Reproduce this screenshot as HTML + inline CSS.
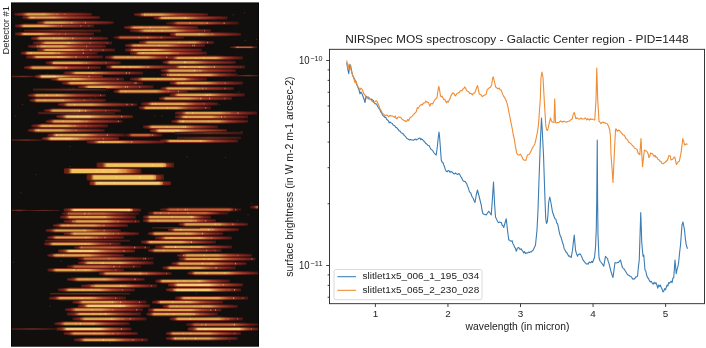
<!DOCTYPE html>
<html><head><meta charset="utf-8"><style>
html,body{margin:0;padding:0;background:#fff;width:706px;height:348px;overflow:hidden}
svg{display:block}
text{font-family:"Liberation Sans", sans-serif;fill:#222}
</style></head><body>
<svg width="706" height="348" viewBox="0 0 706 348">
<rect width="706" height="348" fill="#fff"/>
<defs><linearGradient id="g0" x1="0" x2="1" y1="0" y2="0"><stop offset="0.000" stop-color="#8a2620" stop-opacity="0.5"/><stop offset="0.096" stop-color="#8a2620" stop-opacity="1"/><stop offset="0.174" stop-color="#daa44e" stop-opacity="1"/><stop offset="0.383" stop-color="#daa44e" stop-opacity="1"/><stop offset="0.599" stop-color="#a8402a" stop-opacity="1"/><stop offset="0.900" stop-color="#74201e" stop-opacity="1"/><stop offset="1.000" stop-color="#8a2620" stop-opacity="0.3"/></linearGradient><linearGradient id="h0" x1="0" x2="1" y1="0" y2="0"><stop offset="0.000" stop-color="#521614" stop-opacity="0.6"/><stop offset="0.174" stop-color="#822c1e" stop-opacity="1"/><stop offset="0.383" stop-color="#822c1e" stop-opacity="1"/><stop offset="0.900" stop-color="#521614" stop-opacity="1"/><stop offset="1.000" stop-color="#521614" stop-opacity="0.5"/></linearGradient><linearGradient id="g1" x1="0" x2="1" y1="0" y2="0"><stop offset="0.000" stop-color="#8a2620" stop-opacity="0.5"/><stop offset="0.053" stop-color="#8a2620" stop-opacity="1"/><stop offset="0.097" stop-color="#daa44e" stop-opacity="1"/><stop offset="0.399" stop-color="#daa44e" stop-opacity="1"/><stop offset="0.609" stop-color="#a8402a" stop-opacity="1"/><stop offset="0.900" stop-color="#74201e" stop-opacity="1"/><stop offset="1.000" stop-color="#8a2620" stop-opacity="0.3"/></linearGradient><linearGradient id="h1" x1="0" x2="1" y1="0" y2="0"><stop offset="0.000" stop-color="#521614" stop-opacity="0.6"/><stop offset="0.097" stop-color="#822c1e" stop-opacity="1"/><stop offset="0.399" stop-color="#822c1e" stop-opacity="1"/><stop offset="0.900" stop-color="#521614" stop-opacity="1"/><stop offset="1.000" stop-color="#521614" stop-opacity="0.5"/></linearGradient><linearGradient id="g2" x1="0" x2="1" y1="0" y2="0"><stop offset="0.000" stop-color="#8a2620" stop-opacity="0.5"/><stop offset="0.065" stop-color="#8a2620" stop-opacity="1"/><stop offset="0.117" stop-color="#daa44e" stop-opacity="1"/><stop offset="0.329" stop-color="#daa44e" stop-opacity="1"/><stop offset="0.564" stop-color="#a8402a" stop-opacity="1"/><stop offset="0.900" stop-color="#74201e" stop-opacity="1"/><stop offset="1.000" stop-color="#8a2620" stop-opacity="0.3"/></linearGradient><linearGradient id="h2" x1="0" x2="1" y1="0" y2="0"><stop offset="0.000" stop-color="#521614" stop-opacity="0.6"/><stop offset="0.117" stop-color="#822c1e" stop-opacity="1"/><stop offset="0.329" stop-color="#822c1e" stop-opacity="1"/><stop offset="0.900" stop-color="#521614" stop-opacity="1"/><stop offset="1.000" stop-color="#521614" stop-opacity="0.5"/></linearGradient><linearGradient id="g3" x1="0" x2="1" y1="0" y2="0"><stop offset="0.000" stop-color="#8a2620" stop-opacity="0.5"/><stop offset="0.063" stop-color="#8a2620" stop-opacity="1"/><stop offset="0.114" stop-color="#daa44e" stop-opacity="1"/><stop offset="0.365" stop-color="#daa44e" stop-opacity="1"/><stop offset="0.587" stop-color="#a8402a" stop-opacity="1"/><stop offset="0.900" stop-color="#74201e" stop-opacity="1"/><stop offset="1.000" stop-color="#8a2620" stop-opacity="0.3"/></linearGradient><linearGradient id="h3" x1="0" x2="1" y1="0" y2="0"><stop offset="0.000" stop-color="#521614" stop-opacity="0.6"/><stop offset="0.114" stop-color="#822c1e" stop-opacity="1"/><stop offset="0.365" stop-color="#822c1e" stop-opacity="1"/><stop offset="0.900" stop-color="#521614" stop-opacity="1"/><stop offset="1.000" stop-color="#521614" stop-opacity="0.5"/></linearGradient><linearGradient id="g4" x1="0" x2="1" y1="0" y2="0"><stop offset="0.000" stop-color="#8a2620" stop-opacity="0.5"/><stop offset="0.074" stop-color="#8a2620" stop-opacity="1"/><stop offset="0.135" stop-color="#daa44e" stop-opacity="1"/><stop offset="0.573" stop-color="#daa44e" stop-opacity="1"/><stop offset="0.722" stop-color="#a8402a" stop-opacity="1"/><stop offset="0.900" stop-color="#74201e" stop-opacity="1"/><stop offset="1.000" stop-color="#8a2620" stop-opacity="0.3"/></linearGradient><linearGradient id="h4" x1="0" x2="1" y1="0" y2="0"><stop offset="0.000" stop-color="#521614" stop-opacity="0.6"/><stop offset="0.135" stop-color="#822c1e" stop-opacity="1"/><stop offset="0.573" stop-color="#822c1e" stop-opacity="1"/><stop offset="0.900" stop-color="#521614" stop-opacity="1"/><stop offset="1.000" stop-color="#521614" stop-opacity="0.5"/></linearGradient><linearGradient id="g5" x1="0" x2="1" y1="0" y2="0"><stop offset="0.000" stop-color="#4a2018" stop-opacity="0.9"/><stop offset="0.500" stop-color="#6e3024" stop-opacity="1"/><stop offset="1.000" stop-color="#461c16" stop-opacity="0.8"/></linearGradient><linearGradient id="h5" x1="0" x2="1" y1="0" y2="0"><stop offset="0.000" stop-color="#22100c" stop-opacity="0.8"/><stop offset="0.500" stop-color="#2e140e" stop-opacity="1"/><stop offset="1.000" stop-color="#22100c" stop-opacity="0.8"/></linearGradient><linearGradient id="g6" x1="0" x2="1" y1="0" y2="0"><stop offset="0.000" stop-color="#8a2620" stop-opacity="0.5"/><stop offset="0.063" stop-color="#8a2620" stop-opacity="1"/><stop offset="0.114" stop-color="#daa44e" stop-opacity="1"/><stop offset="0.319" stop-color="#daa44e" stop-opacity="1"/><stop offset="0.557" stop-color="#a8402a" stop-opacity="1"/><stop offset="0.900" stop-color="#74201e" stop-opacity="1"/><stop offset="1.000" stop-color="#8a2620" stop-opacity="0.3"/></linearGradient><linearGradient id="h6" x1="0" x2="1" y1="0" y2="0"><stop offset="0.000" stop-color="#521614" stop-opacity="0.6"/><stop offset="0.114" stop-color="#822c1e" stop-opacity="1"/><stop offset="0.319" stop-color="#822c1e" stop-opacity="1"/><stop offset="0.900" stop-color="#521614" stop-opacity="1"/><stop offset="1.000" stop-color="#521614" stop-opacity="0.5"/></linearGradient><linearGradient id="g7" x1="0" x2="1" y1="0" y2="0"><stop offset="0.000" stop-color="#6a1e14" stop-opacity="0.5"/><stop offset="0.055" stop-color="#6a1e14" stop-opacity="1"/><stop offset="0.099" stop-color="#c06034" stop-opacity="1"/><stop offset="0.475" stop-color="#c06034" stop-opacity="1"/><stop offset="0.659" stop-color="#9a3428" stop-opacity="1"/><stop offset="0.900" stop-color="#601a14" stop-opacity="1"/><stop offset="1.000" stop-color="#6a1e14" stop-opacity="0.3"/></linearGradient><linearGradient id="h7" x1="0" x2="1" y1="0" y2="0"><stop offset="0.000" stop-color="#3e120e" stop-opacity="0.6"/><stop offset="0.099" stop-color="#5a1c14" stop-opacity="1"/><stop offset="0.475" stop-color="#5a1c14" stop-opacity="1"/><stop offset="0.900" stop-color="#3e120e" stop-opacity="1"/><stop offset="1.000" stop-color="#3e120e" stop-opacity="0.5"/></linearGradient><linearGradient id="g8" x1="0" x2="1" y1="0" y2="0"><stop offset="0.000" stop-color="#8a2620" stop-opacity="0.5"/><stop offset="0.064" stop-color="#8a2620" stop-opacity="1"/><stop offset="0.117" stop-color="#daa44e" stop-opacity="1"/><stop offset="0.397" stop-color="#daa44e" stop-opacity="1"/><stop offset="0.608" stop-color="#a8402a" stop-opacity="1"/><stop offset="0.900" stop-color="#74201e" stop-opacity="1"/><stop offset="1.000" stop-color="#8a2620" stop-opacity="0.3"/></linearGradient><linearGradient id="h8" x1="0" x2="1" y1="0" y2="0"><stop offset="0.000" stop-color="#521614" stop-opacity="0.6"/><stop offset="0.117" stop-color="#822c1e" stop-opacity="1"/><stop offset="0.397" stop-color="#822c1e" stop-opacity="1"/><stop offset="0.900" stop-color="#521614" stop-opacity="1"/><stop offset="1.000" stop-color="#521614" stop-opacity="0.5"/></linearGradient><linearGradient id="g9" x1="0" x2="1" y1="0" y2="0"><stop offset="0.000" stop-color="#8a2620" stop-opacity="0.5"/><stop offset="0.091" stop-color="#8a2620" stop-opacity="1"/><stop offset="0.165" stop-color="#daa44e" stop-opacity="1"/><stop offset="0.461" stop-color="#daa44e" stop-opacity="1"/><stop offset="0.649" stop-color="#a8402a" stop-opacity="1"/><stop offset="0.900" stop-color="#74201e" stop-opacity="1"/><stop offset="1.000" stop-color="#8a2620" stop-opacity="0.3"/></linearGradient><linearGradient id="h9" x1="0" x2="1" y1="0" y2="0"><stop offset="0.000" stop-color="#521614" stop-opacity="0.6"/><stop offset="0.165" stop-color="#822c1e" stop-opacity="1"/><stop offset="0.461" stop-color="#822c1e" stop-opacity="1"/><stop offset="0.900" stop-color="#521614" stop-opacity="1"/><stop offset="1.000" stop-color="#521614" stop-opacity="0.5"/></linearGradient><linearGradient id="g10" x1="0" x2="1" y1="0" y2="0"><stop offset="0.000" stop-color="#8a2620" stop-opacity="0.5"/><stop offset="0.099" stop-color="#8a2620" stop-opacity="1"/><stop offset="0.179" stop-color="#daa44e" stop-opacity="1"/><stop offset="0.433" stop-color="#daa44e" stop-opacity="1"/><stop offset="0.632" stop-color="#a8402a" stop-opacity="1"/><stop offset="0.900" stop-color="#74201e" stop-opacity="1"/><stop offset="1.000" stop-color="#8a2620" stop-opacity="0.3"/></linearGradient><linearGradient id="h10" x1="0" x2="1" y1="0" y2="0"><stop offset="0.000" stop-color="#521614" stop-opacity="0.6"/><stop offset="0.179" stop-color="#822c1e" stop-opacity="1"/><stop offset="0.433" stop-color="#822c1e" stop-opacity="1"/><stop offset="0.900" stop-color="#521614" stop-opacity="1"/><stop offset="1.000" stop-color="#521614" stop-opacity="0.5"/></linearGradient><linearGradient id="g11" x1="0" x2="1" y1="0" y2="0"><stop offset="0.000" stop-color="#8a2620" stop-opacity="0.5"/><stop offset="0.063" stop-color="#8a2620" stop-opacity="1"/><stop offset="0.115" stop-color="#daa44e" stop-opacity="1"/><stop offset="0.415" stop-color="#daa44e" stop-opacity="1"/><stop offset="0.620" stop-color="#a8402a" stop-opacity="1"/><stop offset="0.900" stop-color="#74201e" stop-opacity="1"/><stop offset="1.000" stop-color="#8a2620" stop-opacity="0.3"/></linearGradient><linearGradient id="h11" x1="0" x2="1" y1="0" y2="0"><stop offset="0.000" stop-color="#521614" stop-opacity="0.6"/><stop offset="0.115" stop-color="#822c1e" stop-opacity="1"/><stop offset="0.415" stop-color="#822c1e" stop-opacity="1"/><stop offset="0.900" stop-color="#521614" stop-opacity="1"/><stop offset="1.000" stop-color="#521614" stop-opacity="0.5"/></linearGradient><linearGradient id="g12" x1="0" x2="1" y1="0" y2="0"><stop offset="0.000" stop-color="#8a2620" stop-opacity="0.5"/><stop offset="0.052" stop-color="#8a2620" stop-opacity="1"/><stop offset="0.095" stop-color="#daa44e" stop-opacity="1"/><stop offset="0.411" stop-color="#daa44e" stop-opacity="1"/><stop offset="0.617" stop-color="#a8402a" stop-opacity="1"/><stop offset="0.900" stop-color="#74201e" stop-opacity="1"/><stop offset="1.000" stop-color="#8a2620" stop-opacity="0.3"/></linearGradient><linearGradient id="h12" x1="0" x2="1" y1="0" y2="0"><stop offset="0.000" stop-color="#521614" stop-opacity="0.6"/><stop offset="0.095" stop-color="#822c1e" stop-opacity="1"/><stop offset="0.411" stop-color="#822c1e" stop-opacity="1"/><stop offset="0.900" stop-color="#521614" stop-opacity="1"/><stop offset="1.000" stop-color="#521614" stop-opacity="0.5"/></linearGradient><linearGradient id="g13" x1="0" x2="1" y1="0" y2="0"><stop offset="0.000" stop-color="#8a2620" stop-opacity="0.5"/><stop offset="0.079" stop-color="#8a2620" stop-opacity="1"/><stop offset="0.143" stop-color="#daa44e" stop-opacity="1"/><stop offset="0.458" stop-color="#daa44e" stop-opacity="1"/><stop offset="0.648" stop-color="#a8402a" stop-opacity="1"/><stop offset="0.900" stop-color="#74201e" stop-opacity="1"/><stop offset="1.000" stop-color="#8a2620" stop-opacity="0.3"/></linearGradient><linearGradient id="h13" x1="0" x2="1" y1="0" y2="0"><stop offset="0.000" stop-color="#521614" stop-opacity="0.6"/><stop offset="0.143" stop-color="#822c1e" stop-opacity="1"/><stop offset="0.458" stop-color="#822c1e" stop-opacity="1"/><stop offset="0.900" stop-color="#521614" stop-opacity="1"/><stop offset="1.000" stop-color="#521614" stop-opacity="0.5"/></linearGradient><linearGradient id="g14" x1="0" x2="1" y1="0" y2="0"><stop offset="0.000" stop-color="#8a2620" stop-opacity="0.5"/><stop offset="0.082" stop-color="#8a2620" stop-opacity="1"/><stop offset="0.149" stop-color="#daa44e" stop-opacity="1"/><stop offset="0.368" stop-color="#daa44e" stop-opacity="1"/><stop offset="0.589" stop-color="#a8402a" stop-opacity="1"/><stop offset="0.900" stop-color="#74201e" stop-opacity="1"/><stop offset="1.000" stop-color="#8a2620" stop-opacity="0.3"/></linearGradient><linearGradient id="h14" x1="0" x2="1" y1="0" y2="0"><stop offset="0.000" stop-color="#521614" stop-opacity="0.6"/><stop offset="0.149" stop-color="#822c1e" stop-opacity="1"/><stop offset="0.368" stop-color="#822c1e" stop-opacity="1"/><stop offset="0.900" stop-color="#521614" stop-opacity="1"/><stop offset="1.000" stop-color="#521614" stop-opacity="0.5"/></linearGradient><linearGradient id="g15" x1="0" x2="1" y1="0" y2="0"><stop offset="0.000" stop-color="#8a2620" stop-opacity="0.5"/><stop offset="0.062" stop-color="#8a2620" stop-opacity="1"/><stop offset="0.113" stop-color="#daa44e" stop-opacity="1"/><stop offset="0.429" stop-color="#daa44e" stop-opacity="1"/><stop offset="0.629" stop-color="#a8402a" stop-opacity="1"/><stop offset="0.900" stop-color="#74201e" stop-opacity="1"/><stop offset="1.000" stop-color="#8a2620" stop-opacity="0.3"/></linearGradient><linearGradient id="h15" x1="0" x2="1" y1="0" y2="0"><stop offset="0.000" stop-color="#521614" stop-opacity="0.6"/><stop offset="0.113" stop-color="#822c1e" stop-opacity="1"/><stop offset="0.429" stop-color="#822c1e" stop-opacity="1"/><stop offset="0.900" stop-color="#521614" stop-opacity="1"/><stop offset="1.000" stop-color="#521614" stop-opacity="0.5"/></linearGradient><linearGradient id="g16" x1="0" x2="1" y1="0" y2="0"><stop offset="0.000" stop-color="#6a1e14" stop-opacity="0.5"/><stop offset="0.090" stop-color="#6a1e14" stop-opacity="1"/><stop offset="0.164" stop-color="#c06034" stop-opacity="1"/><stop offset="0.497" stop-color="#c06034" stop-opacity="1"/><stop offset="0.673" stop-color="#9a3428" stop-opacity="1"/><stop offset="0.900" stop-color="#601a14" stop-opacity="1"/><stop offset="1.000" stop-color="#6a1e14" stop-opacity="0.3"/></linearGradient><linearGradient id="h16" x1="0" x2="1" y1="0" y2="0"><stop offset="0.000" stop-color="#3e120e" stop-opacity="0.6"/><stop offset="0.164" stop-color="#5a1c14" stop-opacity="1"/><stop offset="0.497" stop-color="#5a1c14" stop-opacity="1"/><stop offset="0.900" stop-color="#3e120e" stop-opacity="1"/><stop offset="1.000" stop-color="#3e120e" stop-opacity="0.5"/></linearGradient><linearGradient id="g17" x1="0" x2="1" y1="0" y2="0"><stop offset="0.000" stop-color="#8a2620" stop-opacity="0.5"/><stop offset="0.102" stop-color="#8a2620" stop-opacity="1"/><stop offset="0.185" stop-color="#daa44e" stop-opacity="1"/><stop offset="0.552" stop-color="#daa44e" stop-opacity="1"/><stop offset="0.709" stop-color="#a8402a" stop-opacity="1"/><stop offset="0.900" stop-color="#74201e" stop-opacity="1"/><stop offset="1.000" stop-color="#8a2620" stop-opacity="0.3"/></linearGradient><linearGradient id="h17" x1="0" x2="1" y1="0" y2="0"><stop offset="0.000" stop-color="#521614" stop-opacity="0.6"/><stop offset="0.185" stop-color="#822c1e" stop-opacity="1"/><stop offset="0.552" stop-color="#822c1e" stop-opacity="1"/><stop offset="0.900" stop-color="#521614" stop-opacity="1"/><stop offset="1.000" stop-color="#521614" stop-opacity="0.5"/></linearGradient><linearGradient id="g18" x1="0" x2="1" y1="0" y2="0"><stop offset="0.000" stop-color="#8a2620" stop-opacity="0.5"/><stop offset="0.054" stop-color="#8a2620" stop-opacity="1"/><stop offset="0.099" stop-color="#daa44e" stop-opacity="1"/><stop offset="0.454" stop-color="#daa44e" stop-opacity="1"/><stop offset="0.645" stop-color="#a8402a" stop-opacity="1"/><stop offset="0.900" stop-color="#74201e" stop-opacity="1"/><stop offset="1.000" stop-color="#8a2620" stop-opacity="0.3"/></linearGradient><linearGradient id="h18" x1="0" x2="1" y1="0" y2="0"><stop offset="0.000" stop-color="#521614" stop-opacity="0.6"/><stop offset="0.099" stop-color="#822c1e" stop-opacity="1"/><stop offset="0.454" stop-color="#822c1e" stop-opacity="1"/><stop offset="0.900" stop-color="#521614" stop-opacity="1"/><stop offset="1.000" stop-color="#521614" stop-opacity="0.5"/></linearGradient><linearGradient id="g19" x1="0" x2="1" y1="0" y2="0"><stop offset="0.000" stop-color="#8a2620" stop-opacity="0.5"/><stop offset="0.066" stop-color="#8a2620" stop-opacity="1"/><stop offset="0.120" stop-color="#daa44e" stop-opacity="1"/><stop offset="0.744" stop-color="#daa44e" stop-opacity="1"/><stop offset="0.834" stop-color="#a8402a" stop-opacity="1"/><stop offset="0.900" stop-color="#74201e" stop-opacity="1"/><stop offset="1.000" stop-color="#8a2620" stop-opacity="0.3"/></linearGradient><linearGradient id="h19" x1="0" x2="1" y1="0" y2="0"><stop offset="0.000" stop-color="#521614" stop-opacity="0.6"/><stop offset="0.120" stop-color="#822c1e" stop-opacity="1"/><stop offset="0.744" stop-color="#822c1e" stop-opacity="1"/><stop offset="0.900" stop-color="#521614" stop-opacity="1"/><stop offset="1.000" stop-color="#521614" stop-opacity="0.5"/></linearGradient><linearGradient id="g20" x1="0" x2="1" y1="0" y2="0"><stop offset="0.000" stop-color="#8a2620" stop-opacity="0.5"/><stop offset="0.062" stop-color="#8a2620" stop-opacity="1"/><stop offset="0.113" stop-color="#daa44e" stop-opacity="1"/><stop offset="0.518" stop-color="#daa44e" stop-opacity="1"/><stop offset="0.686" stop-color="#a8402a" stop-opacity="1"/><stop offset="0.900" stop-color="#74201e" stop-opacity="1"/><stop offset="1.000" stop-color="#8a2620" stop-opacity="0.3"/></linearGradient><linearGradient id="h20" x1="0" x2="1" y1="0" y2="0"><stop offset="0.000" stop-color="#521614" stop-opacity="0.6"/><stop offset="0.113" stop-color="#822c1e" stop-opacity="1"/><stop offset="0.518" stop-color="#822c1e" stop-opacity="1"/><stop offset="0.900" stop-color="#521614" stop-opacity="1"/><stop offset="1.000" stop-color="#521614" stop-opacity="0.5"/></linearGradient><linearGradient id="g21" x1="0" x2="1" y1="0" y2="0"><stop offset="0.000" stop-color="#6a1e14" stop-opacity="0.5"/><stop offset="0.143" stop-color="#6a1e14" stop-opacity="1"/><stop offset="0.259" stop-color="#c06034" stop-opacity="1"/><stop offset="0.759" stop-color="#c06034" stop-opacity="1"/><stop offset="0.844" stop-color="#9a3428" stop-opacity="1"/><stop offset="0.900" stop-color="#601a14" stop-opacity="1"/><stop offset="1.000" stop-color="#6a1e14" stop-opacity="0.3"/></linearGradient><linearGradient id="h21" x1="0" x2="1" y1="0" y2="0"><stop offset="0.000" stop-color="#3e120e" stop-opacity="0.6"/><stop offset="0.259" stop-color="#5a1c14" stop-opacity="1"/><stop offset="0.759" stop-color="#5a1c14" stop-opacity="1"/><stop offset="0.900" stop-color="#3e120e" stop-opacity="1"/><stop offset="1.000" stop-color="#3e120e" stop-opacity="0.5"/></linearGradient><linearGradient id="g22" x1="0" x2="1" y1="0" y2="0"><stop offset="0.000" stop-color="#8a2620" stop-opacity="0.5"/><stop offset="0.064" stop-color="#8a2620" stop-opacity="1"/><stop offset="0.117" stop-color="#daa44e" stop-opacity="1"/><stop offset="0.421" stop-color="#daa44e" stop-opacity="1"/><stop offset="0.624" stop-color="#a8402a" stop-opacity="1"/><stop offset="0.900" stop-color="#74201e" stop-opacity="1"/><stop offset="1.000" stop-color="#8a2620" stop-opacity="0.3"/></linearGradient><linearGradient id="h22" x1="0" x2="1" y1="0" y2="0"><stop offset="0.000" stop-color="#521614" stop-opacity="0.6"/><stop offset="0.117" stop-color="#822c1e" stop-opacity="1"/><stop offset="0.421" stop-color="#822c1e" stop-opacity="1"/><stop offset="0.900" stop-color="#521614" stop-opacity="1"/><stop offset="1.000" stop-color="#521614" stop-opacity="0.5"/></linearGradient><linearGradient id="g23" x1="0" x2="1" y1="0" y2="0"><stop offset="0.000" stop-color="#8a2620" stop-opacity="0.5"/><stop offset="0.071" stop-color="#8a2620" stop-opacity="1"/><stop offset="0.130" stop-color="#daa44e" stop-opacity="1"/><stop offset="0.481" stop-color="#daa44e" stop-opacity="1"/><stop offset="0.662" stop-color="#a8402a" stop-opacity="1"/><stop offset="0.900" stop-color="#74201e" stop-opacity="1"/><stop offset="1.000" stop-color="#8a2620" stop-opacity="0.3"/></linearGradient><linearGradient id="h23" x1="0" x2="1" y1="0" y2="0"><stop offset="0.000" stop-color="#521614" stop-opacity="0.6"/><stop offset="0.130" stop-color="#822c1e" stop-opacity="1"/><stop offset="0.481" stop-color="#822c1e" stop-opacity="1"/><stop offset="0.900" stop-color="#521614" stop-opacity="1"/><stop offset="1.000" stop-color="#521614" stop-opacity="0.5"/></linearGradient><linearGradient id="g24" x1="0" x2="1" y1="0" y2="0"><stop offset="0.000" stop-color="#8a2620" stop-opacity="0.5"/><stop offset="0.073" stop-color="#8a2620" stop-opacity="1"/><stop offset="0.133" stop-color="#daa44e" stop-opacity="1"/><stop offset="0.553" stop-color="#daa44e" stop-opacity="1"/><stop offset="0.710" stop-color="#a8402a" stop-opacity="1"/><stop offset="0.900" stop-color="#74201e" stop-opacity="1"/><stop offset="1.000" stop-color="#8a2620" stop-opacity="0.3"/></linearGradient><linearGradient id="h24" x1="0" x2="1" y1="0" y2="0"><stop offset="0.000" stop-color="#521614" stop-opacity="0.6"/><stop offset="0.133" stop-color="#822c1e" stop-opacity="1"/><stop offset="0.553" stop-color="#822c1e" stop-opacity="1"/><stop offset="0.900" stop-color="#521614" stop-opacity="1"/><stop offset="1.000" stop-color="#521614" stop-opacity="0.5"/></linearGradient><linearGradient id="g25" x1="0" x2="1" y1="0" y2="0"><stop offset="0.000" stop-color="#8a2620" stop-opacity="0.5"/><stop offset="0.086" stop-color="#8a2620" stop-opacity="1"/><stop offset="0.156" stop-color="#daa44e" stop-opacity="1"/><stop offset="0.647" stop-color="#daa44e" stop-opacity="1"/><stop offset="0.770" stop-color="#a8402a" stop-opacity="1"/><stop offset="0.900" stop-color="#74201e" stop-opacity="1"/><stop offset="1.000" stop-color="#8a2620" stop-opacity="0.3"/></linearGradient><linearGradient id="h25" x1="0" x2="1" y1="0" y2="0"><stop offset="0.000" stop-color="#521614" stop-opacity="0.6"/><stop offset="0.156" stop-color="#822c1e" stop-opacity="1"/><stop offset="0.647" stop-color="#822c1e" stop-opacity="1"/><stop offset="0.900" stop-color="#521614" stop-opacity="1"/><stop offset="1.000" stop-color="#521614" stop-opacity="0.5"/></linearGradient><linearGradient id="g26" x1="0" x2="1" y1="0" y2="0"><stop offset="0.000" stop-color="#8a2620" stop-opacity="0.5"/><stop offset="0.065" stop-color="#8a2620" stop-opacity="1"/><stop offset="0.119" stop-color="#daa44e" stop-opacity="1"/><stop offset="0.435" stop-color="#daa44e" stop-opacity="1"/><stop offset="0.633" stop-color="#a8402a" stop-opacity="1"/><stop offset="0.900" stop-color="#74201e" stop-opacity="1"/><stop offset="1.000" stop-color="#8a2620" stop-opacity="0.3"/></linearGradient><linearGradient id="h26" x1="0" x2="1" y1="0" y2="0"><stop offset="0.000" stop-color="#521614" stop-opacity="0.6"/><stop offset="0.119" stop-color="#822c1e" stop-opacity="1"/><stop offset="0.435" stop-color="#822c1e" stop-opacity="1"/><stop offset="0.900" stop-color="#521614" stop-opacity="1"/><stop offset="1.000" stop-color="#521614" stop-opacity="0.5"/></linearGradient><linearGradient id="g27" x1="0" x2="1" y1="0" y2="0"><stop offset="0.000" stop-color="#8a2620" stop-opacity="0.5"/><stop offset="0.064" stop-color="#8a2620" stop-opacity="1"/><stop offset="0.117" stop-color="#daa44e" stop-opacity="1"/><stop offset="0.369" stop-color="#daa44e" stop-opacity="1"/><stop offset="0.590" stop-color="#a8402a" stop-opacity="1"/><stop offset="0.900" stop-color="#74201e" stop-opacity="1"/><stop offset="1.000" stop-color="#8a2620" stop-opacity="0.3"/></linearGradient><linearGradient id="h27" x1="0" x2="1" y1="0" y2="0"><stop offset="0.000" stop-color="#521614" stop-opacity="0.6"/><stop offset="0.117" stop-color="#822c1e" stop-opacity="1"/><stop offset="0.369" stop-color="#822c1e" stop-opacity="1"/><stop offset="0.900" stop-color="#521614" stop-opacity="1"/><stop offset="1.000" stop-color="#521614" stop-opacity="0.5"/></linearGradient><linearGradient id="g28" x1="0" x2="1" y1="0" y2="0"><stop offset="0.000" stop-color="#8a2620" stop-opacity="0.5"/><stop offset="0.050" stop-color="#8a2620" stop-opacity="1"/><stop offset="0.091" stop-color="#daa44e" stop-opacity="1"/><stop offset="0.406" stop-color="#daa44e" stop-opacity="1"/><stop offset="0.614" stop-color="#a8402a" stop-opacity="1"/><stop offset="0.900" stop-color="#74201e" stop-opacity="1"/><stop offset="1.000" stop-color="#8a2620" stop-opacity="0.3"/></linearGradient><linearGradient id="h28" x1="0" x2="1" y1="0" y2="0"><stop offset="0.000" stop-color="#521614" stop-opacity="0.6"/><stop offset="0.091" stop-color="#822c1e" stop-opacity="1"/><stop offset="0.406" stop-color="#822c1e" stop-opacity="1"/><stop offset="0.900" stop-color="#521614" stop-opacity="1"/><stop offset="1.000" stop-color="#521614" stop-opacity="0.5"/></linearGradient><linearGradient id="g29" x1="0" x2="1" y1="0" y2="0"><stop offset="0.000" stop-color="#8a2620" stop-opacity="0.5"/><stop offset="0.086" stop-color="#8a2620" stop-opacity="1"/><stop offset="0.156" stop-color="#daa44e" stop-opacity="1"/><stop offset="0.360" stop-color="#daa44e" stop-opacity="1"/><stop offset="0.584" stop-color="#a8402a" stop-opacity="1"/><stop offset="0.900" stop-color="#74201e" stop-opacity="1"/><stop offset="1.000" stop-color="#8a2620" stop-opacity="0.3"/></linearGradient><linearGradient id="h29" x1="0" x2="1" y1="0" y2="0"><stop offset="0.000" stop-color="#521614" stop-opacity="0.6"/><stop offset="0.156" stop-color="#822c1e" stop-opacity="1"/><stop offset="0.360" stop-color="#822c1e" stop-opacity="1"/><stop offset="0.900" stop-color="#521614" stop-opacity="1"/><stop offset="1.000" stop-color="#521614" stop-opacity="0.5"/></linearGradient><linearGradient id="g30" x1="0" x2="1" y1="0" y2="0"><stop offset="0.000" stop-color="#4a2018" stop-opacity="0.9"/><stop offset="0.500" stop-color="#6e3024" stop-opacity="1"/><stop offset="1.000" stop-color="#461c16" stop-opacity="0.8"/></linearGradient><linearGradient id="h30" x1="0" x2="1" y1="0" y2="0"><stop offset="0.000" stop-color="#22100c" stop-opacity="0.8"/><stop offset="0.500" stop-color="#2e140e" stop-opacity="1"/><stop offset="1.000" stop-color="#22100c" stop-opacity="0.8"/></linearGradient><linearGradient id="g31" x1="0" x2="1" y1="0" y2="0"><stop offset="0.000" stop-color="#9a3020" stop-opacity="0.5"/><stop offset="0.057" stop-color="#9a3020" stop-opacity="1"/><stop offset="0.103" stop-color="#eecb74" stop-opacity="1"/><stop offset="0.275" stop-color="#eecb74" stop-opacity="1"/><stop offset="0.529" stop-color="#c46038" stop-opacity="1"/><stop offset="0.900" stop-color="#8a2a1e" stop-opacity="1"/><stop offset="1.000" stop-color="#9a3020" stop-opacity="0.3"/></linearGradient><linearGradient id="h31" x1="0" x2="1" y1="0" y2="0"><stop offset="0.000" stop-color="#5e1a14" stop-opacity="0.6"/><stop offset="0.103" stop-color="#9a4426" stop-opacity="1"/><stop offset="0.275" stop-color="#9a4426" stop-opacity="1"/><stop offset="0.900" stop-color="#5e1a14" stop-opacity="1"/><stop offset="1.000" stop-color="#5e1a14" stop-opacity="0.5"/></linearGradient><linearGradient id="g32" x1="0" x2="1" y1="0" y2="0"><stop offset="0.000" stop-color="#8a2620" stop-opacity="0.5"/><stop offset="0.068" stop-color="#8a2620" stop-opacity="1"/><stop offset="0.123" stop-color="#daa44e" stop-opacity="1"/><stop offset="0.370" stop-color="#daa44e" stop-opacity="1"/><stop offset="0.590" stop-color="#a8402a" stop-opacity="1"/><stop offset="0.900" stop-color="#74201e" stop-opacity="1"/><stop offset="1.000" stop-color="#8a2620" stop-opacity="0.3"/></linearGradient><linearGradient id="h32" x1="0" x2="1" y1="0" y2="0"><stop offset="0.000" stop-color="#521614" stop-opacity="0.6"/><stop offset="0.123" stop-color="#822c1e" stop-opacity="1"/><stop offset="0.370" stop-color="#822c1e" stop-opacity="1"/><stop offset="0.900" stop-color="#521614" stop-opacity="1"/><stop offset="1.000" stop-color="#521614" stop-opacity="0.5"/></linearGradient><linearGradient id="g33" x1="0" x2="1" y1="0" y2="0"><stop offset="0.000" stop-color="#8a2620" stop-opacity="0.5"/><stop offset="0.060" stop-color="#8a2620" stop-opacity="1"/><stop offset="0.110" stop-color="#daa44e" stop-opacity="1"/><stop offset="0.368" stop-color="#daa44e" stop-opacity="1"/><stop offset="0.589" stop-color="#a8402a" stop-opacity="1"/><stop offset="0.900" stop-color="#74201e" stop-opacity="1"/><stop offset="1.000" stop-color="#8a2620" stop-opacity="0.3"/></linearGradient><linearGradient id="h33" x1="0" x2="1" y1="0" y2="0"><stop offset="0.000" stop-color="#521614" stop-opacity="0.6"/><stop offset="0.110" stop-color="#822c1e" stop-opacity="1"/><stop offset="0.368" stop-color="#822c1e" stop-opacity="1"/><stop offset="0.900" stop-color="#521614" stop-opacity="1"/><stop offset="1.000" stop-color="#521614" stop-opacity="0.5"/></linearGradient><linearGradient id="g34" x1="0" x2="1" y1="0" y2="0"><stop offset="0.000" stop-color="#8a2620" stop-opacity="0.5"/><stop offset="0.078" stop-color="#8a2620" stop-opacity="1"/><stop offset="0.141" stop-color="#daa44e" stop-opacity="1"/><stop offset="0.396" stop-color="#daa44e" stop-opacity="1"/><stop offset="0.607" stop-color="#a8402a" stop-opacity="1"/><stop offset="0.900" stop-color="#74201e" stop-opacity="1"/><stop offset="1.000" stop-color="#8a2620" stop-opacity="0.3"/></linearGradient><linearGradient id="h34" x1="0" x2="1" y1="0" y2="0"><stop offset="0.000" stop-color="#521614" stop-opacity="0.6"/><stop offset="0.141" stop-color="#822c1e" stop-opacity="1"/><stop offset="0.396" stop-color="#822c1e" stop-opacity="1"/><stop offset="0.900" stop-color="#521614" stop-opacity="1"/><stop offset="1.000" stop-color="#521614" stop-opacity="0.5"/></linearGradient><linearGradient id="g35" x1="0" x2="1" y1="0" y2="0"><stop offset="0.000" stop-color="#4a2018" stop-opacity="0.9"/><stop offset="0.500" stop-color="#6e3024" stop-opacity="1"/><stop offset="1.000" stop-color="#461c16" stop-opacity="0.8"/></linearGradient><linearGradient id="h35" x1="0" x2="1" y1="0" y2="0"><stop offset="0.000" stop-color="#22100c" stop-opacity="0.8"/><stop offset="0.500" stop-color="#2e140e" stop-opacity="1"/><stop offset="1.000" stop-color="#22100c" stop-opacity="0.8"/></linearGradient><linearGradient id="g36" x1="0" x2="1" y1="0" y2="0"><stop offset="0.000" stop-color="#8a2620" stop-opacity="0.5"/><stop offset="0.052" stop-color="#8a2620" stop-opacity="1"/><stop offset="0.095" stop-color="#daa44e" stop-opacity="1"/><stop offset="0.574" stop-color="#daa44e" stop-opacity="1"/><stop offset="0.723" stop-color="#a8402a" stop-opacity="1"/><stop offset="0.900" stop-color="#74201e" stop-opacity="1"/><stop offset="1.000" stop-color="#8a2620" stop-opacity="0.3"/></linearGradient><linearGradient id="h36" x1="0" x2="1" y1="0" y2="0"><stop offset="0.000" stop-color="#521614" stop-opacity="0.6"/><stop offset="0.095" stop-color="#822c1e" stop-opacity="1"/><stop offset="0.574" stop-color="#822c1e" stop-opacity="1"/><stop offset="0.900" stop-color="#521614" stop-opacity="1"/><stop offset="1.000" stop-color="#521614" stop-opacity="0.5"/></linearGradient><linearGradient id="g37" x1="0" x2="1" y1="0" y2="0"><stop offset="0.000" stop-color="#8a2620" stop-opacity="0.5"/><stop offset="0.063" stop-color="#8a2620" stop-opacity="1"/><stop offset="0.114" stop-color="#daa44e" stop-opacity="1"/><stop offset="0.423" stop-color="#daa44e" stop-opacity="1"/><stop offset="0.625" stop-color="#a8402a" stop-opacity="1"/><stop offset="0.900" stop-color="#74201e" stop-opacity="1"/><stop offset="1.000" stop-color="#8a2620" stop-opacity="0.3"/></linearGradient><linearGradient id="h37" x1="0" x2="1" y1="0" y2="0"><stop offset="0.000" stop-color="#521614" stop-opacity="0.6"/><stop offset="0.114" stop-color="#822c1e" stop-opacity="1"/><stop offset="0.423" stop-color="#822c1e" stop-opacity="1"/><stop offset="0.900" stop-color="#521614" stop-opacity="1"/><stop offset="1.000" stop-color="#521614" stop-opacity="0.5"/></linearGradient><linearGradient id="g38" x1="0" x2="1" y1="0" y2="0"><stop offset="0.000" stop-color="#8a2620" stop-opacity="0.5"/><stop offset="0.052" stop-color="#8a2620" stop-opacity="1"/><stop offset="0.094" stop-color="#daa44e" stop-opacity="1"/><stop offset="0.410" stop-color="#daa44e" stop-opacity="1"/><stop offset="0.616" stop-color="#a8402a" stop-opacity="1"/><stop offset="0.900" stop-color="#74201e" stop-opacity="1"/><stop offset="1.000" stop-color="#8a2620" stop-opacity="0.3"/></linearGradient><linearGradient id="h38" x1="0" x2="1" y1="0" y2="0"><stop offset="0.000" stop-color="#521614" stop-opacity="0.6"/><stop offset="0.094" stop-color="#822c1e" stop-opacity="1"/><stop offset="0.410" stop-color="#822c1e" stop-opacity="1"/><stop offset="0.900" stop-color="#521614" stop-opacity="1"/><stop offset="1.000" stop-color="#521614" stop-opacity="0.5"/></linearGradient><linearGradient id="g39" x1="0" x2="1" y1="0" y2="0"><stop offset="0.000" stop-color="#8a2620" stop-opacity="0.5"/><stop offset="0.070" stop-color="#8a2620" stop-opacity="1"/><stop offset="0.127" stop-color="#daa44e" stop-opacity="1"/><stop offset="0.423" stop-color="#daa44e" stop-opacity="1"/><stop offset="0.625" stop-color="#a8402a" stop-opacity="1"/><stop offset="0.900" stop-color="#74201e" stop-opacity="1"/><stop offset="1.000" stop-color="#8a2620" stop-opacity="0.3"/></linearGradient><linearGradient id="h39" x1="0" x2="1" y1="0" y2="0"><stop offset="0.000" stop-color="#521614" stop-opacity="0.6"/><stop offset="0.127" stop-color="#822c1e" stop-opacity="1"/><stop offset="0.423" stop-color="#822c1e" stop-opacity="1"/><stop offset="0.900" stop-color="#521614" stop-opacity="1"/><stop offset="1.000" stop-color="#521614" stop-opacity="0.5"/></linearGradient><linearGradient id="g40" x1="0" x2="1" y1="0" y2="0"><stop offset="0.000" stop-color="#8a2620" stop-opacity="0.5"/><stop offset="0.053" stop-color="#8a2620" stop-opacity="1"/><stop offset="0.097" stop-color="#daa44e" stop-opacity="1"/><stop offset="0.522" stop-color="#daa44e" stop-opacity="1"/><stop offset="0.689" stop-color="#a8402a" stop-opacity="1"/><stop offset="0.900" stop-color="#74201e" stop-opacity="1"/><stop offset="1.000" stop-color="#8a2620" stop-opacity="0.3"/></linearGradient><linearGradient id="h40" x1="0" x2="1" y1="0" y2="0"><stop offset="0.000" stop-color="#521614" stop-opacity="0.6"/><stop offset="0.097" stop-color="#822c1e" stop-opacity="1"/><stop offset="0.522" stop-color="#822c1e" stop-opacity="1"/><stop offset="0.900" stop-color="#521614" stop-opacity="1"/><stop offset="1.000" stop-color="#521614" stop-opacity="0.5"/></linearGradient><linearGradient id="g41" x1="0" x2="1" y1="0" y2="0"><stop offset="0.000" stop-color="#8a2620" stop-opacity="0.5"/><stop offset="0.065" stop-color="#8a2620" stop-opacity="1"/><stop offset="0.117" stop-color="#daa44e" stop-opacity="1"/><stop offset="0.446" stop-color="#daa44e" stop-opacity="1"/><stop offset="0.640" stop-color="#a8402a" stop-opacity="1"/><stop offset="0.900" stop-color="#74201e" stop-opacity="1"/><stop offset="1.000" stop-color="#8a2620" stop-opacity="0.3"/></linearGradient><linearGradient id="h41" x1="0" x2="1" y1="0" y2="0"><stop offset="0.000" stop-color="#521614" stop-opacity="0.6"/><stop offset="0.117" stop-color="#822c1e" stop-opacity="1"/><stop offset="0.446" stop-color="#822c1e" stop-opacity="1"/><stop offset="0.900" stop-color="#521614" stop-opacity="1"/><stop offset="1.000" stop-color="#521614" stop-opacity="0.5"/></linearGradient><linearGradient id="g42" x1="0" x2="1" y1="0" y2="0"><stop offset="0.000" stop-color="#4a2018" stop-opacity="0.9"/><stop offset="0.500" stop-color="#6e3024" stop-opacity="1"/><stop offset="1.000" stop-color="#461c16" stop-opacity="0.8"/></linearGradient><linearGradient id="h42" x1="0" x2="1" y1="0" y2="0"><stop offset="0.000" stop-color="#22100c" stop-opacity="0.8"/><stop offset="0.500" stop-color="#2e140e" stop-opacity="1"/><stop offset="1.000" stop-color="#22100c" stop-opacity="0.8"/></linearGradient><linearGradient id="g43" x1="0" x2="1" y1="0" y2="0"><stop offset="0.000" stop-color="#8a2620" stop-opacity="0.5"/><stop offset="0.056" stop-color="#8a2620" stop-opacity="1"/><stop offset="0.101" stop-color="#daa44e" stop-opacity="1"/><stop offset="0.421" stop-color="#daa44e" stop-opacity="1"/><stop offset="0.623" stop-color="#a8402a" stop-opacity="1"/><stop offset="0.900" stop-color="#74201e" stop-opacity="1"/><stop offset="1.000" stop-color="#8a2620" stop-opacity="0.3"/></linearGradient><linearGradient id="h43" x1="0" x2="1" y1="0" y2="0"><stop offset="0.000" stop-color="#521614" stop-opacity="0.6"/><stop offset="0.101" stop-color="#822c1e" stop-opacity="1"/><stop offset="0.421" stop-color="#822c1e" stop-opacity="1"/><stop offset="0.900" stop-color="#521614" stop-opacity="1"/><stop offset="1.000" stop-color="#521614" stop-opacity="0.5"/></linearGradient><linearGradient id="g44" x1="0" x2="1" y1="0" y2="0"><stop offset="0.000" stop-color="#8a2620" stop-opacity="0.5"/><stop offset="0.073" stop-color="#8a2620" stop-opacity="1"/><stop offset="0.133" stop-color="#daa44e" stop-opacity="1"/><stop offset="0.433" stop-color="#daa44e" stop-opacity="1"/><stop offset="0.632" stop-color="#a8402a" stop-opacity="1"/><stop offset="0.900" stop-color="#74201e" stop-opacity="1"/><stop offset="1.000" stop-color="#8a2620" stop-opacity="0.3"/></linearGradient><linearGradient id="h44" x1="0" x2="1" y1="0" y2="0"><stop offset="0.000" stop-color="#521614" stop-opacity="0.6"/><stop offset="0.133" stop-color="#822c1e" stop-opacity="1"/><stop offset="0.433" stop-color="#822c1e" stop-opacity="1"/><stop offset="0.900" stop-color="#521614" stop-opacity="1"/><stop offset="1.000" stop-color="#521614" stop-opacity="0.5"/></linearGradient><linearGradient id="g45" x1="0" x2="1" y1="0" y2="0"><stop offset="0.000" stop-color="#8a2620" stop-opacity="0.5"/><stop offset="0.067" stop-color="#8a2620" stop-opacity="1"/><stop offset="0.123" stop-color="#daa44e" stop-opacity="1"/><stop offset="0.435" stop-color="#daa44e" stop-opacity="1"/><stop offset="0.633" stop-color="#a8402a" stop-opacity="1"/><stop offset="0.900" stop-color="#74201e" stop-opacity="1"/><stop offset="1.000" stop-color="#8a2620" stop-opacity="0.3"/></linearGradient><linearGradient id="h45" x1="0" x2="1" y1="0" y2="0"><stop offset="0.000" stop-color="#521614" stop-opacity="0.6"/><stop offset="0.123" stop-color="#822c1e" stop-opacity="1"/><stop offset="0.435" stop-color="#822c1e" stop-opacity="1"/><stop offset="0.900" stop-color="#521614" stop-opacity="1"/><stop offset="1.000" stop-color="#521614" stop-opacity="0.5"/></linearGradient><linearGradient id="g46" x1="0" x2="1" y1="0" y2="0"><stop offset="0.000" stop-color="#8a2620" stop-opacity="0.5"/><stop offset="0.066" stop-color="#8a2620" stop-opacity="1"/><stop offset="0.120" stop-color="#daa44e" stop-opacity="1"/><stop offset="0.635" stop-color="#daa44e" stop-opacity="1"/><stop offset="0.763" stop-color="#a8402a" stop-opacity="1"/><stop offset="0.900" stop-color="#74201e" stop-opacity="1"/><stop offset="1.000" stop-color="#8a2620" stop-opacity="0.3"/></linearGradient><linearGradient id="h46" x1="0" x2="1" y1="0" y2="0"><stop offset="0.000" stop-color="#521614" stop-opacity="0.6"/><stop offset="0.120" stop-color="#822c1e" stop-opacity="1"/><stop offset="0.635" stop-color="#822c1e" stop-opacity="1"/><stop offset="0.900" stop-color="#521614" stop-opacity="1"/><stop offset="1.000" stop-color="#521614" stop-opacity="0.5"/></linearGradient><linearGradient id="g47" x1="0" x2="1" y1="0" y2="0"><stop offset="0.000" stop-color="#4a2018" stop-opacity="0.9"/><stop offset="0.500" stop-color="#6e3024" stop-opacity="1"/><stop offset="1.000" stop-color="#461c16" stop-opacity="0.8"/></linearGradient><linearGradient id="h47" x1="0" x2="1" y1="0" y2="0"><stop offset="0.000" stop-color="#22100c" stop-opacity="0.8"/><stop offset="0.500" stop-color="#2e140e" stop-opacity="1"/><stop offset="1.000" stop-color="#22100c" stop-opacity="0.8"/></linearGradient><linearGradient id="g48" x1="0" x2="1" y1="0" y2="0"><stop offset="0.000" stop-color="#8a2620" stop-opacity="0.5"/><stop offset="0.093" stop-color="#8a2620" stop-opacity="1"/><stop offset="0.169" stop-color="#daa44e" stop-opacity="1"/><stop offset="0.683" stop-color="#daa44e" stop-opacity="1"/><stop offset="0.794" stop-color="#a8402a" stop-opacity="1"/><stop offset="0.900" stop-color="#74201e" stop-opacity="1"/><stop offset="1.000" stop-color="#8a2620" stop-opacity="0.3"/></linearGradient><linearGradient id="h48" x1="0" x2="1" y1="0" y2="0"><stop offset="0.000" stop-color="#521614" stop-opacity="0.6"/><stop offset="0.169" stop-color="#822c1e" stop-opacity="1"/><stop offset="0.683" stop-color="#822c1e" stop-opacity="1"/><stop offset="0.900" stop-color="#521614" stop-opacity="1"/><stop offset="1.000" stop-color="#521614" stop-opacity="0.5"/></linearGradient><linearGradient id="g49" x1="0" x2="1" y1="0" y2="0"><stop offset="0.000" stop-color="#8a2620" stop-opacity="0.5"/><stop offset="0.062" stop-color="#8a2620" stop-opacity="1"/><stop offset="0.113" stop-color="#daa44e" stop-opacity="1"/><stop offset="0.494" stop-color="#daa44e" stop-opacity="1"/><stop offset="0.671" stop-color="#a8402a" stop-opacity="1"/><stop offset="0.900" stop-color="#74201e" stop-opacity="1"/><stop offset="1.000" stop-color="#8a2620" stop-opacity="0.3"/></linearGradient><linearGradient id="h49" x1="0" x2="1" y1="0" y2="0"><stop offset="0.000" stop-color="#521614" stop-opacity="0.6"/><stop offset="0.113" stop-color="#822c1e" stop-opacity="1"/><stop offset="0.494" stop-color="#822c1e" stop-opacity="1"/><stop offset="0.900" stop-color="#521614" stop-opacity="1"/><stop offset="1.000" stop-color="#521614" stop-opacity="0.5"/></linearGradient><linearGradient id="g50" x1="0" x2="1" y1="0" y2="0"><stop offset="0.000" stop-color="#8a2620" stop-opacity="0.5"/><stop offset="0.054" stop-color="#8a2620" stop-opacity="1"/><stop offset="0.098" stop-color="#daa44e" stop-opacity="1"/><stop offset="0.406" stop-color="#daa44e" stop-opacity="1"/><stop offset="0.614" stop-color="#a8402a" stop-opacity="1"/><stop offset="0.900" stop-color="#74201e" stop-opacity="1"/><stop offset="1.000" stop-color="#8a2620" stop-opacity="0.3"/></linearGradient><linearGradient id="h50" x1="0" x2="1" y1="0" y2="0"><stop offset="0.000" stop-color="#521614" stop-opacity="0.6"/><stop offset="0.098" stop-color="#822c1e" stop-opacity="1"/><stop offset="0.406" stop-color="#822c1e" stop-opacity="1"/><stop offset="0.900" stop-color="#521614" stop-opacity="1"/><stop offset="1.000" stop-color="#521614" stop-opacity="0.5"/></linearGradient><linearGradient id="g51" x1="0" x2="1" y1="0" y2="0"><stop offset="0.000" stop-color="#8a2620" stop-opacity="0.5"/><stop offset="0.061" stop-color="#8a2620" stop-opacity="1"/><stop offset="0.111" stop-color="#daa44e" stop-opacity="1"/><stop offset="0.543" stop-color="#daa44e" stop-opacity="1"/><stop offset="0.703" stop-color="#a8402a" stop-opacity="1"/><stop offset="0.900" stop-color="#74201e" stop-opacity="1"/><stop offset="1.000" stop-color="#8a2620" stop-opacity="0.3"/></linearGradient><linearGradient id="h51" x1="0" x2="1" y1="0" y2="0"><stop offset="0.000" stop-color="#521614" stop-opacity="0.6"/><stop offset="0.111" stop-color="#822c1e" stop-opacity="1"/><stop offset="0.543" stop-color="#822c1e" stop-opacity="1"/><stop offset="0.900" stop-color="#521614" stop-opacity="1"/><stop offset="1.000" stop-color="#521614" stop-opacity="0.5"/></linearGradient><linearGradient id="g52" x1="0" x2="1" y1="0" y2="0"><stop offset="0.000" stop-color="#8a2620" stop-opacity="0.5"/><stop offset="0.053" stop-color="#8a2620" stop-opacity="1"/><stop offset="0.096" stop-color="#daa44e" stop-opacity="1"/><stop offset="0.404" stop-color="#daa44e" stop-opacity="1"/><stop offset="0.613" stop-color="#a8402a" stop-opacity="1"/><stop offset="0.900" stop-color="#74201e" stop-opacity="1"/><stop offset="1.000" stop-color="#8a2620" stop-opacity="0.3"/></linearGradient><linearGradient id="h52" x1="0" x2="1" y1="0" y2="0"><stop offset="0.000" stop-color="#521614" stop-opacity="0.6"/><stop offset="0.096" stop-color="#822c1e" stop-opacity="1"/><stop offset="0.404" stop-color="#822c1e" stop-opacity="1"/><stop offset="0.900" stop-color="#521614" stop-opacity="1"/><stop offset="1.000" stop-color="#521614" stop-opacity="0.5"/></linearGradient><linearGradient id="g53" x1="0" x2="1" y1="0" y2="0"><stop offset="0.000" stop-color="#8a2620" stop-opacity="0.5"/><stop offset="0.079" stop-color="#8a2620" stop-opacity="1"/><stop offset="0.143" stop-color="#daa44e" stop-opacity="1"/><stop offset="0.552" stop-color="#daa44e" stop-opacity="1"/><stop offset="0.709" stop-color="#a8402a" stop-opacity="1"/><stop offset="0.900" stop-color="#74201e" stop-opacity="1"/><stop offset="1.000" stop-color="#8a2620" stop-opacity="0.3"/></linearGradient><linearGradient id="h53" x1="0" x2="1" y1="0" y2="0"><stop offset="0.000" stop-color="#521614" stop-opacity="0.6"/><stop offset="0.143" stop-color="#822c1e" stop-opacity="1"/><stop offset="0.552" stop-color="#822c1e" stop-opacity="1"/><stop offset="0.900" stop-color="#521614" stop-opacity="1"/><stop offset="1.000" stop-color="#521614" stop-opacity="0.5"/></linearGradient><linearGradient id="g54" x1="0" x2="1" y1="0" y2="0"><stop offset="0.000" stop-color="#8a2620" stop-opacity="0.5"/><stop offset="0.080" stop-color="#8a2620" stop-opacity="1"/><stop offset="0.146" stop-color="#daa44e" stop-opacity="1"/><stop offset="0.541" stop-color="#daa44e" stop-opacity="1"/><stop offset="0.702" stop-color="#a8402a" stop-opacity="1"/><stop offset="0.900" stop-color="#74201e" stop-opacity="1"/><stop offset="1.000" stop-color="#8a2620" stop-opacity="0.3"/></linearGradient><linearGradient id="h54" x1="0" x2="1" y1="0" y2="0"><stop offset="0.000" stop-color="#521614" stop-opacity="0.6"/><stop offset="0.146" stop-color="#822c1e" stop-opacity="1"/><stop offset="0.541" stop-color="#822c1e" stop-opacity="1"/><stop offset="0.900" stop-color="#521614" stop-opacity="1"/><stop offset="1.000" stop-color="#521614" stop-opacity="0.5"/></linearGradient><linearGradient id="g55" x1="0" x2="1" y1="0" y2="0"><stop offset="0.000" stop-color="#9a3020" stop-opacity="0.5"/><stop offset="0.076" stop-color="#9a3020" stop-opacity="1"/><stop offset="0.138" stop-color="#eecb74" stop-opacity="1"/><stop offset="0.409" stop-color="#eecb74" stop-opacity="1"/><stop offset="0.616" stop-color="#c46038" stop-opacity="1"/><stop offset="0.900" stop-color="#8a2a1e" stop-opacity="1"/><stop offset="1.000" stop-color="#9a3020" stop-opacity="0.3"/></linearGradient><linearGradient id="h55" x1="0" x2="1" y1="0" y2="0"><stop offset="0.000" stop-color="#5e1a14" stop-opacity="0.6"/><stop offset="0.138" stop-color="#9a4426" stop-opacity="1"/><stop offset="0.409" stop-color="#9a4426" stop-opacity="1"/><stop offset="0.900" stop-color="#5e1a14" stop-opacity="1"/><stop offset="1.000" stop-color="#5e1a14" stop-opacity="0.5"/></linearGradient><linearGradient id="g56" x1="0" x2="1" y1="0" y2="0"><stop offset="0.000" stop-color="#8a2620" stop-opacity="0.5"/><stop offset="0.064" stop-color="#8a2620" stop-opacity="1"/><stop offset="0.116" stop-color="#daa44e" stop-opacity="1"/><stop offset="0.425" stop-color="#daa44e" stop-opacity="1"/><stop offset="0.626" stop-color="#a8402a" stop-opacity="1"/><stop offset="0.900" stop-color="#74201e" stop-opacity="1"/><stop offset="1.000" stop-color="#8a2620" stop-opacity="0.3"/></linearGradient><linearGradient id="h56" x1="0" x2="1" y1="0" y2="0"><stop offset="0.000" stop-color="#521614" stop-opacity="0.6"/><stop offset="0.116" stop-color="#822c1e" stop-opacity="1"/><stop offset="0.425" stop-color="#822c1e" stop-opacity="1"/><stop offset="0.900" stop-color="#521614" stop-opacity="1"/><stop offset="1.000" stop-color="#521614" stop-opacity="0.5"/></linearGradient><linearGradient id="g57" x1="0" x2="1" y1="0" y2="0"><stop offset="0.000" stop-color="#8a2620" stop-opacity="0.5"/><stop offset="0.076" stop-color="#8a2620" stop-opacity="1"/><stop offset="0.138" stop-color="#daa44e" stop-opacity="1"/><stop offset="0.456" stop-color="#daa44e" stop-opacity="1"/><stop offset="0.646" stop-color="#a8402a" stop-opacity="1"/><stop offset="0.900" stop-color="#74201e" stop-opacity="1"/><stop offset="1.000" stop-color="#8a2620" stop-opacity="0.3"/></linearGradient><linearGradient id="h57" x1="0" x2="1" y1="0" y2="0"><stop offset="0.000" stop-color="#521614" stop-opacity="0.6"/><stop offset="0.138" stop-color="#822c1e" stop-opacity="1"/><stop offset="0.456" stop-color="#822c1e" stop-opacity="1"/><stop offset="0.900" stop-color="#521614" stop-opacity="1"/><stop offset="1.000" stop-color="#521614" stop-opacity="0.5"/></linearGradient><linearGradient id="g58" x1="0" x2="1" y1="0" y2="0"><stop offset="0.000" stop-color="#8a2620" stop-opacity="0.5"/><stop offset="0.064" stop-color="#8a2620" stop-opacity="1"/><stop offset="0.116" stop-color="#daa44e" stop-opacity="1"/><stop offset="0.431" stop-color="#daa44e" stop-opacity="1"/><stop offset="0.630" stop-color="#a8402a" stop-opacity="1"/><stop offset="0.900" stop-color="#74201e" stop-opacity="1"/><stop offset="1.000" stop-color="#8a2620" stop-opacity="0.3"/></linearGradient><linearGradient id="h58" x1="0" x2="1" y1="0" y2="0"><stop offset="0.000" stop-color="#521614" stop-opacity="0.6"/><stop offset="0.116" stop-color="#822c1e" stop-opacity="1"/><stop offset="0.431" stop-color="#822c1e" stop-opacity="1"/><stop offset="0.900" stop-color="#521614" stop-opacity="1"/><stop offset="1.000" stop-color="#521614" stop-opacity="0.5"/></linearGradient><linearGradient id="g59" x1="0" x2="1" y1="0" y2="0"><stop offset="0.000" stop-color="#8a2620" stop-opacity="0.5"/><stop offset="0.060" stop-color="#8a2620" stop-opacity="1"/><stop offset="0.110" stop-color="#daa44e" stop-opacity="1"/><stop offset="0.481" stop-color="#daa44e" stop-opacity="1"/><stop offset="0.663" stop-color="#a8402a" stop-opacity="1"/><stop offset="0.900" stop-color="#74201e" stop-opacity="1"/><stop offset="1.000" stop-color="#8a2620" stop-opacity="0.3"/></linearGradient><linearGradient id="h59" x1="0" x2="1" y1="0" y2="0"><stop offset="0.000" stop-color="#521614" stop-opacity="0.6"/><stop offset="0.110" stop-color="#822c1e" stop-opacity="1"/><stop offset="0.481" stop-color="#822c1e" stop-opacity="1"/><stop offset="0.900" stop-color="#521614" stop-opacity="1"/><stop offset="1.000" stop-color="#521614" stop-opacity="0.5"/></linearGradient><linearGradient id="g60" x1="0" x2="1" y1="0" y2="0"><stop offset="0.000" stop-color="#9a3020" stop-opacity="0.5"/><stop offset="0.064" stop-color="#9a3020" stop-opacity="1"/><stop offset="0.117" stop-color="#eecb74" stop-opacity="1"/><stop offset="0.368" stop-color="#eecb74" stop-opacity="1"/><stop offset="0.589" stop-color="#c46038" stop-opacity="1"/><stop offset="0.900" stop-color="#8a2a1e" stop-opacity="1"/><stop offset="1.000" stop-color="#9a3020" stop-opacity="0.3"/></linearGradient><linearGradient id="h60" x1="0" x2="1" y1="0" y2="0"><stop offset="0.000" stop-color="#5e1a14" stop-opacity="0.6"/><stop offset="0.117" stop-color="#9a4426" stop-opacity="1"/><stop offset="0.368" stop-color="#9a4426" stop-opacity="1"/><stop offset="0.900" stop-color="#5e1a14" stop-opacity="1"/><stop offset="1.000" stop-color="#5e1a14" stop-opacity="0.5"/></linearGradient><linearGradient id="g61" x1="0" x2="1" y1="0" y2="0"><stop offset="0.000" stop-color="#4a2018" stop-opacity="0.9"/><stop offset="0.500" stop-color="#6e3024" stop-opacity="1"/><stop offset="1.000" stop-color="#461c16" stop-opacity="0.8"/></linearGradient><linearGradient id="h61" x1="0" x2="1" y1="0" y2="0"><stop offset="0.000" stop-color="#22100c" stop-opacity="0.8"/><stop offset="0.500" stop-color="#2e140e" stop-opacity="1"/><stop offset="1.000" stop-color="#22100c" stop-opacity="0.8"/></linearGradient><linearGradient id="g62" x1="0" x2="1" y1="0" y2="0"><stop offset="0.000" stop-color="#8a2620" stop-opacity="0.5"/><stop offset="0.087" stop-color="#8a2620" stop-opacity="1"/><stop offset="0.158" stop-color="#daa44e" stop-opacity="1"/><stop offset="0.411" stop-color="#daa44e" stop-opacity="1"/><stop offset="0.617" stop-color="#a8402a" stop-opacity="1"/><stop offset="0.900" stop-color="#74201e" stop-opacity="1"/><stop offset="1.000" stop-color="#8a2620" stop-opacity="0.3"/></linearGradient><linearGradient id="h62" x1="0" x2="1" y1="0" y2="0"><stop offset="0.000" stop-color="#521614" stop-opacity="0.6"/><stop offset="0.158" stop-color="#822c1e" stop-opacity="1"/><stop offset="0.411" stop-color="#822c1e" stop-opacity="1"/><stop offset="0.900" stop-color="#521614" stop-opacity="1"/><stop offset="1.000" stop-color="#521614" stop-opacity="0.5"/></linearGradient><linearGradient id="g63" x1="0" x2="1" y1="0" y2="0"><stop offset="0.000" stop-color="#8a2620" stop-opacity="0.5"/><stop offset="0.068" stop-color="#8a2620" stop-opacity="1"/><stop offset="0.123" stop-color="#daa44e" stop-opacity="1"/><stop offset="0.493" stop-color="#daa44e" stop-opacity="1"/><stop offset="0.671" stop-color="#a8402a" stop-opacity="1"/><stop offset="0.900" stop-color="#74201e" stop-opacity="1"/><stop offset="1.000" stop-color="#8a2620" stop-opacity="0.3"/></linearGradient><linearGradient id="h63" x1="0" x2="1" y1="0" y2="0"><stop offset="0.000" stop-color="#521614" stop-opacity="0.6"/><stop offset="0.123" stop-color="#822c1e" stop-opacity="1"/><stop offset="0.493" stop-color="#822c1e" stop-opacity="1"/><stop offset="0.900" stop-color="#521614" stop-opacity="1"/><stop offset="1.000" stop-color="#521614" stop-opacity="0.5"/></linearGradient><linearGradient id="g64" x1="0" x2="1" y1="0" y2="0"><stop offset="0.000" stop-color="#8a2620" stop-opacity="0.5"/><stop offset="0.061" stop-color="#8a2620" stop-opacity="1"/><stop offset="0.111" stop-color="#daa44e" stop-opacity="1"/><stop offset="0.617" stop-color="#daa44e" stop-opacity="1"/><stop offset="0.751" stop-color="#a8402a" stop-opacity="1"/><stop offset="0.900" stop-color="#74201e" stop-opacity="1"/><stop offset="1.000" stop-color="#8a2620" stop-opacity="0.3"/></linearGradient><linearGradient id="h64" x1="0" x2="1" y1="0" y2="0"><stop offset="0.000" stop-color="#521614" stop-opacity="0.6"/><stop offset="0.111" stop-color="#822c1e" stop-opacity="1"/><stop offset="0.617" stop-color="#822c1e" stop-opacity="1"/><stop offset="0.900" stop-color="#521614" stop-opacity="1"/><stop offset="1.000" stop-color="#521614" stop-opacity="0.5"/></linearGradient><linearGradient id="g65" x1="0" x2="1" y1="0" y2="0"><stop offset="0.000" stop-color="#8a2620" stop-opacity="0.5"/><stop offset="0.066" stop-color="#8a2620" stop-opacity="1"/><stop offset="0.120" stop-color="#daa44e" stop-opacity="1"/><stop offset="0.540" stop-color="#daa44e" stop-opacity="1"/><stop offset="0.701" stop-color="#a8402a" stop-opacity="1"/><stop offset="0.900" stop-color="#74201e" stop-opacity="1"/><stop offset="1.000" stop-color="#8a2620" stop-opacity="0.3"/></linearGradient><linearGradient id="h65" x1="0" x2="1" y1="0" y2="0"><stop offset="0.000" stop-color="#521614" stop-opacity="0.6"/><stop offset="0.120" stop-color="#822c1e" stop-opacity="1"/><stop offset="0.540" stop-color="#822c1e" stop-opacity="1"/><stop offset="0.900" stop-color="#521614" stop-opacity="1"/><stop offset="1.000" stop-color="#521614" stop-opacity="0.5"/></linearGradient><linearGradient id="g66" x1="0" x2="1" y1="0" y2="0"><stop offset="0.000" stop-color="#9a3020" stop-opacity="0.5"/><stop offset="0.064" stop-color="#9a3020" stop-opacity="1"/><stop offset="0.117" stop-color="#eecb74" stop-opacity="1"/><stop offset="0.362" stop-color="#eecb74" stop-opacity="1"/><stop offset="0.586" stop-color="#c46038" stop-opacity="1"/><stop offset="0.900" stop-color="#8a2a1e" stop-opacity="1"/><stop offset="1.000" stop-color="#9a3020" stop-opacity="0.3"/></linearGradient><linearGradient id="h66" x1="0" x2="1" y1="0" y2="0"><stop offset="0.000" stop-color="#5e1a14" stop-opacity="0.6"/><stop offset="0.117" stop-color="#9a4426" stop-opacity="1"/><stop offset="0.362" stop-color="#9a4426" stop-opacity="1"/><stop offset="0.900" stop-color="#5e1a14" stop-opacity="1"/><stop offset="1.000" stop-color="#5e1a14" stop-opacity="0.5"/></linearGradient><linearGradient id="g67" x1="0" x2="1" y1="0" y2="0"><stop offset="0.000" stop-color="#4a2018" stop-opacity="0.9"/><stop offset="0.500" stop-color="#6e3024" stop-opacity="1"/><stop offset="1.000" stop-color="#461c16" stop-opacity="0.8"/></linearGradient><linearGradient id="h67" x1="0" x2="1" y1="0" y2="0"><stop offset="0.000" stop-color="#22100c" stop-opacity="0.8"/><stop offset="0.500" stop-color="#2e140e" stop-opacity="1"/><stop offset="1.000" stop-color="#22100c" stop-opacity="0.8"/></linearGradient><linearGradient id="g68" x1="0" x2="1" y1="0" y2="0"><stop offset="0.000" stop-color="#6a1e14" stop-opacity="0.5"/><stop offset="0.102" stop-color="#6a1e14" stop-opacity="1"/><stop offset="0.186" stop-color="#c06034" stop-opacity="1"/><stop offset="0.617" stop-color="#c06034" stop-opacity="1"/><stop offset="0.751" stop-color="#9a3428" stop-opacity="1"/><stop offset="0.900" stop-color="#601a14" stop-opacity="1"/><stop offset="1.000" stop-color="#6a1e14" stop-opacity="0.3"/></linearGradient><linearGradient id="h68" x1="0" x2="1" y1="0" y2="0"><stop offset="0.000" stop-color="#3e120e" stop-opacity="0.6"/><stop offset="0.186" stop-color="#5a1c14" stop-opacity="1"/><stop offset="0.617" stop-color="#5a1c14" stop-opacity="1"/><stop offset="0.900" stop-color="#3e120e" stop-opacity="1"/><stop offset="1.000" stop-color="#3e120e" stop-opacity="0.5"/></linearGradient><linearGradient id="g69" x1="0" x2="1" y1="0" y2="0"><stop offset="0.000" stop-color="#4a2018" stop-opacity="0.9"/><stop offset="0.500" stop-color="#6e3024" stop-opacity="1"/><stop offset="1.000" stop-color="#461c16" stop-opacity="0.8"/></linearGradient><linearGradient id="h69" x1="0" x2="1" y1="0" y2="0"><stop offset="0.000" stop-color="#22100c" stop-opacity="0.8"/><stop offset="0.500" stop-color="#2e140e" stop-opacity="1"/><stop offset="1.000" stop-color="#22100c" stop-opacity="0.8"/></linearGradient><linearGradient id="g70" x1="0" x2="1" y1="0" y2="0"><stop offset="0.000" stop-color="#8a2620" stop-opacity="0.5"/><stop offset="0.071" stop-color="#8a2620" stop-opacity="1"/><stop offset="0.128" stop-color="#daa44e" stop-opacity="1"/><stop offset="0.532" stop-color="#daa44e" stop-opacity="1"/><stop offset="0.696" stop-color="#a8402a" stop-opacity="1"/><stop offset="0.900" stop-color="#74201e" stop-opacity="1"/><stop offset="1.000" stop-color="#8a2620" stop-opacity="0.3"/></linearGradient><linearGradient id="h70" x1="0" x2="1" y1="0" y2="0"><stop offset="0.000" stop-color="#521614" stop-opacity="0.6"/><stop offset="0.128" stop-color="#822c1e" stop-opacity="1"/><stop offset="0.532" stop-color="#822c1e" stop-opacity="1"/><stop offset="0.900" stop-color="#521614" stop-opacity="1"/><stop offset="1.000" stop-color="#521614" stop-opacity="0.5"/></linearGradient><linearGradient id="g71" x1="0" x2="1" y1="0" y2="0"><stop offset="0.000" stop-color="#7a2412" stop-opacity="0.5"/><stop offset="0.074" stop-color="#7a2412" stop-opacity="1"/><stop offset="0.134" stop-color="#f0c45c" stop-opacity="1"/><stop offset="0.850" stop-color="#f0c45c" stop-opacity="1"/><stop offset="0.902" stop-color="#d8843e" stop-opacity="1"/><stop offset="0.900" stop-color="#a03a20" stop-opacity="1"/><stop offset="1.000" stop-color="#7a2412" stop-opacity="0.3"/></linearGradient><linearGradient id="h71" x1="0" x2="1" y1="0" y2="0"><stop offset="0.000" stop-color="#5a180e" stop-opacity="0.6"/><stop offset="0.134" stop-color="#94401e" stop-opacity="1"/><stop offset="0.850" stop-color="#94401e" stop-opacity="1"/><stop offset="0.900" stop-color="#5a180e" stop-opacity="1"/><stop offset="1.000" stop-color="#5a180e" stop-opacity="0.5"/></linearGradient><linearGradient id="g72" x1="0" x2="1" y1="0" y2="0"><stop offset="0.000" stop-color="#7a2412" stop-opacity="0.5"/><stop offset="0.058" stop-color="#7a2412" stop-opacity="1"/><stop offset="0.105" stop-color="#f0c45c" stop-opacity="1"/><stop offset="0.683" stop-color="#f0c45c" stop-opacity="1"/><stop offset="0.794" stop-color="#d8843e" stop-opacity="1"/><stop offset="0.900" stop-color="#a03a20" stop-opacity="1"/><stop offset="1.000" stop-color="#7a2412" stop-opacity="0.3"/></linearGradient><linearGradient id="h72" x1="0" x2="1" y1="0" y2="0"><stop offset="0.000" stop-color="#5a180e" stop-opacity="0.6"/><stop offset="0.105" stop-color="#94401e" stop-opacity="1"/><stop offset="0.683" stop-color="#94401e" stop-opacity="1"/><stop offset="0.900" stop-color="#5a180e" stop-opacity="1"/><stop offset="1.000" stop-color="#5a180e" stop-opacity="0.5"/></linearGradient><linearGradient id="g73" x1="0" x2="1" y1="0" y2="0"><stop offset="0.000" stop-color="#7a2412" stop-opacity="0.5"/><stop offset="0.052" stop-color="#7a2412" stop-opacity="1"/><stop offset="0.094" stop-color="#f0c45c" stop-opacity="1"/><stop offset="0.850" stop-color="#f0c45c" stop-opacity="1"/><stop offset="0.902" stop-color="#d8843e" stop-opacity="1"/><stop offset="0.900" stop-color="#a03a20" stop-opacity="1"/><stop offset="1.000" stop-color="#7a2412" stop-opacity="0.3"/></linearGradient><linearGradient id="h73" x1="0" x2="1" y1="0" y2="0"><stop offset="0.000" stop-color="#5a180e" stop-opacity="0.6"/><stop offset="0.094" stop-color="#94401e" stop-opacity="1"/><stop offset="0.850" stop-color="#94401e" stop-opacity="1"/><stop offset="0.900" stop-color="#5a180e" stop-opacity="1"/><stop offset="1.000" stop-color="#5a180e" stop-opacity="0.5"/></linearGradient><linearGradient id="g74" x1="0" x2="1" y1="0" y2="0"><stop offset="0.000" stop-color="#9a3020" stop-opacity="0.5"/><stop offset="0.047" stop-color="#9a3020" stop-opacity="1"/><stop offset="0.086" stop-color="#eecb74" stop-opacity="1"/><stop offset="0.850" stop-color="#eecb74" stop-opacity="1"/><stop offset="0.902" stop-color="#c46038" stop-opacity="1"/><stop offset="0.900" stop-color="#8a2a1e" stop-opacity="1"/><stop offset="1.000" stop-color="#9a3020" stop-opacity="0.3"/></linearGradient><linearGradient id="h74" x1="0" x2="1" y1="0" y2="0"><stop offset="0.000" stop-color="#5e1a14" stop-opacity="0.6"/><stop offset="0.086" stop-color="#9a4426" stop-opacity="1"/><stop offset="0.850" stop-color="#9a4426" stop-opacity="1"/><stop offset="0.900" stop-color="#5e1a14" stop-opacity="1"/><stop offset="1.000" stop-color="#5e1a14" stop-opacity="0.5"/></linearGradient><linearGradient id="g75" x1="0" x2="1" y1="0" y2="0"><stop offset="0.000" stop-color="#6a1e14" stop-opacity="0.5"/><stop offset="0.428" stop-color="#6a1e14" stop-opacity="1"/><stop offset="0.778" stop-color="#c06034" stop-opacity="1"/><stop offset="0.850" stop-color="#c06034" stop-opacity="1"/><stop offset="0.902" stop-color="#9a3428" stop-opacity="1"/><stop offset="0.900" stop-color="#601a14" stop-opacity="1"/><stop offset="1.000" stop-color="#6a1e14" stop-opacity="0.3"/></linearGradient><linearGradient id="h75" x1="0" x2="1" y1="0" y2="0"><stop offset="0.000" stop-color="#3e120e" stop-opacity="0.6"/><stop offset="0.778" stop-color="#5a1c14" stop-opacity="1"/><stop offset="0.850" stop-color="#5a1c14" stop-opacity="1"/><stop offset="0.900" stop-color="#3e120e" stop-opacity="1"/><stop offset="1.000" stop-color="#3e120e" stop-opacity="0.5"/></linearGradient><linearGradient id="g76" x1="0" x2="1" y1="0" y2="0"><stop offset="0.000" stop-color="#4a2018" stop-opacity="0.9"/><stop offset="0.500" stop-color="#6e3024" stop-opacity="1"/><stop offset="1.000" stop-color="#461c16" stop-opacity="0.8"/></linearGradient><linearGradient id="h76" x1="0" x2="1" y1="0" y2="0"><stop offset="0.000" stop-color="#22100c" stop-opacity="0.8"/><stop offset="0.500" stop-color="#2e140e" stop-opacity="1"/><stop offset="1.000" stop-color="#22100c" stop-opacity="0.8"/></linearGradient><linearGradient id="g77" x1="0" x2="1" y1="0" y2="0"><stop offset="0.000" stop-color="#4a2018" stop-opacity="0.9"/><stop offset="0.500" stop-color="#6e3024" stop-opacity="1"/><stop offset="1.000" stop-color="#461c16" stop-opacity="0.8"/></linearGradient><linearGradient id="h77" x1="0" x2="1" y1="0" y2="0"><stop offset="0.000" stop-color="#22100c" stop-opacity="0.8"/><stop offset="0.500" stop-color="#2e140e" stop-opacity="1"/><stop offset="1.000" stop-color="#22100c" stop-opacity="0.8"/></linearGradient><linearGradient id="g78" x1="0" x2="1" y1="0" y2="0"><stop offset="0.000" stop-color="#9a3020" stop-opacity="0.5"/><stop offset="0.074" stop-color="#9a3020" stop-opacity="1"/><stop offset="0.134" stop-color="#eecb74" stop-opacity="1"/><stop offset="0.850" stop-color="#eecb74" stop-opacity="1"/><stop offset="0.902" stop-color="#c46038" stop-opacity="1"/><stop offset="0.900" stop-color="#8a2a1e" stop-opacity="1"/><stop offset="1.000" stop-color="#9a3020" stop-opacity="0.3"/></linearGradient><linearGradient id="h78" x1="0" x2="1" y1="0" y2="0"><stop offset="0.000" stop-color="#5e1a14" stop-opacity="0.6"/><stop offset="0.134" stop-color="#9a4426" stop-opacity="1"/><stop offset="0.850" stop-color="#9a4426" stop-opacity="1"/><stop offset="0.900" stop-color="#5e1a14" stop-opacity="1"/><stop offset="1.000" stop-color="#5e1a14" stop-opacity="0.5"/></linearGradient><linearGradient id="g79" x1="0" x2="1" y1="0" y2="0"><stop offset="0.000" stop-color="#6a1e14" stop-opacity="0.5"/><stop offset="0.068" stop-color="#6a1e14" stop-opacity="1"/><stop offset="0.123" stop-color="#c06034" stop-opacity="1"/><stop offset="0.850" stop-color="#c06034" stop-opacity="1"/><stop offset="0.902" stop-color="#9a3428" stop-opacity="1"/><stop offset="0.900" stop-color="#601a14" stop-opacity="1"/><stop offset="1.000" stop-color="#6a1e14" stop-opacity="0.3"/></linearGradient><linearGradient id="h79" x1="0" x2="1" y1="0" y2="0"><stop offset="0.000" stop-color="#3e120e" stop-opacity="0.6"/><stop offset="0.123" stop-color="#5a1c14" stop-opacity="1"/><stop offset="0.850" stop-color="#5a1c14" stop-opacity="1"/><stop offset="0.900" stop-color="#3e120e" stop-opacity="1"/><stop offset="1.000" stop-color="#3e120e" stop-opacity="0.5"/></linearGradient><linearGradient id="g80" x1="0" x2="1" y1="0" y2="0"><stop offset="0.000" stop-color="#6a1e14" stop-opacity="0.5"/><stop offset="0.058" stop-color="#6a1e14" stop-opacity="1"/><stop offset="0.106" stop-color="#c06034" stop-opacity="1"/><stop offset="0.541" stop-color="#c06034" stop-opacity="1"/><stop offset="0.702" stop-color="#9a3428" stop-opacity="1"/><stop offset="0.900" stop-color="#601a14" stop-opacity="1"/><stop offset="1.000" stop-color="#6a1e14" stop-opacity="0.3"/></linearGradient><linearGradient id="h80" x1="0" x2="1" y1="0" y2="0"><stop offset="0.000" stop-color="#3e120e" stop-opacity="0.6"/><stop offset="0.106" stop-color="#5a1c14" stop-opacity="1"/><stop offset="0.541" stop-color="#5a1c14" stop-opacity="1"/><stop offset="0.900" stop-color="#3e120e" stop-opacity="1"/><stop offset="1.000" stop-color="#3e120e" stop-opacity="0.5"/></linearGradient><linearGradient id="g81" x1="0" x2="1" y1="0" y2="0"><stop offset="0.000" stop-color="#6a1e14" stop-opacity="0.5"/><stop offset="0.048" stop-color="#6a1e14" stop-opacity="1"/><stop offset="0.087" stop-color="#c06034" stop-opacity="1"/><stop offset="0.712" stop-color="#c06034" stop-opacity="1"/><stop offset="0.813" stop-color="#9a3428" stop-opacity="1"/><stop offset="0.900" stop-color="#601a14" stop-opacity="1"/><stop offset="1.000" stop-color="#6a1e14" stop-opacity="0.3"/></linearGradient><linearGradient id="h81" x1="0" x2="1" y1="0" y2="0"><stop offset="0.000" stop-color="#3e120e" stop-opacity="0.6"/><stop offset="0.087" stop-color="#5a1c14" stop-opacity="1"/><stop offset="0.712" stop-color="#5a1c14" stop-opacity="1"/><stop offset="0.900" stop-color="#3e120e" stop-opacity="1"/><stop offset="1.000" stop-color="#3e120e" stop-opacity="0.5"/></linearGradient><linearGradient id="g82" x1="0" x2="1" y1="0" y2="0"><stop offset="0.000" stop-color="#8a2620" stop-opacity="0.5"/><stop offset="0.072" stop-color="#8a2620" stop-opacity="1"/><stop offset="0.132" stop-color="#daa44e" stop-opacity="1"/><stop offset="0.574" stop-color="#daa44e" stop-opacity="1"/><stop offset="0.723" stop-color="#b44a2c" stop-opacity="1"/><stop offset="0.900" stop-color="#7a2220" stop-opacity="1"/><stop offset="1.000" stop-color="#8a2620" stop-opacity="0.3"/></linearGradient><linearGradient id="h82" x1="0" x2="1" y1="0" y2="0"><stop offset="0.000" stop-color="#521614" stop-opacity="0.6"/><stop offset="0.132" stop-color="#822c1e" stop-opacity="1"/><stop offset="0.574" stop-color="#822c1e" stop-opacity="1"/><stop offset="0.900" stop-color="#521614" stop-opacity="1"/><stop offset="1.000" stop-color="#521614" stop-opacity="0.5"/></linearGradient><linearGradient id="g83" x1="0" x2="1" y1="0" y2="0"><stop offset="0.000" stop-color="#8a2620" stop-opacity="0.5"/><stop offset="0.057" stop-color="#8a2620" stop-opacity="1"/><stop offset="0.103" stop-color="#daa44e" stop-opacity="1"/><stop offset="0.712" stop-color="#daa44e" stop-opacity="1"/><stop offset="0.813" stop-color="#b44a2c" stop-opacity="1"/><stop offset="0.900" stop-color="#7a2220" stop-opacity="1"/><stop offset="1.000" stop-color="#8a2620" stop-opacity="0.3"/></linearGradient><linearGradient id="h83" x1="0" x2="1" y1="0" y2="0"><stop offset="0.000" stop-color="#521614" stop-opacity="0.6"/><stop offset="0.103" stop-color="#822c1e" stop-opacity="1"/><stop offset="0.712" stop-color="#822c1e" stop-opacity="1"/><stop offset="0.900" stop-color="#521614" stop-opacity="1"/><stop offset="1.000" stop-color="#521614" stop-opacity="0.5"/></linearGradient><linearGradient id="g84" x1="0" x2="1" y1="0" y2="0"><stop offset="0.000" stop-color="#8a2620" stop-opacity="0.5"/><stop offset="0.096" stop-color="#8a2620" stop-opacity="1"/><stop offset="0.175" stop-color="#daa44e" stop-opacity="1"/><stop offset="0.557" stop-color="#daa44e" stop-opacity="1"/><stop offset="0.712" stop-color="#b44a2c" stop-opacity="1"/><stop offset="0.900" stop-color="#7a2220" stop-opacity="1"/><stop offset="1.000" stop-color="#8a2620" stop-opacity="0.3"/></linearGradient><linearGradient id="h84" x1="0" x2="1" y1="0" y2="0"><stop offset="0.000" stop-color="#521614" stop-opacity="0.6"/><stop offset="0.175" stop-color="#822c1e" stop-opacity="1"/><stop offset="0.557" stop-color="#822c1e" stop-opacity="1"/><stop offset="0.900" stop-color="#521614" stop-opacity="1"/><stop offset="1.000" stop-color="#521614" stop-opacity="0.5"/></linearGradient><linearGradient id="g85" x1="0" x2="1" y1="0" y2="0"><stop offset="0.000" stop-color="#8a2620" stop-opacity="0.5"/><stop offset="0.053" stop-color="#8a2620" stop-opacity="1"/><stop offset="0.096" stop-color="#daa44e" stop-opacity="1"/><stop offset="0.664" stop-color="#daa44e" stop-opacity="1"/><stop offset="0.781" stop-color="#b44a2c" stop-opacity="1"/><stop offset="0.900" stop-color="#7a2220" stop-opacity="1"/><stop offset="1.000" stop-color="#8a2620" stop-opacity="0.3"/></linearGradient><linearGradient id="h85" x1="0" x2="1" y1="0" y2="0"><stop offset="0.000" stop-color="#521614" stop-opacity="0.6"/><stop offset="0.096" stop-color="#822c1e" stop-opacity="1"/><stop offset="0.664" stop-color="#822c1e" stop-opacity="1"/><stop offset="0.900" stop-color="#521614" stop-opacity="1"/><stop offset="1.000" stop-color="#521614" stop-opacity="0.5"/></linearGradient><linearGradient id="g86" x1="0" x2="1" y1="0" y2="0"><stop offset="0.000" stop-color="#8a2620" stop-opacity="0.5"/><stop offset="0.059" stop-color="#8a2620" stop-opacity="1"/><stop offset="0.107" stop-color="#daa44e" stop-opacity="1"/><stop offset="0.559" stop-color="#daa44e" stop-opacity="1"/><stop offset="0.713" stop-color="#b44a2c" stop-opacity="1"/><stop offset="0.900" stop-color="#7a2220" stop-opacity="1"/><stop offset="1.000" stop-color="#8a2620" stop-opacity="0.3"/></linearGradient><linearGradient id="h86" x1="0" x2="1" y1="0" y2="0"><stop offset="0.000" stop-color="#521614" stop-opacity="0.6"/><stop offset="0.107" stop-color="#822c1e" stop-opacity="1"/><stop offset="0.559" stop-color="#822c1e" stop-opacity="1"/><stop offset="0.900" stop-color="#521614" stop-opacity="1"/><stop offset="1.000" stop-color="#521614" stop-opacity="0.5"/></linearGradient><linearGradient id="g87" x1="0" x2="1" y1="0" y2="0"><stop offset="0.000" stop-color="#8a2620" stop-opacity="0.5"/><stop offset="0.067" stop-color="#8a2620" stop-opacity="1"/><stop offset="0.121" stop-color="#daa44e" stop-opacity="1"/><stop offset="0.539" stop-color="#daa44e" stop-opacity="1"/><stop offset="0.700" stop-color="#b44a2c" stop-opacity="1"/><stop offset="0.900" stop-color="#7a2220" stop-opacity="1"/><stop offset="1.000" stop-color="#8a2620" stop-opacity="0.3"/></linearGradient><linearGradient id="h87" x1="0" x2="1" y1="0" y2="0"><stop offset="0.000" stop-color="#521614" stop-opacity="0.6"/><stop offset="0.121" stop-color="#822c1e" stop-opacity="1"/><stop offset="0.539" stop-color="#822c1e" stop-opacity="1"/><stop offset="0.900" stop-color="#521614" stop-opacity="1"/><stop offset="1.000" stop-color="#521614" stop-opacity="0.5"/></linearGradient><linearGradient id="g88" x1="0" x2="1" y1="0" y2="0"><stop offset="0.000" stop-color="#8a2620" stop-opacity="0.5"/><stop offset="0.054" stop-color="#8a2620" stop-opacity="1"/><stop offset="0.099" stop-color="#daa44e" stop-opacity="1"/><stop offset="0.572" stop-color="#daa44e" stop-opacity="1"/><stop offset="0.722" stop-color="#b44a2c" stop-opacity="1"/><stop offset="0.900" stop-color="#7a2220" stop-opacity="1"/><stop offset="1.000" stop-color="#8a2620" stop-opacity="0.3"/></linearGradient><linearGradient id="h88" x1="0" x2="1" y1="0" y2="0"><stop offset="0.000" stop-color="#521614" stop-opacity="0.6"/><stop offset="0.099" stop-color="#822c1e" stop-opacity="1"/><stop offset="0.572" stop-color="#822c1e" stop-opacity="1"/><stop offset="0.900" stop-color="#521614" stop-opacity="1"/><stop offset="1.000" stop-color="#521614" stop-opacity="0.5"/></linearGradient><linearGradient id="g89" x1="0" x2="1" y1="0" y2="0"><stop offset="0.000" stop-color="#4a2018" stop-opacity="0.9"/><stop offset="0.500" stop-color="#6e3024" stop-opacity="1"/><stop offset="1.000" stop-color="#461c16" stop-opacity="0.8"/></linearGradient><linearGradient id="h89" x1="0" x2="1" y1="0" y2="0"><stop offset="0.000" stop-color="#22100c" stop-opacity="0.8"/><stop offset="0.500" stop-color="#2e140e" stop-opacity="1"/><stop offset="1.000" stop-color="#22100c" stop-opacity="0.8"/></linearGradient><linearGradient id="g90" x1="0" x2="1" y1="0" y2="0"><stop offset="0.000" stop-color="#8a2620" stop-opacity="0.5"/><stop offset="0.076" stop-color="#8a2620" stop-opacity="1"/><stop offset="0.137" stop-color="#daa44e" stop-opacity="1"/><stop offset="0.511" stop-color="#daa44e" stop-opacity="1"/><stop offset="0.682" stop-color="#b44a2c" stop-opacity="1"/><stop offset="0.900" stop-color="#7a2220" stop-opacity="1"/><stop offset="1.000" stop-color="#8a2620" stop-opacity="0.3"/></linearGradient><linearGradient id="h90" x1="0" x2="1" y1="0" y2="0"><stop offset="0.000" stop-color="#521614" stop-opacity="0.6"/><stop offset="0.137" stop-color="#822c1e" stop-opacity="1"/><stop offset="0.511" stop-color="#822c1e" stop-opacity="1"/><stop offset="0.900" stop-color="#521614" stop-opacity="1"/><stop offset="1.000" stop-color="#521614" stop-opacity="0.5"/></linearGradient><linearGradient id="g91" x1="0" x2="1" y1="0" y2="0"><stop offset="0.000" stop-color="#8a2620" stop-opacity="0.5"/><stop offset="0.076" stop-color="#8a2620" stop-opacity="1"/><stop offset="0.138" stop-color="#daa44e" stop-opacity="1"/><stop offset="0.524" stop-color="#daa44e" stop-opacity="1"/><stop offset="0.691" stop-color="#b44a2c" stop-opacity="1"/><stop offset="0.900" stop-color="#7a2220" stop-opacity="1"/><stop offset="1.000" stop-color="#8a2620" stop-opacity="0.3"/></linearGradient><linearGradient id="h91" x1="0" x2="1" y1="0" y2="0"><stop offset="0.000" stop-color="#521614" stop-opacity="0.6"/><stop offset="0.138" stop-color="#822c1e" stop-opacity="1"/><stop offset="0.524" stop-color="#822c1e" stop-opacity="1"/><stop offset="0.900" stop-color="#521614" stop-opacity="1"/><stop offset="1.000" stop-color="#521614" stop-opacity="0.5"/></linearGradient><linearGradient id="g92" x1="0" x2="1" y1="0" y2="0"><stop offset="0.000" stop-color="#8a2620" stop-opacity="0.5"/><stop offset="0.051" stop-color="#8a2620" stop-opacity="1"/><stop offset="0.093" stop-color="#daa44e" stop-opacity="1"/><stop offset="0.571" stop-color="#daa44e" stop-opacity="1"/><stop offset="0.721" stop-color="#b44a2c" stop-opacity="1"/><stop offset="0.900" stop-color="#7a2220" stop-opacity="1"/><stop offset="1.000" stop-color="#8a2620" stop-opacity="0.3"/></linearGradient><linearGradient id="h92" x1="0" x2="1" y1="0" y2="0"><stop offset="0.000" stop-color="#521614" stop-opacity="0.6"/><stop offset="0.093" stop-color="#822c1e" stop-opacity="1"/><stop offset="0.571" stop-color="#822c1e" stop-opacity="1"/><stop offset="0.900" stop-color="#521614" stop-opacity="1"/><stop offset="1.000" stop-color="#521614" stop-opacity="0.5"/></linearGradient><linearGradient id="g93" x1="0" x2="1" y1="0" y2="0"><stop offset="0.000" stop-color="#8a2620" stop-opacity="0.5"/><stop offset="0.061" stop-color="#8a2620" stop-opacity="1"/><stop offset="0.111" stop-color="#daa44e" stop-opacity="1"/><stop offset="0.536" stop-color="#daa44e" stop-opacity="1"/><stop offset="0.698" stop-color="#b44a2c" stop-opacity="1"/><stop offset="0.900" stop-color="#7a2220" stop-opacity="1"/><stop offset="1.000" stop-color="#8a2620" stop-opacity="0.3"/></linearGradient><linearGradient id="h93" x1="0" x2="1" y1="0" y2="0"><stop offset="0.000" stop-color="#521614" stop-opacity="0.6"/><stop offset="0.111" stop-color="#822c1e" stop-opacity="1"/><stop offset="0.536" stop-color="#822c1e" stop-opacity="1"/><stop offset="0.900" stop-color="#521614" stop-opacity="1"/><stop offset="1.000" stop-color="#521614" stop-opacity="0.5"/></linearGradient><linearGradient id="g94" x1="0" x2="1" y1="0" y2="0"><stop offset="0.000" stop-color="#8a2620" stop-opacity="0.5"/><stop offset="0.079" stop-color="#8a2620" stop-opacity="1"/><stop offset="0.143" stop-color="#daa44e" stop-opacity="1"/><stop offset="0.579" stop-color="#daa44e" stop-opacity="1"/><stop offset="0.726" stop-color="#b44a2c" stop-opacity="1"/><stop offset="0.900" stop-color="#7a2220" stop-opacity="1"/><stop offset="1.000" stop-color="#8a2620" stop-opacity="0.3"/></linearGradient><linearGradient id="h94" x1="0" x2="1" y1="0" y2="0"><stop offset="0.000" stop-color="#521614" stop-opacity="0.6"/><stop offset="0.143" stop-color="#822c1e" stop-opacity="1"/><stop offset="0.579" stop-color="#822c1e" stop-opacity="1"/><stop offset="0.900" stop-color="#521614" stop-opacity="1"/><stop offset="1.000" stop-color="#521614" stop-opacity="0.5"/></linearGradient><linearGradient id="g95" x1="0" x2="1" y1="0" y2="0"><stop offset="0.000" stop-color="#4a2018" stop-opacity="0.9"/><stop offset="0.500" stop-color="#6e3024" stop-opacity="1"/><stop offset="1.000" stop-color="#461c16" stop-opacity="0.8"/></linearGradient><linearGradient id="h95" x1="0" x2="1" y1="0" y2="0"><stop offset="0.000" stop-color="#22100c" stop-opacity="0.8"/><stop offset="0.500" stop-color="#2e140e" stop-opacity="1"/><stop offset="1.000" stop-color="#22100c" stop-opacity="0.8"/></linearGradient><linearGradient id="g96" x1="0" x2="1" y1="0" y2="0"><stop offset="0.000" stop-color="#8a2620" stop-opacity="0.5"/><stop offset="0.066" stop-color="#8a2620" stop-opacity="1"/><stop offset="0.120" stop-color="#daa44e" stop-opacity="1"/><stop offset="0.538" stop-color="#daa44e" stop-opacity="1"/><stop offset="0.700" stop-color="#b44a2c" stop-opacity="1"/><stop offset="0.900" stop-color="#7a2220" stop-opacity="1"/><stop offset="1.000" stop-color="#8a2620" stop-opacity="0.3"/></linearGradient><linearGradient id="h96" x1="0" x2="1" y1="0" y2="0"><stop offset="0.000" stop-color="#521614" stop-opacity="0.6"/><stop offset="0.120" stop-color="#822c1e" stop-opacity="1"/><stop offset="0.538" stop-color="#822c1e" stop-opacity="1"/><stop offset="0.900" stop-color="#521614" stop-opacity="1"/><stop offset="1.000" stop-color="#521614" stop-opacity="0.5"/></linearGradient><linearGradient id="g97" x1="0" x2="1" y1="0" y2="0"><stop offset="0.000" stop-color="#8a2620" stop-opacity="0.5"/><stop offset="0.065" stop-color="#8a2620" stop-opacity="1"/><stop offset="0.117" stop-color="#daa44e" stop-opacity="1"/><stop offset="0.585" stop-color="#daa44e" stop-opacity="1"/><stop offset="0.730" stop-color="#b44a2c" stop-opacity="1"/><stop offset="0.900" stop-color="#7a2220" stop-opacity="1"/><stop offset="1.000" stop-color="#8a2620" stop-opacity="0.3"/></linearGradient><linearGradient id="h97" x1="0" x2="1" y1="0" y2="0"><stop offset="0.000" stop-color="#521614" stop-opacity="0.6"/><stop offset="0.117" stop-color="#822c1e" stop-opacity="1"/><stop offset="0.585" stop-color="#822c1e" stop-opacity="1"/><stop offset="0.900" stop-color="#521614" stop-opacity="1"/><stop offset="1.000" stop-color="#521614" stop-opacity="0.5"/></linearGradient><linearGradient id="g98" x1="0" x2="1" y1="0" y2="0"><stop offset="0.000" stop-color="#6a1e14" stop-opacity="0.5"/><stop offset="0.051" stop-color="#6a1e14" stop-opacity="1"/><stop offset="0.092" stop-color="#c06034" stop-opacity="1"/><stop offset="0.519" stop-color="#c06034" stop-opacity="1"/><stop offset="0.688" stop-color="#9a3428" stop-opacity="1"/><stop offset="0.900" stop-color="#601a14" stop-opacity="1"/><stop offset="1.000" stop-color="#6a1e14" stop-opacity="0.3"/></linearGradient><linearGradient id="h98" x1="0" x2="1" y1="0" y2="0"><stop offset="0.000" stop-color="#3e120e" stop-opacity="0.6"/><stop offset="0.092" stop-color="#5a1c14" stop-opacity="1"/><stop offset="0.519" stop-color="#5a1c14" stop-opacity="1"/><stop offset="0.900" stop-color="#3e120e" stop-opacity="1"/><stop offset="1.000" stop-color="#3e120e" stop-opacity="0.5"/></linearGradient><linearGradient id="g99" x1="0" x2="1" y1="0" y2="0"><stop offset="0.000" stop-color="#8a2620" stop-opacity="0.5"/><stop offset="0.079" stop-color="#8a2620" stop-opacity="1"/><stop offset="0.143" stop-color="#daa44e" stop-opacity="1"/><stop offset="0.579" stop-color="#daa44e" stop-opacity="1"/><stop offset="0.726" stop-color="#b44a2c" stop-opacity="1"/><stop offset="0.900" stop-color="#7a2220" stop-opacity="1"/><stop offset="1.000" stop-color="#8a2620" stop-opacity="0.3"/></linearGradient><linearGradient id="h99" x1="0" x2="1" y1="0" y2="0"><stop offset="0.000" stop-color="#521614" stop-opacity="0.6"/><stop offset="0.143" stop-color="#822c1e" stop-opacity="1"/><stop offset="0.579" stop-color="#822c1e" stop-opacity="1"/><stop offset="0.900" stop-color="#521614" stop-opacity="1"/><stop offset="1.000" stop-color="#521614" stop-opacity="0.5"/></linearGradient><linearGradient id="g100" x1="0" x2="1" y1="0" y2="0"><stop offset="0.000" stop-color="#8a2620" stop-opacity="0.5"/><stop offset="0.052" stop-color="#8a2620" stop-opacity="1"/><stop offset="0.095" stop-color="#daa44e" stop-opacity="1"/><stop offset="0.446" stop-color="#daa44e" stop-opacity="1"/><stop offset="0.640" stop-color="#b44a2c" stop-opacity="1"/><stop offset="0.900" stop-color="#7a2220" stop-opacity="1"/><stop offset="1.000" stop-color="#8a2620" stop-opacity="0.3"/></linearGradient><linearGradient id="h100" x1="0" x2="1" y1="0" y2="0"><stop offset="0.000" stop-color="#521614" stop-opacity="0.6"/><stop offset="0.095" stop-color="#822c1e" stop-opacity="1"/><stop offset="0.446" stop-color="#822c1e" stop-opacity="1"/><stop offset="0.900" stop-color="#521614" stop-opacity="1"/><stop offset="1.000" stop-color="#521614" stop-opacity="0.5"/></linearGradient><linearGradient id="g101" x1="0" x2="1" y1="0" y2="0"><stop offset="0.000" stop-color="#9a3020" stop-opacity="0.5"/><stop offset="0.079" stop-color="#9a3020" stop-opacity="1"/><stop offset="0.143" stop-color="#eecb74" stop-opacity="1"/><stop offset="0.448" stop-color="#eecb74" stop-opacity="1"/><stop offset="0.641" stop-color="#c46038" stop-opacity="1"/><stop offset="0.900" stop-color="#8a2a1e" stop-opacity="1"/><stop offset="1.000" stop-color="#9a3020" stop-opacity="0.3"/></linearGradient><linearGradient id="h101" x1="0" x2="1" y1="0" y2="0"><stop offset="0.000" stop-color="#5e1a14" stop-opacity="0.6"/><stop offset="0.143" stop-color="#9a4426" stop-opacity="1"/><stop offset="0.448" stop-color="#9a4426" stop-opacity="1"/><stop offset="0.900" stop-color="#5e1a14" stop-opacity="1"/><stop offset="1.000" stop-color="#5e1a14" stop-opacity="0.5"/></linearGradient><linearGradient id="g102" x1="0" x2="1" y1="0" y2="0"><stop offset="0.000" stop-color="#8a2620" stop-opacity="0.5"/><stop offset="0.061" stop-color="#8a2620" stop-opacity="1"/><stop offset="0.111" stop-color="#daa44e" stop-opacity="1"/><stop offset="0.536" stop-color="#daa44e" stop-opacity="1"/><stop offset="0.698" stop-color="#b44a2c" stop-opacity="1"/><stop offset="0.900" stop-color="#7a2220" stop-opacity="1"/><stop offset="1.000" stop-color="#8a2620" stop-opacity="0.3"/></linearGradient><linearGradient id="h102" x1="0" x2="1" y1="0" y2="0"><stop offset="0.000" stop-color="#521614" stop-opacity="0.6"/><stop offset="0.111" stop-color="#822c1e" stop-opacity="1"/><stop offset="0.536" stop-color="#822c1e" stop-opacity="1"/><stop offset="0.900" stop-color="#521614" stop-opacity="1"/><stop offset="1.000" stop-color="#521614" stop-opacity="0.5"/></linearGradient><linearGradient id="g103" x1="0" x2="1" y1="0" y2="0"><stop offset="0.000" stop-color="#8a2620" stop-opacity="0.5"/><stop offset="0.073" stop-color="#8a2620" stop-opacity="1"/><stop offset="0.133" stop-color="#daa44e" stop-opacity="1"/><stop offset="0.537" stop-color="#daa44e" stop-opacity="1"/><stop offset="0.699" stop-color="#b44a2c" stop-opacity="1"/><stop offset="0.900" stop-color="#7a2220" stop-opacity="1"/><stop offset="1.000" stop-color="#8a2620" stop-opacity="0.3"/></linearGradient><linearGradient id="h103" x1="0" x2="1" y1="0" y2="0"><stop offset="0.000" stop-color="#521614" stop-opacity="0.6"/><stop offset="0.133" stop-color="#822c1e" stop-opacity="1"/><stop offset="0.537" stop-color="#822c1e" stop-opacity="1"/><stop offset="0.900" stop-color="#521614" stop-opacity="1"/><stop offset="1.000" stop-color="#521614" stop-opacity="0.5"/></linearGradient><linearGradient id="g104" x1="0" x2="1" y1="0" y2="0"><stop offset="0.000" stop-color="#6a1e14" stop-opacity="0.5"/><stop offset="0.051" stop-color="#6a1e14" stop-opacity="1"/><stop offset="0.093" stop-color="#c06034" stop-opacity="1"/><stop offset="0.463" stop-color="#c06034" stop-opacity="1"/><stop offset="0.651" stop-color="#9a3428" stop-opacity="1"/><stop offset="0.900" stop-color="#601a14" stop-opacity="1"/><stop offset="1.000" stop-color="#6a1e14" stop-opacity="0.3"/></linearGradient><linearGradient id="h104" x1="0" x2="1" y1="0" y2="0"><stop offset="0.000" stop-color="#3e120e" stop-opacity="0.6"/><stop offset="0.093" stop-color="#5a1c14" stop-opacity="1"/><stop offset="0.463" stop-color="#5a1c14" stop-opacity="1"/><stop offset="0.900" stop-color="#3e120e" stop-opacity="1"/><stop offset="1.000" stop-color="#3e120e" stop-opacity="0.5"/></linearGradient><linearGradient id="g105" x1="0" x2="1" y1="0" y2="0"><stop offset="0.000" stop-color="#8a2620" stop-opacity="0.5"/><stop offset="0.060" stop-color="#8a2620" stop-opacity="1"/><stop offset="0.109" stop-color="#daa44e" stop-opacity="1"/><stop offset="0.503" stop-color="#daa44e" stop-opacity="1"/><stop offset="0.677" stop-color="#b44a2c" stop-opacity="1"/><stop offset="0.900" stop-color="#7a2220" stop-opacity="1"/><stop offset="1.000" stop-color="#8a2620" stop-opacity="0.3"/></linearGradient><linearGradient id="h105" x1="0" x2="1" y1="0" y2="0"><stop offset="0.000" stop-color="#521614" stop-opacity="0.6"/><stop offset="0.109" stop-color="#822c1e" stop-opacity="1"/><stop offset="0.503" stop-color="#822c1e" stop-opacity="1"/><stop offset="0.900" stop-color="#521614" stop-opacity="1"/><stop offset="1.000" stop-color="#521614" stop-opacity="0.5"/></linearGradient><linearGradient id="g106" x1="0" x2="1" y1="0" y2="0"><stop offset="0.000" stop-color="#8a2620" stop-opacity="0.5"/><stop offset="0.073" stop-color="#8a2620" stop-opacity="1"/><stop offset="0.132" stop-color="#daa44e" stop-opacity="1"/><stop offset="0.562" stop-color="#daa44e" stop-opacity="1"/><stop offset="0.715" stop-color="#b44a2c" stop-opacity="1"/><stop offset="0.900" stop-color="#7a2220" stop-opacity="1"/><stop offset="1.000" stop-color="#8a2620" stop-opacity="0.3"/></linearGradient><linearGradient id="h106" x1="0" x2="1" y1="0" y2="0"><stop offset="0.000" stop-color="#521614" stop-opacity="0.6"/><stop offset="0.132" stop-color="#822c1e" stop-opacity="1"/><stop offset="0.562" stop-color="#822c1e" stop-opacity="1"/><stop offset="0.900" stop-color="#521614" stop-opacity="1"/><stop offset="1.000" stop-color="#521614" stop-opacity="0.5"/></linearGradient><linearGradient id="g107" x1="0" x2="1" y1="0" y2="0"><stop offset="0.000" stop-color="#8a2620" stop-opacity="0.5"/><stop offset="0.062" stop-color="#8a2620" stop-opacity="1"/><stop offset="0.113" stop-color="#daa44e" stop-opacity="1"/><stop offset="0.546" stop-color="#daa44e" stop-opacity="1"/><stop offset="0.705" stop-color="#b44a2c" stop-opacity="1"/><stop offset="0.900" stop-color="#7a2220" stop-opacity="1"/><stop offset="1.000" stop-color="#8a2620" stop-opacity="0.3"/></linearGradient><linearGradient id="h107" x1="0" x2="1" y1="0" y2="0"><stop offset="0.000" stop-color="#521614" stop-opacity="0.6"/><stop offset="0.113" stop-color="#822c1e" stop-opacity="1"/><stop offset="0.546" stop-color="#822c1e" stop-opacity="1"/><stop offset="0.900" stop-color="#521614" stop-opacity="1"/><stop offset="1.000" stop-color="#521614" stop-opacity="0.5"/></linearGradient><linearGradient id="g108" x1="0" x2="1" y1="0" y2="0"><stop offset="0.000" stop-color="#6a1e14" stop-opacity="0.5"/><stop offset="0.059" stop-color="#6a1e14" stop-opacity="1"/><stop offset="0.108" stop-color="#c06034" stop-opacity="1"/><stop offset="0.486" stop-color="#c06034" stop-opacity="1"/><stop offset="0.666" stop-color="#9a3428" stop-opacity="1"/><stop offset="0.900" stop-color="#601a14" stop-opacity="1"/><stop offset="1.000" stop-color="#6a1e14" stop-opacity="0.3"/></linearGradient><linearGradient id="h108" x1="0" x2="1" y1="0" y2="0"><stop offset="0.000" stop-color="#3e120e" stop-opacity="0.6"/><stop offset="0.108" stop-color="#5a1c14" stop-opacity="1"/><stop offset="0.486" stop-color="#5a1c14" stop-opacity="1"/><stop offset="0.900" stop-color="#3e120e" stop-opacity="1"/><stop offset="1.000" stop-color="#3e120e" stop-opacity="0.5"/></linearGradient><linearGradient id="g109" x1="0" x2="1" y1="0" y2="0"><stop offset="0.000" stop-color="#8a2620" stop-opacity="0.5"/><stop offset="0.056" stop-color="#8a2620" stop-opacity="1"/><stop offset="0.101" stop-color="#daa44e" stop-opacity="1"/><stop offset="0.499" stop-color="#daa44e" stop-opacity="1"/><stop offset="0.674" stop-color="#b44a2c" stop-opacity="1"/><stop offset="0.900" stop-color="#7a2220" stop-opacity="1"/><stop offset="1.000" stop-color="#8a2620" stop-opacity="0.3"/></linearGradient><linearGradient id="h109" x1="0" x2="1" y1="0" y2="0"><stop offset="0.000" stop-color="#521614" stop-opacity="0.6"/><stop offset="0.101" stop-color="#822c1e" stop-opacity="1"/><stop offset="0.499" stop-color="#822c1e" stop-opacity="1"/><stop offset="0.900" stop-color="#521614" stop-opacity="1"/><stop offset="1.000" stop-color="#521614" stop-opacity="0.5"/></linearGradient><linearGradient id="g110" x1="0" x2="1" y1="0" y2="0"><stop offset="0.000" stop-color="#8a2620" stop-opacity="0.5"/><stop offset="0.061" stop-color="#8a2620" stop-opacity="1"/><stop offset="0.111" stop-color="#daa44e" stop-opacity="1"/><stop offset="0.536" stop-color="#daa44e" stop-opacity="1"/><stop offset="0.698" stop-color="#b44a2c" stop-opacity="1"/><stop offset="0.900" stop-color="#7a2220" stop-opacity="1"/><stop offset="1.000" stop-color="#8a2620" stop-opacity="0.3"/></linearGradient><linearGradient id="h110" x1="0" x2="1" y1="0" y2="0"><stop offset="0.000" stop-color="#521614" stop-opacity="0.6"/><stop offset="0.111" stop-color="#822c1e" stop-opacity="1"/><stop offset="0.536" stop-color="#822c1e" stop-opacity="1"/><stop offset="0.900" stop-color="#521614" stop-opacity="1"/><stop offset="1.000" stop-color="#521614" stop-opacity="0.5"/></linearGradient><linearGradient id="g111" x1="0" x2="1" y1="0" y2="0"><stop offset="0.000" stop-color="#8a2620" stop-opacity="0.5"/><stop offset="0.053" stop-color="#8a2620" stop-opacity="1"/><stop offset="0.097" stop-color="#daa44e" stop-opacity="1"/><stop offset="0.560" stop-color="#daa44e" stop-opacity="1"/><stop offset="0.714" stop-color="#b44a2c" stop-opacity="1"/><stop offset="0.900" stop-color="#7a2220" stop-opacity="1"/><stop offset="1.000" stop-color="#8a2620" stop-opacity="0.3"/></linearGradient><linearGradient id="h111" x1="0" x2="1" y1="0" y2="0"><stop offset="0.000" stop-color="#521614" stop-opacity="0.6"/><stop offset="0.097" stop-color="#822c1e" stop-opacity="1"/><stop offset="0.560" stop-color="#822c1e" stop-opacity="1"/><stop offset="0.900" stop-color="#521614" stop-opacity="1"/><stop offset="1.000" stop-color="#521614" stop-opacity="0.5"/></linearGradient><linearGradient id="g112" x1="0" x2="1" y1="0" y2="0"><stop offset="0.000" stop-color="#8a2620" stop-opacity="0.5"/><stop offset="0.057" stop-color="#8a2620" stop-opacity="1"/><stop offset="0.104" stop-color="#daa44e" stop-opacity="1"/><stop offset="0.543" stop-color="#daa44e" stop-opacity="1"/><stop offset="0.703" stop-color="#b44a2c" stop-opacity="1"/><stop offset="0.900" stop-color="#7a2220" stop-opacity="1"/><stop offset="1.000" stop-color="#8a2620" stop-opacity="0.3"/></linearGradient><linearGradient id="h112" x1="0" x2="1" y1="0" y2="0"><stop offset="0.000" stop-color="#521614" stop-opacity="0.6"/><stop offset="0.104" stop-color="#822c1e" stop-opacity="1"/><stop offset="0.543" stop-color="#822c1e" stop-opacity="1"/><stop offset="0.900" stop-color="#521614" stop-opacity="1"/><stop offset="1.000" stop-color="#521614" stop-opacity="0.5"/></linearGradient><linearGradient id="g113" x1="0" x2="1" y1="0" y2="0"><stop offset="0.000" stop-color="#8a2620" stop-opacity="0.5"/><stop offset="0.078" stop-color="#8a2620" stop-opacity="1"/><stop offset="0.142" stop-color="#daa44e" stop-opacity="1"/><stop offset="0.502" stop-color="#daa44e" stop-opacity="1"/><stop offset="0.676" stop-color="#b44a2c" stop-opacity="1"/><stop offset="0.900" stop-color="#7a2220" stop-opacity="1"/><stop offset="1.000" stop-color="#8a2620" stop-opacity="0.3"/></linearGradient><linearGradient id="h113" x1="0" x2="1" y1="0" y2="0"><stop offset="0.000" stop-color="#521614" stop-opacity="0.6"/><stop offset="0.142" stop-color="#822c1e" stop-opacity="1"/><stop offset="0.502" stop-color="#822c1e" stop-opacity="1"/><stop offset="0.900" stop-color="#521614" stop-opacity="1"/><stop offset="1.000" stop-color="#521614" stop-opacity="0.5"/></linearGradient><linearGradient id="g114" x1="0" x2="1" y1="0" y2="0"><stop offset="0.000" stop-color="#8a2620" stop-opacity="0.5"/><stop offset="0.052" stop-color="#8a2620" stop-opacity="1"/><stop offset="0.094" stop-color="#daa44e" stop-opacity="1"/><stop offset="0.598" stop-color="#daa44e" stop-opacity="1"/><stop offset="0.739" stop-color="#b44a2c" stop-opacity="1"/><stop offset="0.900" stop-color="#7a2220" stop-opacity="1"/><stop offset="1.000" stop-color="#8a2620" stop-opacity="0.3"/></linearGradient><linearGradient id="h114" x1="0" x2="1" y1="0" y2="0"><stop offset="0.000" stop-color="#521614" stop-opacity="0.6"/><stop offset="0.094" stop-color="#822c1e" stop-opacity="1"/><stop offset="0.598" stop-color="#822c1e" stop-opacity="1"/><stop offset="0.900" stop-color="#521614" stop-opacity="1"/><stop offset="1.000" stop-color="#521614" stop-opacity="0.5"/></linearGradient><linearGradient id="g115" x1="0" x2="1" y1="0" y2="0"><stop offset="0.000" stop-color="#9a3020" stop-opacity="0.5"/><stop offset="0.073" stop-color="#9a3020" stop-opacity="1"/><stop offset="0.133" stop-color="#eecb74" stop-opacity="1"/><stop offset="0.537" stop-color="#eecb74" stop-opacity="1"/><stop offset="0.699" stop-color="#c46038" stop-opacity="1"/><stop offset="0.900" stop-color="#8a2a1e" stop-opacity="1"/><stop offset="1.000" stop-color="#9a3020" stop-opacity="0.3"/></linearGradient><linearGradient id="h115" x1="0" x2="1" y1="0" y2="0"><stop offset="0.000" stop-color="#5e1a14" stop-opacity="0.6"/><stop offset="0.133" stop-color="#9a4426" stop-opacity="1"/><stop offset="0.537" stop-color="#9a4426" stop-opacity="1"/><stop offset="0.900" stop-color="#5e1a14" stop-opacity="1"/><stop offset="1.000" stop-color="#5e1a14" stop-opacity="0.5"/></linearGradient><linearGradient id="g116" x1="0" x2="1" y1="0" y2="0"><stop offset="0.000" stop-color="#8a2620" stop-opacity="0.5"/><stop offset="0.109" stop-color="#8a2620" stop-opacity="1"/><stop offset="0.197" stop-color="#daa44e" stop-opacity="1"/><stop offset="0.566" stop-color="#daa44e" stop-opacity="1"/><stop offset="0.718" stop-color="#b44a2c" stop-opacity="1"/><stop offset="0.900" stop-color="#7a2220" stop-opacity="1"/><stop offset="1.000" stop-color="#8a2620" stop-opacity="0.3"/></linearGradient><linearGradient id="h116" x1="0" x2="1" y1="0" y2="0"><stop offset="0.000" stop-color="#521614" stop-opacity="0.6"/><stop offset="0.197" stop-color="#822c1e" stop-opacity="1"/><stop offset="0.566" stop-color="#822c1e" stop-opacity="1"/><stop offset="0.900" stop-color="#521614" stop-opacity="1"/><stop offset="1.000" stop-color="#521614" stop-opacity="0.5"/></linearGradient><linearGradient id="g117" x1="0" x2="1" y1="0" y2="0"><stop offset="0.000" stop-color="#8a2620" stop-opacity="0.5"/><stop offset="0.079" stop-color="#8a2620" stop-opacity="1"/><stop offset="0.143" stop-color="#daa44e" stop-opacity="1"/><stop offset="0.536" stop-color="#daa44e" stop-opacity="1"/><stop offset="0.698" stop-color="#b44a2c" stop-opacity="1"/><stop offset="0.900" stop-color="#7a2220" stop-opacity="1"/><stop offset="1.000" stop-color="#8a2620" stop-opacity="0.3"/></linearGradient><linearGradient id="h117" x1="0" x2="1" y1="0" y2="0"><stop offset="0.000" stop-color="#521614" stop-opacity="0.6"/><stop offset="0.143" stop-color="#822c1e" stop-opacity="1"/><stop offset="0.536" stop-color="#822c1e" stop-opacity="1"/><stop offset="0.900" stop-color="#521614" stop-opacity="1"/><stop offset="1.000" stop-color="#521614" stop-opacity="0.5"/></linearGradient><linearGradient id="g118" x1="0" x2="1" y1="0" y2="0"><stop offset="0.000" stop-color="#9a3020" stop-opacity="0.5"/><stop offset="0.081" stop-color="#9a3020" stop-opacity="1"/><stop offset="0.147" stop-color="#eecb74" stop-opacity="1"/><stop offset="0.565" stop-color="#eecb74" stop-opacity="1"/><stop offset="0.717" stop-color="#c46038" stop-opacity="1"/><stop offset="0.900" stop-color="#8a2a1e" stop-opacity="1"/><stop offset="1.000" stop-color="#9a3020" stop-opacity="0.3"/></linearGradient><linearGradient id="h118" x1="0" x2="1" y1="0" y2="0"><stop offset="0.000" stop-color="#5e1a14" stop-opacity="0.6"/><stop offset="0.147" stop-color="#9a4426" stop-opacity="1"/><stop offset="0.565" stop-color="#9a4426" stop-opacity="1"/><stop offset="0.900" stop-color="#5e1a14" stop-opacity="1"/><stop offset="1.000" stop-color="#5e1a14" stop-opacity="0.5"/></linearGradient><linearGradient id="g119" x1="0" x2="1" y1="0" y2="0"><stop offset="0.000" stop-color="#4a2018" stop-opacity="0.9"/><stop offset="0.500" stop-color="#6e3024" stop-opacity="1"/><stop offset="1.000" stop-color="#461c16" stop-opacity="0.8"/></linearGradient><linearGradient id="h119" x1="0" x2="1" y1="0" y2="0"><stop offset="0.000" stop-color="#22100c" stop-opacity="0.8"/><stop offset="0.500" stop-color="#2e140e" stop-opacity="1"/><stop offset="1.000" stop-color="#22100c" stop-opacity="0.8"/></linearGradient><linearGradient id="g120" x1="0" x2="1" y1="0" y2="0"><stop offset="0.000" stop-color="#8a2620" stop-opacity="0.5"/><stop offset="0.079" stop-color="#8a2620" stop-opacity="1"/><stop offset="0.143" stop-color="#daa44e" stop-opacity="1"/><stop offset="0.536" stop-color="#daa44e" stop-opacity="1"/><stop offset="0.698" stop-color="#b44a2c" stop-opacity="1"/><stop offset="0.900" stop-color="#7a2220" stop-opacity="1"/><stop offset="1.000" stop-color="#8a2620" stop-opacity="0.3"/></linearGradient><linearGradient id="h120" x1="0" x2="1" y1="0" y2="0"><stop offset="0.000" stop-color="#521614" stop-opacity="0.6"/><stop offset="0.143" stop-color="#822c1e" stop-opacity="1"/><stop offset="0.536" stop-color="#822c1e" stop-opacity="1"/><stop offset="0.900" stop-color="#521614" stop-opacity="1"/><stop offset="1.000" stop-color="#521614" stop-opacity="0.5"/></linearGradient><linearGradient id="g121" x1="0" x2="1" y1="0" y2="0"><stop offset="0.000" stop-color="#8a2620" stop-opacity="0.5"/><stop offset="0.068" stop-color="#8a2620" stop-opacity="1"/><stop offset="0.123" stop-color="#daa44e" stop-opacity="1"/><stop offset="0.584" stop-color="#daa44e" stop-opacity="1"/><stop offset="0.729" stop-color="#b44a2c" stop-opacity="1"/><stop offset="0.900" stop-color="#7a2220" stop-opacity="1"/><stop offset="1.000" stop-color="#8a2620" stop-opacity="0.3"/></linearGradient><linearGradient id="h121" x1="0" x2="1" y1="0" y2="0"><stop offset="0.000" stop-color="#521614" stop-opacity="0.6"/><stop offset="0.123" stop-color="#822c1e" stop-opacity="1"/><stop offset="0.584" stop-color="#822c1e" stop-opacity="1"/><stop offset="0.900" stop-color="#521614" stop-opacity="1"/><stop offset="1.000" stop-color="#521614" stop-opacity="0.5"/></linearGradient><linearGradient id="g122" x1="0" x2="1" y1="0" y2="0"><stop offset="0.000" stop-color="#8a2620" stop-opacity="0.5"/><stop offset="0.078" stop-color="#8a2620" stop-opacity="1"/><stop offset="0.142" stop-color="#daa44e" stop-opacity="1"/><stop offset="0.520" stop-color="#daa44e" stop-opacity="1"/><stop offset="0.688" stop-color="#b44a2c" stop-opacity="1"/><stop offset="0.900" stop-color="#7a2220" stop-opacity="1"/><stop offset="1.000" stop-color="#8a2620" stop-opacity="0.3"/></linearGradient><linearGradient id="h122" x1="0" x2="1" y1="0" y2="0"><stop offset="0.000" stop-color="#521614" stop-opacity="0.6"/><stop offset="0.142" stop-color="#822c1e" stop-opacity="1"/><stop offset="0.520" stop-color="#822c1e" stop-opacity="1"/><stop offset="0.900" stop-color="#521614" stop-opacity="1"/><stop offset="1.000" stop-color="#521614" stop-opacity="0.5"/></linearGradient><linearGradient id="g123" x1="0" x2="1" y1="0" y2="0"><stop offset="0.000" stop-color="#8a2620" stop-opacity="0.5"/><stop offset="0.070" stop-color="#8a2620" stop-opacity="1"/><stop offset="0.127" stop-color="#daa44e" stop-opacity="1"/><stop offset="0.537" stop-color="#daa44e" stop-opacity="1"/><stop offset="0.699" stop-color="#b44a2c" stop-opacity="1"/><stop offset="0.900" stop-color="#7a2220" stop-opacity="1"/><stop offset="1.000" stop-color="#8a2620" stop-opacity="0.3"/></linearGradient><linearGradient id="h123" x1="0" x2="1" y1="0" y2="0"><stop offset="0.000" stop-color="#521614" stop-opacity="0.6"/><stop offset="0.127" stop-color="#822c1e" stop-opacity="1"/><stop offset="0.537" stop-color="#822c1e" stop-opacity="1"/><stop offset="0.900" stop-color="#521614" stop-opacity="1"/><stop offset="1.000" stop-color="#521614" stop-opacity="0.5"/></linearGradient><linearGradient id="g124" x1="0" x2="1" y1="0" y2="0"><stop offset="0.000" stop-color="#9a3020" stop-opacity="0.5"/><stop offset="0.076" stop-color="#9a3020" stop-opacity="1"/><stop offset="0.139" stop-color="#eecb74" stop-opacity="1"/><stop offset="0.590" stop-color="#eecb74" stop-opacity="1"/><stop offset="0.734" stop-color="#c46038" stop-opacity="1"/><stop offset="0.900" stop-color="#8a2a1e" stop-opacity="1"/><stop offset="1.000" stop-color="#9a3020" stop-opacity="0.3"/></linearGradient><linearGradient id="h124" x1="0" x2="1" y1="0" y2="0"><stop offset="0.000" stop-color="#5e1a14" stop-opacity="0.6"/><stop offset="0.139" stop-color="#9a4426" stop-opacity="1"/><stop offset="0.590" stop-color="#9a4426" stop-opacity="1"/><stop offset="0.900" stop-color="#5e1a14" stop-opacity="1"/><stop offset="1.000" stop-color="#5e1a14" stop-opacity="0.5"/></linearGradient><linearGradient id="g125" x1="0" x2="1" y1="0" y2="0"><stop offset="0.000" stop-color="#8a2620" stop-opacity="0.5"/><stop offset="0.054" stop-color="#8a2620" stop-opacity="1"/><stop offset="0.099" stop-color="#daa44e" stop-opacity="1"/><stop offset="0.621" stop-color="#daa44e" stop-opacity="1"/><stop offset="0.754" stop-color="#b44a2c" stop-opacity="1"/><stop offset="0.900" stop-color="#7a2220" stop-opacity="1"/><stop offset="1.000" stop-color="#8a2620" stop-opacity="0.3"/></linearGradient><linearGradient id="h125" x1="0" x2="1" y1="0" y2="0"><stop offset="0.000" stop-color="#521614" stop-opacity="0.6"/><stop offset="0.099" stop-color="#822c1e" stop-opacity="1"/><stop offset="0.621" stop-color="#822c1e" stop-opacity="1"/><stop offset="0.900" stop-color="#521614" stop-opacity="1"/><stop offset="1.000" stop-color="#521614" stop-opacity="0.5"/></linearGradient><linearGradient id="g126" x1="0" x2="1" y1="0" y2="0"><stop offset="0.000" stop-color="#8a2620" stop-opacity="0.5"/><stop offset="0.078" stop-color="#8a2620" stop-opacity="1"/><stop offset="0.141" stop-color="#daa44e" stop-opacity="1"/><stop offset="0.471" stop-color="#daa44e" stop-opacity="1"/><stop offset="0.656" stop-color="#b44a2c" stop-opacity="1"/><stop offset="0.900" stop-color="#7a2220" stop-opacity="1"/><stop offset="1.000" stop-color="#8a2620" stop-opacity="0.3"/></linearGradient><linearGradient id="h126" x1="0" x2="1" y1="0" y2="0"><stop offset="0.000" stop-color="#521614" stop-opacity="0.6"/><stop offset="0.141" stop-color="#822c1e" stop-opacity="1"/><stop offset="0.471" stop-color="#822c1e" stop-opacity="1"/><stop offset="0.900" stop-color="#521614" stop-opacity="1"/><stop offset="1.000" stop-color="#521614" stop-opacity="0.5"/></linearGradient><linearGradient id="g127" x1="0" x2="1" y1="0" y2="0"><stop offset="0.000" stop-color="#8a2620" stop-opacity="0.5"/><stop offset="0.052" stop-color="#8a2620" stop-opacity="1"/><stop offset="0.095" stop-color="#daa44e" stop-opacity="1"/><stop offset="0.583" stop-color="#daa44e" stop-opacity="1"/><stop offset="0.729" stop-color="#b44a2c" stop-opacity="1"/><stop offset="0.900" stop-color="#7a2220" stop-opacity="1"/><stop offset="1.000" stop-color="#8a2620" stop-opacity="0.3"/></linearGradient><linearGradient id="h127" x1="0" x2="1" y1="0" y2="0"><stop offset="0.000" stop-color="#521614" stop-opacity="0.6"/><stop offset="0.095" stop-color="#822c1e" stop-opacity="1"/><stop offset="0.583" stop-color="#822c1e" stop-opacity="1"/><stop offset="0.900" stop-color="#521614" stop-opacity="1"/><stop offset="1.000" stop-color="#521614" stop-opacity="0.5"/></linearGradient><linearGradient id="g128" x1="0" x2="1" y1="0" y2="0"><stop offset="0.000" stop-color="#8a2620" stop-opacity="0.5"/><stop offset="0.097" stop-color="#8a2620" stop-opacity="1"/><stop offset="0.176" stop-color="#daa44e" stop-opacity="1"/><stop offset="0.524" stop-color="#daa44e" stop-opacity="1"/><stop offset="0.690" stop-color="#b44a2c" stop-opacity="1"/><stop offset="0.900" stop-color="#7a2220" stop-opacity="1"/><stop offset="1.000" stop-color="#8a2620" stop-opacity="0.3"/></linearGradient><linearGradient id="h128" x1="0" x2="1" y1="0" y2="0"><stop offset="0.000" stop-color="#521614" stop-opacity="0.6"/><stop offset="0.176" stop-color="#822c1e" stop-opacity="1"/><stop offset="0.524" stop-color="#822c1e" stop-opacity="1"/><stop offset="0.900" stop-color="#521614" stop-opacity="1"/><stop offset="1.000" stop-color="#521614" stop-opacity="0.5"/></linearGradient><linearGradient id="g129" x1="0" x2="1" y1="0" y2="0"><stop offset="0.000" stop-color="#8a2620" stop-opacity="0.5"/><stop offset="0.058" stop-color="#8a2620" stop-opacity="1"/><stop offset="0.105" stop-color="#daa44e" stop-opacity="1"/><stop offset="0.622" stop-color="#daa44e" stop-opacity="1"/><stop offset="0.754" stop-color="#b44a2c" stop-opacity="1"/><stop offset="0.900" stop-color="#7a2220" stop-opacity="1"/><stop offset="1.000" stop-color="#8a2620" stop-opacity="0.3"/></linearGradient><linearGradient id="h129" x1="0" x2="1" y1="0" y2="0"><stop offset="0.000" stop-color="#521614" stop-opacity="0.6"/><stop offset="0.105" stop-color="#822c1e" stop-opacity="1"/><stop offset="0.622" stop-color="#822c1e" stop-opacity="1"/><stop offset="0.900" stop-color="#521614" stop-opacity="1"/><stop offset="1.000" stop-color="#521614" stop-opacity="0.5"/></linearGradient><linearGradient id="g130" x1="0" x2="1" y1="0" y2="0"><stop offset="0.000" stop-color="#8a2620" stop-opacity="0.5"/><stop offset="0.093" stop-color="#8a2620" stop-opacity="1"/><stop offset="0.169" stop-color="#daa44e" stop-opacity="1"/><stop offset="0.547" stop-color="#daa44e" stop-opacity="1"/><stop offset="0.706" stop-color="#b44a2c" stop-opacity="1"/><stop offset="0.900" stop-color="#7a2220" stop-opacity="1"/><stop offset="1.000" stop-color="#8a2620" stop-opacity="0.3"/></linearGradient><linearGradient id="h130" x1="0" x2="1" y1="0" y2="0"><stop offset="0.000" stop-color="#521614" stop-opacity="0.6"/><stop offset="0.169" stop-color="#822c1e" stop-opacity="1"/><stop offset="0.547" stop-color="#822c1e" stop-opacity="1"/><stop offset="0.900" stop-color="#521614" stop-opacity="1"/><stop offset="1.000" stop-color="#521614" stop-opacity="0.5"/></linearGradient><linearGradient id="g131" x1="0" x2="1" y1="0" y2="0"><stop offset="0.000" stop-color="#8a2620" stop-opacity="0.5"/><stop offset="0.062" stop-color="#8a2620" stop-opacity="1"/><stop offset="0.113" stop-color="#daa44e" stop-opacity="1"/><stop offset="0.663" stop-color="#daa44e" stop-opacity="1"/><stop offset="0.781" stop-color="#b44a2c" stop-opacity="1"/><stop offset="0.900" stop-color="#7a2220" stop-opacity="1"/><stop offset="1.000" stop-color="#8a2620" stop-opacity="0.3"/></linearGradient><linearGradient id="h131" x1="0" x2="1" y1="0" y2="0"><stop offset="0.000" stop-color="#521614" stop-opacity="0.6"/><stop offset="0.113" stop-color="#822c1e" stop-opacity="1"/><stop offset="0.663" stop-color="#822c1e" stop-opacity="1"/><stop offset="0.900" stop-color="#521614" stop-opacity="1"/><stop offset="1.000" stop-color="#521614" stop-opacity="0.5"/></linearGradient><linearGradient id="g132" x1="0" x2="1" y1="0" y2="0"><stop offset="0.000" stop-color="#8a2620" stop-opacity="0.5"/><stop offset="0.076" stop-color="#8a2620" stop-opacity="1"/><stop offset="0.139" stop-color="#daa44e" stop-opacity="1"/><stop offset="0.512" stop-color="#daa44e" stop-opacity="1"/><stop offset="0.683" stop-color="#b44a2c" stop-opacity="1"/><stop offset="0.900" stop-color="#7a2220" stop-opacity="1"/><stop offset="1.000" stop-color="#8a2620" stop-opacity="0.3"/></linearGradient><linearGradient id="h132" x1="0" x2="1" y1="0" y2="0"><stop offset="0.000" stop-color="#521614" stop-opacity="0.6"/><stop offset="0.139" stop-color="#822c1e" stop-opacity="1"/><stop offset="0.512" stop-color="#822c1e" stop-opacity="1"/><stop offset="0.900" stop-color="#521614" stop-opacity="1"/><stop offset="1.000" stop-color="#521614" stop-opacity="0.5"/></linearGradient><linearGradient id="g133" x1="0" x2="1" y1="0" y2="0"><stop offset="0.000" stop-color="#6a1e14" stop-opacity="0.5"/><stop offset="0.069" stop-color="#6a1e14" stop-opacity="1"/><stop offset="0.126" stop-color="#c06034" stop-opacity="1"/><stop offset="0.661" stop-color="#c06034" stop-opacity="1"/><stop offset="0.780" stop-color="#9a3428" stop-opacity="1"/><stop offset="0.900" stop-color="#601a14" stop-opacity="1"/><stop offset="1.000" stop-color="#6a1e14" stop-opacity="0.3"/></linearGradient><linearGradient id="h133" x1="0" x2="1" y1="0" y2="0"><stop offset="0.000" stop-color="#3e120e" stop-opacity="0.6"/><stop offset="0.126" stop-color="#5a1c14" stop-opacity="1"/><stop offset="0.661" stop-color="#5a1c14" stop-opacity="1"/><stop offset="0.900" stop-color="#3e120e" stop-opacity="1"/><stop offset="1.000" stop-color="#3e120e" stop-opacity="0.5"/></linearGradient><linearGradient id="g134" x1="0" x2="1" y1="0" y2="0"><stop offset="0.000" stop-color="#4a2018" stop-opacity="0.9"/><stop offset="0.500" stop-color="#6e3024" stop-opacity="1"/><stop offset="1.000" stop-color="#461c16" stop-opacity="0.8"/></linearGradient><linearGradient id="h134" x1="0" x2="1" y1="0" y2="0"><stop offset="0.000" stop-color="#22100c" stop-opacity="0.8"/><stop offset="0.500" stop-color="#2e140e" stop-opacity="1"/><stop offset="1.000" stop-color="#22100c" stop-opacity="0.8"/></linearGradient><linearGradient id="g135" x1="0" x2="1" y1="0" y2="0"><stop offset="0.000" stop-color="#9a3020" stop-opacity="0.5"/><stop offset="0.078" stop-color="#9a3020" stop-opacity="1"/><stop offset="0.141" stop-color="#eecb74" stop-opacity="1"/><stop offset="0.574" stop-color="#eecb74" stop-opacity="1"/><stop offset="0.723" stop-color="#c46038" stop-opacity="1"/><stop offset="0.900" stop-color="#8a2a1e" stop-opacity="1"/><stop offset="1.000" stop-color="#9a3020" stop-opacity="0.3"/></linearGradient><linearGradient id="h135" x1="0" x2="1" y1="0" y2="0"><stop offset="0.000" stop-color="#5e1a14" stop-opacity="0.6"/><stop offset="0.141" stop-color="#9a4426" stop-opacity="1"/><stop offset="0.574" stop-color="#9a4426" stop-opacity="1"/><stop offset="0.900" stop-color="#5e1a14" stop-opacity="1"/><stop offset="1.000" stop-color="#5e1a14" stop-opacity="0.5"/></linearGradient><linearGradient id="g136" x1="0" x2="1" y1="0" y2="0"><stop offset="0.000" stop-color="#9a3020" stop-opacity="0.5"/><stop offset="0.080" stop-color="#9a3020" stop-opacity="1"/><stop offset="0.146" stop-color="#eecb74" stop-opacity="1"/><stop offset="0.710" stop-color="#eecb74" stop-opacity="1"/><stop offset="0.812" stop-color="#c46038" stop-opacity="1"/><stop offset="0.900" stop-color="#8a2a1e" stop-opacity="1"/><stop offset="1.000" stop-color="#9a3020" stop-opacity="0.3"/></linearGradient><linearGradient id="h136" x1="0" x2="1" y1="0" y2="0"><stop offset="0.000" stop-color="#5e1a14" stop-opacity="0.6"/><stop offset="0.146" stop-color="#9a4426" stop-opacity="1"/><stop offset="0.710" stop-color="#9a4426" stop-opacity="1"/><stop offset="0.900" stop-color="#5e1a14" stop-opacity="1"/><stop offset="1.000" stop-color="#5e1a14" stop-opacity="0.5"/></linearGradient><linearGradient id="g137" x1="0" x2="1" y1="0" y2="0"><stop offset="0.000" stop-color="#8a2620" stop-opacity="0.5"/><stop offset="0.077" stop-color="#8a2620" stop-opacity="1"/><stop offset="0.140" stop-color="#daa44e" stop-opacity="1"/><stop offset="0.516" stop-color="#daa44e" stop-opacity="1"/><stop offset="0.685" stop-color="#b44a2c" stop-opacity="1"/><stop offset="0.900" stop-color="#7a2220" stop-opacity="1"/><stop offset="1.000" stop-color="#8a2620" stop-opacity="0.3"/></linearGradient><linearGradient id="h137" x1="0" x2="1" y1="0" y2="0"><stop offset="0.000" stop-color="#521614" stop-opacity="0.6"/><stop offset="0.140" stop-color="#822c1e" stop-opacity="1"/><stop offset="0.516" stop-color="#822c1e" stop-opacity="1"/><stop offset="0.900" stop-color="#521614" stop-opacity="1"/><stop offset="1.000" stop-color="#521614" stop-opacity="0.5"/></linearGradient><linearGradient id="g138" x1="0" x2="1" y1="0" y2="0"><stop offset="0.000" stop-color="#8a2620" stop-opacity="0.5"/><stop offset="0.051" stop-color="#8a2620" stop-opacity="1"/><stop offset="0.093" stop-color="#daa44e" stop-opacity="1"/><stop offset="0.571" stop-color="#daa44e" stop-opacity="1"/><stop offset="0.721" stop-color="#b44a2c" stop-opacity="1"/><stop offset="0.900" stop-color="#7a2220" stop-opacity="1"/><stop offset="1.000" stop-color="#8a2620" stop-opacity="0.3"/></linearGradient><linearGradient id="h138" x1="0" x2="1" y1="0" y2="0"><stop offset="0.000" stop-color="#521614" stop-opacity="0.6"/><stop offset="0.093" stop-color="#822c1e" stop-opacity="1"/><stop offset="0.571" stop-color="#822c1e" stop-opacity="1"/><stop offset="0.900" stop-color="#521614" stop-opacity="1"/><stop offset="1.000" stop-color="#521614" stop-opacity="0.5"/></linearGradient><linearGradient id="g139" x1="0" x2="1" y1="0" y2="0"><stop offset="0.000" stop-color="#8a2620" stop-opacity="0.5"/><stop offset="0.082" stop-color="#8a2620" stop-opacity="1"/><stop offset="0.149" stop-color="#daa44e" stop-opacity="1"/><stop offset="0.527" stop-color="#daa44e" stop-opacity="1"/><stop offset="0.693" stop-color="#b44a2c" stop-opacity="1"/><stop offset="0.900" stop-color="#7a2220" stop-opacity="1"/><stop offset="1.000" stop-color="#8a2620" stop-opacity="0.3"/></linearGradient><linearGradient id="h139" x1="0" x2="1" y1="0" y2="0"><stop offset="0.000" stop-color="#521614" stop-opacity="0.6"/><stop offset="0.149" stop-color="#822c1e" stop-opacity="1"/><stop offset="0.527" stop-color="#822c1e" stop-opacity="1"/><stop offset="0.900" stop-color="#521614" stop-opacity="1"/><stop offset="1.000" stop-color="#521614" stop-opacity="0.5"/></linearGradient><linearGradient id="g140" x1="0" x2="1" y1="0" y2="0"><stop offset="0.000" stop-color="#8a2620" stop-opacity="0.5"/><stop offset="0.069" stop-color="#8a2620" stop-opacity="1"/><stop offset="0.126" stop-color="#daa44e" stop-opacity="1"/><stop offset="0.595" stop-color="#daa44e" stop-opacity="1"/><stop offset="0.737" stop-color="#b44a2c" stop-opacity="1"/><stop offset="0.900" stop-color="#7a2220" stop-opacity="1"/><stop offset="1.000" stop-color="#8a2620" stop-opacity="0.3"/></linearGradient><linearGradient id="h140" x1="0" x2="1" y1="0" y2="0"><stop offset="0.000" stop-color="#521614" stop-opacity="0.6"/><stop offset="0.126" stop-color="#822c1e" stop-opacity="1"/><stop offset="0.595" stop-color="#822c1e" stop-opacity="1"/><stop offset="0.900" stop-color="#521614" stop-opacity="1"/><stop offset="1.000" stop-color="#521614" stop-opacity="0.5"/></linearGradient><filter id="bl" x="-5%" y="-5%" width="110%" height="110%"><feGaussianBlur stdDeviation="0.7"/></filter><clipPath id="lp"><rect x="11.8" y="3.2" width="246.4" height="342.7"/></clipPath></defs><rect x="11" y="2.4" width="248" height="344.3" fill="#050404"/><rect x="11.8" y="3.2" width="246.4" height="342.7" fill="#110f0d"/><g clip-path="url(#lp)"><g filter="url(#bl)"><polygon points="14.50,12.88 28.00,12.21 44.20,12.21 92.00,12.69 92.00,15.92 44.20,16.39 28.00,16.39 14.50,15.73" fill="url(#h0)"/><polygon points="22.50,16.07 30.00,15.41 53.40,15.41 100.00,15.88 100.00,19.11 53.40,19.59 30.00,19.59 22.50,18.93" fill="url(#h1)"/><polygon points="37.00,21.27 46.00,20.61 62.20,20.61 113.60,21.09 113.60,24.31 62.20,24.79 46.00,24.79 37.00,24.12" fill="url(#h2)"/><polygon points="15.00,24.47 24.00,23.81 43.80,23.81 94.00,24.29 94.00,27.51 43.80,27.99 24.00,27.99 15.00,27.32" fill="url(#h3)"/><polygon points="124.00,26.07 134.00,25.41 166.40,25.41 198.00,25.89 198.00,29.11 166.40,29.59 134.00,29.59 124.00,28.93" fill="url(#h4)"/><rect x="24.0" y="28.80" width="77.0" height="3.80" fill="url(#h5)"/><polygon points="15.00,32.58 24.00,31.91 40.20,31.91 94.00,32.38 94.00,35.62 40.20,36.09 24.00,36.09 15.00,35.42" fill="url(#h6)"/><polygon points="113.60,36.08 120.60,35.41 147.06,35.41 184.00,35.88 184.00,39.12 147.06,39.59 120.60,39.59 113.60,38.92" fill="url(#h7)"/><polygon points="31.00,36.98 40.00,36.31 61.60,36.31 108.00,36.78 108.00,40.02 61.60,40.49 40.00,40.49 31.00,39.82" fill="url(#h8)"/><polygon points="33.00,41.48 46.00,40.81 69.40,40.81 112.00,41.28 112.00,44.52 69.40,44.99 46.00,44.99 33.00,44.32" fill="url(#h9)"/><polygon points="28.00,44.98 42.00,44.31 61.80,44.31 106.00,44.78 106.00,48.02 61.80,48.49 42.00,48.49 28.00,47.82" fill="url(#h10)"/><polygon points="37.00,48.58 46.00,47.91 69.40,47.91 115.00,48.38 115.00,51.62 69.40,52.09 46.00,52.09 37.00,51.42" fill="url(#h11)"/><polygon points="20.70,51.78 28.00,51.11 52.30,51.11 97.50,51.59 97.50,54.82 52.30,55.29 28.00,55.29 20.70,54.62" fill="url(#h12)"/><polygon points="26.00,55.58 37.00,54.91 61.30,54.91 103.00,55.38 103.00,58.62 61.30,59.09 37.00,59.09 26.00,58.42" fill="url(#h13)"/><polygon points="134.00,13.18 145.00,12.51 161.20,12.51 208.00,12.98 208.00,16.21 161.20,16.69 145.00,16.69 134.00,16.02" fill="url(#h14)"/><polygon points="153.60,16.47 162.00,15.81 185.40,15.81 227.70,16.29 227.70,19.51 185.40,19.99 162.00,19.99 153.60,19.32" fill="url(#h15)"/><polygon points="166.00,21.77 178.00,21.11 202.30,21.11 239.00,21.59 239.00,24.81 202.30,25.29 178.00,25.29 166.00,24.62" fill="url(#h16)"/><polygon points="130.00,29.27 145.00,28.61 174.70,28.61 211.00,29.09 211.00,32.31 174.70,32.79 145.00,32.79 130.00,32.12" fill="url(#h17)"/><polygon points="170.00,32.88 177.00,32.21 202.20,32.21 241.00,32.68 241.00,35.91 202.20,36.39 177.00,36.39 170.00,35.72" fill="url(#h18)"/><polygon points="139.00,41.08 148.00,40.41 194.80,40.41 214.00,40.88 214.00,44.12 194.80,44.59 148.00,44.59 139.00,43.92" fill="url(#h19)"/><polygon points="125.00,44.08 134.00,43.41 166.40,43.41 205.00,43.88 205.00,47.12 166.40,47.59 134.00,47.59 125.00,46.92" fill="url(#h20)"/><rect x="230.0" y="46.30" width="27.0" height="2.00" fill="url(#h21)"/><polygon points="125.00,48.58 134.00,47.91 157.40,47.91 202.00,48.38 202.00,51.62 157.40,52.09 134.00,52.09 125.00,51.42" fill="url(#h22)"/><polygon points="130.00,51.78 140.00,51.11 167.00,51.11 207.00,51.59 207.00,54.82 167.00,55.29 140.00,55.29 130.00,54.62" fill="url(#h23)"/><polygon points="105.00,55.88 115.00,55.21 146.50,55.21 180.00,55.68 180.00,58.91 146.50,59.39 115.00,59.39 105.00,58.72" fill="url(#h24)"/><polygon points="166.00,56.38 178.00,55.71 215.80,55.71 243.00,56.18 243.00,59.41 215.80,59.89 178.00,59.89 166.00,59.22" fill="url(#h25)"/><polygon points="45.70,61.38 54.60,60.71 78.36,60.71 120.70,61.18 120.70,64.41 78.36,64.89 54.60,64.89 45.70,64.22" fill="url(#h26)"/><polygon points="24.00,66.17 33.00,65.51 52.44,65.51 101.00,65.98 101.00,69.21 52.44,69.69 33.00,69.69 24.00,69.02" fill="url(#h27)"/><polygon points="106.00,65.58 113.00,64.91 137.30,64.91 183.00,65.39 183.00,68.61 137.30,69.09 113.00,69.09 106.00,68.42" fill="url(#h28)"/><polygon points="63.60,71.58 76.00,70.91 92.20,70.91 143.00,71.39 143.00,74.61 92.20,75.09 76.00,75.09 63.60,74.42" fill="url(#h29)"/><rect x="11.0" y="75.60" width="24.0" height="1.80" fill="url(#h30)"/><polygon points="35.00,75.08 42.00,74.41 53.70,74.41 103.00,74.89 103.00,78.11 53.70,78.59 42.00,78.59 35.00,77.92" fill="url(#h31)"/><polygon points="51.00,77.78 60.00,77.11 78.00,77.11 124.00,77.59 124.00,80.81 78.00,81.29 60.00,81.29 51.00,80.62" fill="url(#h32)"/><polygon points="61.80,81.67 70.70,81.01 91.67,81.01 143.00,81.48 143.00,84.71 91.67,85.19 70.70,85.19 61.80,84.52" fill="url(#h33)"/><polygon points="77.90,85.48 88.60,84.81 107.86,84.81 153.60,85.29 153.60,88.52 107.86,88.99 88.60,88.99 77.90,88.33" fill="url(#h34)"/><rect x="33.0" y="87.70" width="73.0" height="3.80" fill="url(#h35)"/><polygon points="113.60,89.98 120.60,89.31 156.06,89.31 187.60,89.79 187.60,93.02 156.06,93.49 120.60,93.49 113.60,92.83" fill="url(#h36)"/><polygon points="27.90,93.88 36.80,93.21 60.92,93.21 106.00,93.69 106.00,96.91 60.92,97.39 36.80,97.39 27.90,96.72" fill="url(#h37)"/><polygon points="29.60,98.88 36.80,98.21 60.92,98.21 106.00,98.69 106.00,101.91 60.92,102.39 36.80,102.39 29.60,101.72" fill="url(#h38)"/><polygon points="58.00,103.17 68.00,102.51 91.40,102.51 137.00,102.98 137.00,106.21 91.40,106.69 68.00,106.69 58.00,106.02" fill="url(#h39)"/><polygon points="139.00,106.38 146.00,105.71 176.60,105.71 211.00,106.19 211.00,109.41 176.60,109.89 146.00,109.89 139.00,109.22" fill="url(#h40)"/><polygon points="44.00,109.28 53.00,108.61 78.20,108.61 120.70,109.09 120.70,112.31 78.20,112.79 53.00,112.79 44.00,112.12" fill="url(#h41)"/><rect x="38.0" y="111.10" width="77.0" height="3.80" fill="url(#h42)"/><polygon points="162.60,60.88 170.00,60.21 193.40,60.21 235.80,60.68 235.80,63.91 193.40,64.39 170.00,64.39 162.60,63.72" fill="url(#h43)"/><polygon points="170.00,65.58 180.00,64.91 202.50,64.91 245.00,65.39 245.00,68.61 202.50,69.09 180.00,69.09 170.00,68.42" fill="url(#h44)"/><polygon points="160.80,69.17 170.00,68.51 193.40,68.51 235.80,68.98 235.80,72.21 193.40,72.69 170.00,72.69 160.80,72.02" fill="url(#h45)"/><polygon points="160.80,73.38 170.00,72.71 209.60,72.71 237.60,73.19 237.60,76.41 209.60,76.89 170.00,76.89 160.80,76.22" fill="url(#h46)"/><rect x="237.0" y="74.70" width="22.0" height="1.80" fill="url(#h47)"/><polygon points="130.00,77.78 143.00,77.11 182.60,77.11 207.00,77.59 207.00,80.81 182.60,81.29 143.00,81.29 130.00,80.62" fill="url(#h48)"/><polygon points="169.70,81.67 178.00,81.01 205.90,81.01 243.00,81.48 243.00,84.71 205.90,85.19 178.00,85.19 169.70,84.52" fill="url(#h49)"/><polygon points="160.80,87.08 168.00,86.41 190.50,86.41 234.00,86.89 234.00,90.11 190.50,90.59 168.00,90.59 160.80,89.92" fill="url(#h50)"/><polygon points="169.70,93.48 178.00,92.81 210.40,92.81 244.70,93.29 244.70,96.52 210.40,96.99 178.00,96.99 169.70,96.33" fill="url(#h51)"/><polygon points="159.00,97.08 166.00,96.41 188.50,96.41 232.00,96.89 232.00,100.11 188.50,100.59 166.00,100.59 159.00,99.92" fill="url(#h52)"/><polygon points="141.00,102.48 152.00,101.81 183.50,101.81 218.00,102.29 218.00,105.52 183.50,105.99 152.00,105.99 141.00,105.33" fill="url(#h53)"/><polygon points="175.00,111.67 187.00,111.01 219.40,111.01 257.00,111.48 257.00,114.71 219.40,115.19 187.00,115.19 175.00,114.52" fill="url(#h54)"/><polygon points="56.40,115.17 67.00,114.51 87.70,114.51 133.00,114.98 133.00,118.21 87.70,118.69 67.00,118.69 56.40,118.02" fill="url(#h55)"/><polygon points="45.70,119.98 54.60,119.31 78.36,119.31 122.50,119.79 122.50,123.02 78.36,123.49 54.60,123.49 45.70,122.83" fill="url(#h56)"/><polygon points="31.40,124.48 42.00,123.81 66.30,123.81 108.00,124.29 108.00,127.52 66.30,127.99 42.00,127.99 31.40,127.33" fill="url(#h57)"/><polygon points="27.90,128.88 36.80,128.21 60.92,128.21 104.60,128.69 104.60,131.92 60.92,132.39 36.80,132.39 27.90,131.73" fill="url(#h58)"/><polygon points="47.50,133.67 56.00,133.01 84.80,133.01 125.00,133.48 125.00,136.72 84.80,137.19 56.00,137.19 47.50,136.53" fill="url(#h59)"/><polygon points="42.00,137.27 51.00,136.61 70.35,136.61 119.00,137.08 119.00,140.31 70.35,140.79 51.00,140.79 42.00,140.12" fill="url(#h60)"/><rect x="11.0" y="139.20" width="31.0" height="1.80" fill="url(#h61)"/><polygon points="86.80,140.57 99.00,139.91 118.53,139.91 164.00,140.38 164.00,143.62 118.53,144.09 99.00,144.09 86.80,143.43" fill="url(#h62)"/><polygon points="175.00,115.48 184.00,114.81 211.00,114.81 248.00,115.29 248.00,118.52 211.00,118.99 184.00,118.99 175.00,118.33" fill="url(#h63)"/><polygon points="171.50,119.98 180.00,119.31 218.70,119.31 248.00,119.79 248.00,123.02 218.70,123.49 180.00,123.49 171.50,122.83" fill="url(#h64)"/><polygon points="143.00,125.38 152.00,124.71 183.50,124.71 218.00,125.19 218.00,128.41 183.50,128.89 152.00,128.89 143.00,128.22" fill="url(#h65)"/><polygon points="150.00,129.27 159.00,128.61 177.90,128.61 227.00,129.08 227.00,132.31 177.90,132.79 159.00,132.79 150.00,132.12" fill="url(#h66)"/><rect x="175.0" y="131.10" width="68.0" height="3.80" fill="url(#h67)"/><polygon points="125.00,133.67 132.00,133.01 148.20,133.01 162.60,133.48 162.60,136.72 148.20,137.19 132.00,137.19 125.00,136.53" fill="url(#h68)"/><rect x="177.0" y="136.10" width="64.0" height="3.80" fill="url(#h69)"/><polygon points="160.00,139.57 170.00,138.91 201.50,138.91 238.00,139.38 238.00,142.62 201.50,143.09 170.00,143.09 160.00,142.43" fill="url(#h70)"/><rect x="96.6" y="162.47" width="77.4" height="5.25" fill="url(#h71)"/><rect x="63.9" y="168.11" width="77.4" height="5.78" fill="url(#h72)"/><rect x="86.7" y="174.25" width="77.3" height="6.30" fill="url(#h73)"/><rect x="89.7" y="181.20" width="81.3" height="4.20" fill="url(#h74)"/><polygon points="250.00,205.67 257.00,205.01 257.65,205.01 259.00,205.48 259.00,208.72 257.65,209.19 257.00,209.19 250.00,208.53" fill="url(#h75)"/><rect x="11.5" y="209.50" width="15.5" height="1.80" fill="url(#h76)"/><rect x="27.0" y="209.70" width="33.0" height="1.40" fill="url(#h77)"/><polygon points="63.60,208.57 74.00,207.91 129.39,207.91 141.00,208.38 141.00,211.62 129.39,212.09 74.00,212.09 63.60,211.43" fill="url(#h78)"/><polygon points="160.00,208.17 170.00,207.51 228.85,207.51 241.00,207.98 241.00,211.22 228.85,211.69 170.00,211.69 160.00,211.03" fill="url(#h79)"/><polygon points="61.80,212.17 70.00,211.51 103.60,211.51 139.00,211.98 139.00,215.22 103.60,215.69 70.00,215.69 61.80,215.03" fill="url(#h80)"/><polygon points="148.00,211.77 155.00,211.11 205.40,211.11 228.60,211.58 228.60,214.81 205.40,215.29 155.00,215.29 148.00,214.62" fill="url(#h81)"/><polygon points="60.00,215.67 70.00,215.01 103.60,215.01 136.00,215.48 136.00,218.72 103.60,219.19 70.00,219.19 60.00,218.53" fill="url(#h82)"/><polygon points="143.00,215.67 150.00,215.01 191.44,215.01 211.00,215.48 211.00,218.72 191.44,219.19 150.00,219.19 143.00,218.53" fill="url(#h83)"/><polygon points="63.60,219.97 77.00,219.31 106.12,219.31 140.00,219.78 140.00,223.02 106.12,223.49 77.00,223.49 63.60,222.83" fill="url(#h84)"/><polygon points="143.00,219.27 150.00,218.61 191.44,218.61 216.00,219.08 216.00,222.31 191.44,222.79 150.00,222.79 143.00,222.12" fill="url(#h85)"/><polygon points="178.60,222.88 186.00,222.21 217.36,222.21 248.00,222.69 248.00,225.92 217.36,226.39 186.00,226.39 178.60,225.73" fill="url(#h86)"/><polygon points="52.90,224.07 62.00,223.41 93.36,223.41 128.00,223.88 128.00,227.12 93.36,227.59 62.00,227.59 52.90,226.93" fill="url(#h87)"/><polygon points="168.00,228.17 175.00,227.51 208.60,227.51 239.00,227.98 239.00,231.22 208.60,231.69 175.00,231.69 168.00,231.03" fill="url(#h88)"/><rect x="152.0" y="227.10" width="48.0" height="1.60" fill="url(#h89)"/><polygon points="45.70,229.07 56.00,228.41 84.00,228.41 120.70,228.88 120.70,232.12 84.00,232.59 56.00,232.59 45.70,231.93" fill="url(#h90)"/><polygon points="63.60,232.17 74.00,231.51 103.12,231.51 139.00,231.98 139.00,235.22 103.12,235.69 74.00,235.69 63.60,235.03" fill="url(#h91)"/><polygon points="148.00,232.17 155.00,231.51 190.84,231.51 223.00,231.98 223.00,235.22 190.84,235.69 155.00,235.69 148.00,235.03" fill="url(#h92)"/><polygon points="47.50,236.07 56.00,235.41 88.48,235.41 124.00,235.88 124.00,239.12 88.48,239.59 56.00,239.59 47.50,238.93" fill="url(#h93)"/><polygon points="155.00,236.57 166.00,235.91 199.60,235.91 232.00,236.38 232.00,239.62 199.60,240.09 166.00,240.09 155.00,239.43" fill="url(#h94)"/><rect x="45.0" y="239.65" width="85.0" height="2.10" fill="url(#h95)"/><polygon points="141.00,240.67 150.00,240.01 181.36,240.01 216.00,240.48 216.00,243.72 181.36,244.19 150.00,244.19 141.00,243.53" fill="url(#h96)"/><polygon points="44.00,242.47 53.00,241.81 88.84,241.81 120.70,242.28 120.70,245.52 88.84,245.99 53.00,245.99 44.00,245.33" fill="url(#h97)"/><polygon points="74.00,246.07 81.00,245.41 113.48,245.41 150.00,245.88 150.00,249.12 113.48,249.59 81.00,249.59 74.00,248.93" fill="url(#h98)"/><polygon points="155.00,245.57 166.00,244.91 199.60,244.91 232.00,245.38 232.00,248.62 199.60,249.09 166.00,249.09 155.00,248.43" fill="url(#h99)"/><polygon points="148.00,249.07 155.00,248.41 180.76,248.41 221.50,248.88 221.50,252.12 180.76,252.59 155.00,252.59 148.00,251.93" fill="url(#h100)"/><polygon points="58.00,249.57 69.00,248.91 92.52,248.91 135.00,249.38 135.00,252.62 92.52,253.09 69.00,253.09 58.00,252.43" fill="url(#h101)"/><polygon points="47.50,253.97 56.00,253.31 88.48,253.31 124.00,253.78 124.00,257.01 88.48,257.49 56.00,257.49 47.50,256.82" fill="url(#h102)"/><polygon points="177.00,253.97 187.00,253.31 217.24,253.31 252.00,253.78 252.00,257.01 217.24,257.49 187.00,257.49 177.00,256.82" fill="url(#h103)"/><polygon points="78.00,257.18 85.00,256.51 113.00,256.51 153.60,256.99 153.60,260.22 113.00,260.69 85.00,260.69 78.00,260.03" fill="url(#h104)"/><polygon points="178.60,257.57 187.00,256.91 217.24,256.91 255.40,257.38 255.40,260.62 217.24,261.09 187.00,261.09 178.60,260.43" fill="url(#h105)"/><polygon points="78.00,261.38 88.00,260.71 120.48,260.71 153.60,261.19 153.60,264.42 120.48,264.89 88.00,264.89 78.00,264.23" fill="url(#h106)"/><polygon points="171.50,262.18 180.00,261.51 212.48,261.51 246.50,261.99 246.50,265.22 212.48,265.69 180.00,265.69 171.50,265.03" fill="url(#h107)"/><polygon points="67.00,265.18 75.00,264.51 103.00,264.51 141.00,264.99 141.00,268.22 103.00,268.69 75.00,268.69 67.00,268.03" fill="url(#h108)"/><polygon points="162.60,266.38 170.00,265.71 199.12,265.71 235.80,266.19 235.80,269.42 199.12,269.89 170.00,269.89 162.60,269.23" fill="url(#h109)"/><polygon points="47.50,268.68 56.00,268.01 88.48,268.01 124.00,268.49 124.00,271.72 88.48,272.19 56.00,272.19 47.50,271.53" fill="url(#h110)"/><polygon points="99.00,272.07 106.00,271.41 139.60,271.41 171.50,271.88 171.50,275.12 139.60,275.59 106.00,275.59 99.00,274.93" fill="url(#h111)"/><polygon points="187.60,271.77 195.00,271.11 226.36,271.11 259.00,271.58 259.00,274.81 226.36,275.29 195.00,275.29 187.60,274.62" fill="url(#h112)"/><polygon points="67.00,277.97 78.00,277.31 106.00,277.31 144.70,277.78 144.70,281.01 106.00,281.49 78.00,281.49 67.00,280.82" fill="url(#h113)"/><polygon points="155.40,279.77 162.40,279.11 200.03,279.11 230.00,279.58 230.00,282.81 200.03,283.29 162.40,283.29 155.40,282.62" fill="url(#h114)"/><polygon points="168.00,283.38 178.00,282.71 208.24,282.71 243.00,283.19 243.00,286.42 208.24,286.89 178.00,286.89 168.00,286.23" fill="url(#h115)"/><polygon points="81.00,284.47 96.00,283.81 124.00,283.81 157.00,284.28 157.00,287.51 124.00,287.99 96.00,287.99 81.00,287.32" fill="url(#h116)"/><polygon points="58.00,288.38 69.00,287.71 99.24,287.71 135.00,288.19 135.00,291.42 99.24,291.89 69.00,291.89 58.00,291.23" fill="url(#h117)"/><polygon points="166.00,288.38 177.00,287.71 208.36,287.71 241.00,288.19 241.00,291.42 208.36,291.89 177.00,291.89 166.00,291.23" fill="url(#h118)"/><rect x="50.0" y="292.65" width="80.0" height="2.10" fill="url(#h119)"/><polygon points="49.00,296.77 60.00,296.11 90.24,296.11 126.00,296.58 126.00,299.81 90.24,300.29 60.00,300.29 49.00,299.62" fill="url(#h120)"/><polygon points="175.00,296.68 184.00,296.01 217.60,296.01 248.00,296.49 248.00,299.72 217.60,300.19 184.00,300.19 175.00,299.53" fill="url(#h121)"/><polygon points="72.50,300.77 83.00,300.11 111.00,300.11 146.50,300.58 146.50,303.81 111.00,304.29 83.00,304.29 72.50,303.62" fill="url(#h122)"/><polygon points="152.00,300.77 161.00,300.11 190.12,300.11 223.00,300.58 223.00,303.81 190.12,304.29 161.00,304.29 152.00,303.62" fill="url(#h123)"/><polygon points="78.00,304.47 88.00,303.81 120.48,303.81 150.00,304.28 150.00,307.51 120.48,307.99 88.00,307.99 78.00,307.32" fill="url(#h124)"/><polygon points="162.60,304.88 170.00,304.21 209.20,304.21 237.60,304.69 237.60,307.92 209.20,308.39 170.00,308.39 162.60,307.73" fill="url(#h125)"/><polygon points="65.00,308.27 76.00,307.61 101.76,307.61 143.00,308.08 143.00,311.31 101.76,311.79 76.00,311.79 65.00,311.12" fill="url(#h126)"/><polygon points="148.00,308.57 155.00,307.91 190.84,307.91 221.50,308.38 221.50,311.62 190.84,312.09 155.00,312.09 148.00,311.43" fill="url(#h127)"/><polygon points="67.00,312.57 80.00,311.91 105.76,311.91 141.00,312.38 141.00,315.62 105.76,316.09 80.00,316.09 67.00,315.43" fill="url(#h128)"/><polygon points="146.50,312.77 154.00,312.11 190.96,312.11 218.00,312.58 218.00,315.81 190.96,316.29 154.00,316.29 146.50,315.62" fill="url(#h129)"/><polygon points="72.50,317.47 85.00,316.81 113.00,316.81 146.50,317.28 146.50,320.51 113.00,320.99 85.00,320.99 72.50,320.32" fill="url(#h130)"/><polygon points="169.70,317.47 178.00,316.81 218.32,316.81 243.00,317.28 243.00,320.51 218.32,320.99 178.00,320.99 169.70,320.32" fill="url(#h131)"/><polygon points="54.60,322.27 65.00,321.61 93.00,321.61 129.60,322.08 129.60,325.31 93.00,325.79 65.00,325.79 54.60,325.12" fill="url(#h132)"/><polygon points="185.80,323.18 195.00,322.51 234.20,322.51 259.00,322.99 259.00,326.22 234.20,326.69 195.00,326.69 185.80,326.03" fill="url(#h133)"/><rect x="10.0" y="328.10" width="46.0" height="1.80" fill="url(#h134)"/><polygon points="56.40,327.57 67.00,326.91 99.48,326.91 131.40,327.38 131.40,330.62 99.48,331.09 67.00,331.09 56.40,330.43" fill="url(#h135)"/><polygon points="187.60,327.57 198.00,326.91 238.32,326.91 259.00,327.38 259.00,330.62 238.32,331.09 198.00,331.09 187.60,330.43" fill="url(#h136)"/><polygon points="63.60,332.07 74.00,331.41 102.00,331.41 138.00,331.88 138.00,335.12 102.00,335.59 74.00,335.59 63.60,334.93" fill="url(#h137)"/><polygon points="166.00,332.07 173.00,331.41 208.84,331.41 241.00,331.88 241.00,335.12 208.84,335.59 173.00,335.59 166.00,334.93" fill="url(#h138)"/><polygon points="74.00,338.38 85.00,337.71 113.00,337.71 148.00,338.19 148.00,341.42 113.00,341.89 85.00,341.89 74.00,341.23" fill="url(#h139)"/><polygon points="166.00,337.07 175.00,336.41 208.60,336.41 237.60,336.88 237.60,340.12 208.60,340.59 175.00,340.59 166.00,339.93" fill="url(#h140)"/><polygon points="14.50,13.82 28.00,13.22 44.20,13.22 92.00,13.66 92.00,14.94 44.20,15.38 28.00,15.38 14.50,14.78" fill="url(#g0)"/><polygon points="22.50,17.02 30.00,16.42 53.40,16.42 100.00,16.86 100.00,18.14 53.40,18.58 30.00,18.58 22.50,17.98" fill="url(#g1)"/><polygon points="37.00,22.22 46.00,21.62 62.20,21.62 113.60,22.06 113.60,23.34 62.20,23.78 46.00,23.78 37.00,23.18" fill="url(#g2)"/><polygon points="15.00,25.42 24.00,24.82 43.80,24.82 94.00,25.26 94.00,26.54 43.80,26.98 24.00,26.98 15.00,26.38" fill="url(#g3)"/><polygon points="124.00,27.02 134.00,26.42 166.40,26.42 198.00,26.86 198.00,28.14 166.40,28.58 134.00,28.58 124.00,27.98" fill="url(#g4)"/><rect x="24.0" y="29.90" width="77.0" height="1.60" fill="url(#g5)"/><polygon points="15.00,33.52 24.00,32.92 40.20,32.92 94.00,33.36 94.00,34.64 40.20,35.08 24.00,35.08 15.00,34.48" fill="url(#g6)"/><polygon points="113.60,37.02 120.60,36.42 147.06,36.42 184.00,36.86 184.00,38.14 147.06,38.58 120.60,38.58 113.60,37.98" fill="url(#g7)"/><polygon points="31.00,37.92 40.00,37.32 61.60,37.32 108.00,37.76 108.00,39.04 61.60,39.48 40.00,39.48 31.00,38.88" fill="url(#g8)"/><polygon points="33.00,42.42 46.00,41.82 69.40,41.82 112.00,42.26 112.00,43.54 69.40,43.98 46.00,43.98 33.00,43.38" fill="url(#g9)"/><polygon points="28.00,45.92 42.00,45.32 61.80,45.32 106.00,45.76 106.00,47.04 61.80,47.48 42.00,47.48 28.00,46.88" fill="url(#g10)"/><polygon points="37.00,49.52 46.00,48.92 69.40,48.92 115.00,49.36 115.00,50.64 69.40,51.08 46.00,51.08 37.00,50.48" fill="url(#g11)"/><polygon points="20.70,52.72 28.00,52.12 52.30,52.12 97.50,52.56 97.50,53.84 52.30,54.28 28.00,54.28 20.70,53.68" fill="url(#g12)"/><polygon points="26.00,56.52 37.00,55.92 61.30,55.92 103.00,56.36 103.00,57.64 61.30,58.08 37.00,58.08 26.00,57.48" fill="url(#g13)"/><polygon points="134.00,14.12 145.00,13.52 161.20,13.52 208.00,13.96 208.00,15.24 161.20,15.68 145.00,15.68 134.00,15.08" fill="url(#g14)"/><polygon points="153.60,17.42 162.00,16.82 185.40,16.82 227.70,17.26 227.70,18.54 185.40,18.98 162.00,18.98 153.60,18.38" fill="url(#g15)"/><polygon points="166.00,22.72 178.00,22.12 202.30,22.12 239.00,22.56 239.00,23.84 202.30,24.28 178.00,24.28 166.00,23.68" fill="url(#g16)"/><polygon points="130.00,30.22 145.00,29.62 174.70,29.62 211.00,30.06 211.00,31.34 174.70,31.78 145.00,31.78 130.00,31.18" fill="url(#g17)"/><polygon points="170.00,33.82 177.00,33.22 202.20,33.22 241.00,33.66 241.00,34.94 202.20,35.38 177.00,35.38 170.00,34.78" fill="url(#g18)"/><polygon points="139.00,42.02 148.00,41.42 194.80,41.42 214.00,41.86 214.00,43.14 194.80,43.58 148.00,43.58 139.00,42.98" fill="url(#g19)"/><polygon points="125.00,45.02 134.00,44.42 166.40,44.42 205.00,44.86 205.00,46.14 166.40,46.58 134.00,46.58 125.00,45.98" fill="url(#g20)"/><rect x="230.0" y="46.60" width="27.0" height="1.40" fill="url(#g21)"/><polygon points="125.00,49.52 134.00,48.92 157.40,48.92 202.00,49.36 202.00,50.64 157.40,51.08 134.00,51.08 125.00,50.48" fill="url(#g22)"/><polygon points="130.00,52.72 140.00,52.12 167.00,52.12 207.00,52.56 207.00,53.84 167.00,54.28 140.00,54.28 130.00,53.68" fill="url(#g23)"/><polygon points="105.00,56.82 115.00,56.22 146.50,56.22 180.00,56.66 180.00,57.94 146.50,58.38 115.00,58.38 105.00,57.78" fill="url(#g24)"/><polygon points="166.00,57.32 178.00,56.72 215.80,56.72 243.00,57.16 243.00,58.44 215.80,58.88 178.00,58.88 166.00,58.28" fill="url(#g25)"/><polygon points="45.70,62.32 54.60,61.72 78.36,61.72 120.70,62.16 120.70,63.44 78.36,63.88 54.60,63.88 45.70,63.28" fill="url(#g26)"/><polygon points="24.00,67.12 33.00,66.52 52.44,66.52 101.00,66.96 101.00,68.24 52.44,68.68 33.00,68.68 24.00,68.08" fill="url(#g27)"/><polygon points="106.00,66.52 113.00,65.92 137.30,65.92 183.00,66.36 183.00,67.64 137.30,68.08 113.00,68.08 106.00,67.48" fill="url(#g28)"/><polygon points="63.60,72.52 76.00,71.92 92.20,71.92 143.00,72.36 143.00,73.64 92.20,74.08 76.00,74.08 63.60,73.48" fill="url(#g29)"/><rect x="11.0" y="75.90" width="24.0" height="1.20" fill="url(#g30)"/><polygon points="35.00,76.02 42.00,75.42 53.70,75.42 103.00,75.86 103.00,77.14 53.70,77.58 42.00,77.58 35.00,76.98" fill="url(#g31)"/><polygon points="51.00,78.72 60.00,78.12 78.00,78.12 124.00,78.56 124.00,79.84 78.00,80.28 60.00,80.28 51.00,79.68" fill="url(#g32)"/><polygon points="61.80,82.62 70.70,82.02 91.67,82.02 143.00,82.46 143.00,83.74 91.67,84.18 70.70,84.18 61.80,83.58" fill="url(#g33)"/><polygon points="77.90,86.42 88.60,85.82 107.86,85.82 153.60,86.26 153.60,87.54 107.86,87.98 88.60,87.98 77.90,87.38" fill="url(#g34)"/><rect x="33.0" y="88.80" width="73.0" height="1.60" fill="url(#g35)"/><polygon points="113.60,90.92 120.60,90.32 156.06,90.32 187.60,90.76 187.60,92.04 156.06,92.48 120.60,92.48 113.60,91.88" fill="url(#g36)"/><polygon points="27.90,94.82 36.80,94.22 60.92,94.22 106.00,94.66 106.00,95.94 60.92,96.38 36.80,96.38 27.90,95.78" fill="url(#g37)"/><polygon points="29.60,99.82 36.80,99.22 60.92,99.22 106.00,99.66 106.00,100.94 60.92,101.38 36.80,101.38 29.60,100.78" fill="url(#g38)"/><polygon points="58.00,104.12 68.00,103.52 91.40,103.52 137.00,103.96 137.00,105.24 91.40,105.68 68.00,105.68 58.00,105.08" fill="url(#g39)"/><polygon points="139.00,107.32 146.00,106.72 176.60,106.72 211.00,107.16 211.00,108.44 176.60,108.88 146.00,108.88 139.00,108.28" fill="url(#g40)"/><polygon points="44.00,110.22 53.00,109.62 78.20,109.62 120.70,110.06 120.70,111.34 78.20,111.78 53.00,111.78 44.00,111.18" fill="url(#g41)"/><rect x="38.0" y="112.20" width="77.0" height="1.60" fill="url(#g42)"/><polygon points="162.60,61.82 170.00,61.22 193.40,61.22 235.80,61.66 235.80,62.94 193.40,63.38 170.00,63.38 162.60,62.78" fill="url(#g43)"/><polygon points="170.00,66.52 180.00,65.92 202.50,65.92 245.00,66.36 245.00,67.64 202.50,68.08 180.00,68.08 170.00,67.48" fill="url(#g44)"/><polygon points="160.80,70.12 170.00,69.52 193.40,69.52 235.80,69.96 235.80,71.24 193.40,71.68 170.00,71.68 160.80,71.08" fill="url(#g45)"/><polygon points="160.80,74.32 170.00,73.72 209.60,73.72 237.60,74.16 237.60,75.44 209.60,75.88 170.00,75.88 160.80,75.28" fill="url(#g46)"/><rect x="237.0" y="75.00" width="22.0" height="1.20" fill="url(#g47)"/><polygon points="130.00,78.72 143.00,78.12 182.60,78.12 207.00,78.56 207.00,79.84 182.60,80.28 143.00,80.28 130.00,79.68" fill="url(#g48)"/><polygon points="169.70,82.62 178.00,82.02 205.90,82.02 243.00,82.46 243.00,83.74 205.90,84.18 178.00,84.18 169.70,83.58" fill="url(#g49)"/><polygon points="160.80,88.02 168.00,87.42 190.50,87.42 234.00,87.86 234.00,89.14 190.50,89.58 168.00,89.58 160.80,88.98" fill="url(#g50)"/><polygon points="169.70,94.42 178.00,93.82 210.40,93.82 244.70,94.26 244.70,95.54 210.40,95.98 178.00,95.98 169.70,95.38" fill="url(#g51)"/><polygon points="159.00,98.02 166.00,97.42 188.50,97.42 232.00,97.86 232.00,99.14 188.50,99.58 166.00,99.58 159.00,98.98" fill="url(#g52)"/><polygon points="141.00,103.42 152.00,102.82 183.50,102.82 218.00,103.26 218.00,104.54 183.50,104.98 152.00,104.98 141.00,104.38" fill="url(#g53)"/><polygon points="175.00,112.62 187.00,112.02 219.40,112.02 257.00,112.46 257.00,113.74 219.40,114.18 187.00,114.18 175.00,113.58" fill="url(#g54)"/><polygon points="56.40,116.12 67.00,115.52 87.70,115.52 133.00,115.96 133.00,117.24 87.70,117.68 67.00,117.68 56.40,117.08" fill="url(#g55)"/><polygon points="45.70,120.92 54.60,120.32 78.36,120.32 122.50,120.76 122.50,122.04 78.36,122.48 54.60,122.48 45.70,121.88" fill="url(#g56)"/><polygon points="31.40,125.42 42.00,124.82 66.30,124.82 108.00,125.26 108.00,126.54 66.30,126.98 42.00,126.98 31.40,126.38" fill="url(#g57)"/><polygon points="27.90,129.82 36.80,129.22 60.92,129.22 104.60,129.66 104.60,130.94 60.92,131.38 36.80,131.38 27.90,130.78" fill="url(#g58)"/><polygon points="47.50,134.62 56.00,134.02 84.80,134.02 125.00,134.46 125.00,135.74 84.80,136.18 56.00,136.18 47.50,135.58" fill="url(#g59)"/><polygon points="42.00,138.22 51.00,137.62 70.35,137.62 119.00,138.06 119.00,139.34 70.35,139.78 51.00,139.78 42.00,139.18" fill="url(#g60)"/><rect x="11.0" y="139.50" width="31.0" height="1.20" fill="url(#g61)"/><polygon points="86.80,141.52 99.00,140.92 118.53,140.92 164.00,141.36 164.00,142.64 118.53,143.08 99.00,143.08 86.80,142.48" fill="url(#g62)"/><polygon points="175.00,116.42 184.00,115.82 211.00,115.82 248.00,116.26 248.00,117.54 211.00,117.98 184.00,117.98 175.00,117.38" fill="url(#g63)"/><polygon points="171.50,120.92 180.00,120.32 218.70,120.32 248.00,120.76 248.00,122.04 218.70,122.48 180.00,122.48 171.50,121.88" fill="url(#g64)"/><polygon points="143.00,126.32 152.00,125.72 183.50,125.72 218.00,126.16 218.00,127.44 183.50,127.88 152.00,127.88 143.00,127.28" fill="url(#g65)"/><polygon points="150.00,130.22 159.00,129.62 177.90,129.62 227.00,130.06 227.00,131.34 177.90,131.78 159.00,131.78 150.00,131.18" fill="url(#g66)"/><rect x="175.0" y="132.20" width="68.0" height="1.60" fill="url(#g67)"/><polygon points="125.00,134.62 132.00,134.02 148.20,134.02 162.60,134.46 162.60,135.74 148.20,136.18 132.00,136.18 125.00,135.58" fill="url(#g68)"/><rect x="177.0" y="137.20" width="64.0" height="1.60" fill="url(#g69)"/><polygon points="160.00,140.52 170.00,139.92 201.50,139.92 238.00,140.36 238.00,141.64 201.50,142.08 170.00,142.08 160.00,141.48" fill="url(#g70)"/><rect x="96.6" y="163.30" width="77.4" height="3.60" fill="url(#g71)"/><rect x="63.9" y="169.02" width="77.4" height="3.96" fill="url(#g72)"/><rect x="86.7" y="175.24" width="77.3" height="4.32" fill="url(#g73)"/><rect x="89.7" y="181.86" width="81.3" height="2.88" fill="url(#g74)"/><polygon points="250.00,206.62 257.00,206.02 257.65,206.02 259.00,206.46 259.00,207.74 257.65,208.18 257.00,208.18 250.00,207.58" fill="url(#g75)"/><rect x="11.5" y="209.80" width="15.5" height="1.20" fill="url(#g76)"/><rect x="27.0" y="210.00" width="33.0" height="0.80" fill="url(#g77)"/><polygon points="63.60,209.52 74.00,208.92 129.39,208.92 141.00,209.36 141.00,210.64 129.39,211.08 74.00,211.08 63.60,210.48" fill="url(#g78)"/><polygon points="160.00,209.12 170.00,208.52 228.85,208.52 241.00,208.96 241.00,210.24 228.85,210.68 170.00,210.68 160.00,210.08" fill="url(#g79)"/><polygon points="61.80,213.12 70.00,212.52 103.60,212.52 139.00,212.96 139.00,214.24 103.60,214.68 70.00,214.68 61.80,214.08" fill="url(#g80)"/><polygon points="148.00,212.72 155.00,212.12 205.40,212.12 228.60,212.56 228.60,213.84 205.40,214.28 155.00,214.28 148.00,213.68" fill="url(#g81)"/><polygon points="60.00,216.62 70.00,216.02 103.60,216.02 136.00,216.46 136.00,217.74 103.60,218.18 70.00,218.18 60.00,217.58" fill="url(#g82)"/><polygon points="143.00,216.62 150.00,216.02 191.44,216.02 211.00,216.46 211.00,217.74 191.44,218.18 150.00,218.18 143.00,217.58" fill="url(#g83)"/><polygon points="63.60,220.92 77.00,220.32 106.12,220.32 140.00,220.76 140.00,222.04 106.12,222.48 77.00,222.48 63.60,221.88" fill="url(#g84)"/><polygon points="143.00,220.22 150.00,219.62 191.44,219.62 216.00,220.06 216.00,221.34 191.44,221.78 150.00,221.78 143.00,221.18" fill="url(#g85)"/><polygon points="178.60,223.82 186.00,223.22 217.36,223.22 248.00,223.66 248.00,224.94 217.36,225.38 186.00,225.38 178.60,224.78" fill="url(#g86)"/><polygon points="52.90,225.02 62.00,224.42 93.36,224.42 128.00,224.86 128.00,226.14 93.36,226.58 62.00,226.58 52.90,225.98" fill="url(#g87)"/><polygon points="168.00,229.12 175.00,228.52 208.60,228.52 239.00,228.96 239.00,230.24 208.60,230.68 175.00,230.68 168.00,230.08" fill="url(#g88)"/><rect x="152.0" y="227.40" width="48.0" height="1.00" fill="url(#g89)"/><polygon points="45.70,230.02 56.00,229.42 84.00,229.42 120.70,229.86 120.70,231.14 84.00,231.58 56.00,231.58 45.70,230.98" fill="url(#g90)"/><polygon points="63.60,233.12 74.00,232.52 103.12,232.52 139.00,232.96 139.00,234.24 103.12,234.68 74.00,234.68 63.60,234.08" fill="url(#g91)"/><polygon points="148.00,233.12 155.00,232.52 190.84,232.52 223.00,232.96 223.00,234.24 190.84,234.68 155.00,234.68 148.00,234.08" fill="url(#g92)"/><polygon points="47.50,237.02 56.00,236.42 88.48,236.42 124.00,236.86 124.00,238.14 88.48,238.58 56.00,238.58 47.50,237.98" fill="url(#g93)"/><polygon points="155.00,237.52 166.00,236.92 199.60,236.92 232.00,237.36 232.00,238.64 199.60,239.08 166.00,239.08 155.00,238.48" fill="url(#g94)"/><rect x="45.0" y="239.95" width="85.0" height="1.50" fill="url(#g95)"/><polygon points="141.00,241.62 150.00,241.02 181.36,241.02 216.00,241.46 216.00,242.74 181.36,243.18 150.00,243.18 141.00,242.58" fill="url(#g96)"/><polygon points="44.00,243.42 53.00,242.82 88.84,242.82 120.70,243.26 120.70,244.54 88.84,244.98 53.00,244.98 44.00,244.38" fill="url(#g97)"/><polygon points="74.00,247.02 81.00,246.42 113.48,246.42 150.00,246.86 150.00,248.14 113.48,248.58 81.00,248.58 74.00,247.98" fill="url(#g98)"/><polygon points="155.00,246.52 166.00,245.92 199.60,245.92 232.00,246.36 232.00,247.64 199.60,248.08 166.00,248.08 155.00,247.48" fill="url(#g99)"/><polygon points="148.00,250.02 155.00,249.42 180.76,249.42 221.50,249.86 221.50,251.14 180.76,251.58 155.00,251.58 148.00,250.98" fill="url(#g100)"/><polygon points="58.00,250.52 69.00,249.92 92.52,249.92 135.00,250.36 135.00,251.64 92.52,252.08 69.00,252.08 58.00,251.48" fill="url(#g101)"/><polygon points="47.50,254.92 56.00,254.32 88.48,254.32 124.00,254.76 124.00,256.04 88.48,256.48 56.00,256.48 47.50,255.88" fill="url(#g102)"/><polygon points="177.00,254.92 187.00,254.32 217.24,254.32 252.00,254.76 252.00,256.04 217.24,256.48 187.00,256.48 177.00,255.88" fill="url(#g103)"/><polygon points="78.00,258.12 85.00,257.52 113.00,257.52 153.60,257.96 153.60,259.24 113.00,259.68 85.00,259.68 78.00,259.08" fill="url(#g104)"/><polygon points="178.60,258.52 187.00,257.92 217.24,257.92 255.40,258.36 255.40,259.64 217.24,260.08 187.00,260.08 178.60,259.48" fill="url(#g105)"/><polygon points="78.00,262.32 88.00,261.72 120.48,261.72 153.60,262.16 153.60,263.44 120.48,263.88 88.00,263.88 78.00,263.28" fill="url(#g106)"/><polygon points="171.50,263.12 180.00,262.52 212.48,262.52 246.50,262.96 246.50,264.24 212.48,264.68 180.00,264.68 171.50,264.08" fill="url(#g107)"/><polygon points="67.00,266.12 75.00,265.52 103.00,265.52 141.00,265.96 141.00,267.24 103.00,267.68 75.00,267.68 67.00,267.08" fill="url(#g108)"/><polygon points="162.60,267.32 170.00,266.72 199.12,266.72 235.80,267.16 235.80,268.44 199.12,268.88 170.00,268.88 162.60,268.28" fill="url(#g109)"/><polygon points="47.50,269.62 56.00,269.02 88.48,269.02 124.00,269.46 124.00,270.74 88.48,271.18 56.00,271.18 47.50,270.58" fill="url(#g110)"/><polygon points="99.00,273.02 106.00,272.42 139.60,272.42 171.50,272.86 171.50,274.14 139.60,274.58 106.00,274.58 99.00,273.98" fill="url(#g111)"/><polygon points="187.60,272.72 195.00,272.12 226.36,272.12 259.00,272.56 259.00,273.84 226.36,274.28 195.00,274.28 187.60,273.68" fill="url(#g112)"/><polygon points="67.00,278.92 78.00,278.32 106.00,278.32 144.70,278.76 144.70,280.04 106.00,280.48 78.00,280.48 67.00,279.88" fill="url(#g113)"/><polygon points="155.40,280.72 162.40,280.12 200.03,280.12 230.00,280.56 230.00,281.84 200.03,282.28 162.40,282.28 155.40,281.68" fill="url(#g114)"/><polygon points="168.00,284.32 178.00,283.72 208.24,283.72 243.00,284.16 243.00,285.44 208.24,285.88 178.00,285.88 168.00,285.28" fill="url(#g115)"/><polygon points="81.00,285.42 96.00,284.82 124.00,284.82 157.00,285.26 157.00,286.54 124.00,286.98 96.00,286.98 81.00,286.38" fill="url(#g116)"/><polygon points="58.00,289.32 69.00,288.72 99.24,288.72 135.00,289.16 135.00,290.44 99.24,290.88 69.00,290.88 58.00,290.28" fill="url(#g117)"/><polygon points="166.00,289.32 177.00,288.72 208.36,288.72 241.00,289.16 241.00,290.44 208.36,290.88 177.00,290.88 166.00,290.28" fill="url(#g118)"/><rect x="50.0" y="292.95" width="80.0" height="1.50" fill="url(#g119)"/><polygon points="49.00,297.72 60.00,297.12 90.24,297.12 126.00,297.56 126.00,298.84 90.24,299.28 60.00,299.28 49.00,298.68" fill="url(#g120)"/><polygon points="175.00,297.62 184.00,297.02 217.60,297.02 248.00,297.46 248.00,298.74 217.60,299.18 184.00,299.18 175.00,298.58" fill="url(#g121)"/><polygon points="72.50,301.72 83.00,301.12 111.00,301.12 146.50,301.56 146.50,302.84 111.00,303.28 83.00,303.28 72.50,302.68" fill="url(#g122)"/><polygon points="152.00,301.72 161.00,301.12 190.12,301.12 223.00,301.56 223.00,302.84 190.12,303.28 161.00,303.28 152.00,302.68" fill="url(#g123)"/><polygon points="78.00,305.42 88.00,304.82 120.48,304.82 150.00,305.26 150.00,306.54 120.48,306.98 88.00,306.98 78.00,306.38" fill="url(#g124)"/><polygon points="162.60,305.82 170.00,305.22 209.20,305.22 237.60,305.66 237.60,306.94 209.20,307.38 170.00,307.38 162.60,306.78" fill="url(#g125)"/><polygon points="65.00,309.22 76.00,308.62 101.76,308.62 143.00,309.06 143.00,310.34 101.76,310.78 76.00,310.78 65.00,310.18" fill="url(#g126)"/><polygon points="148.00,309.52 155.00,308.92 190.84,308.92 221.50,309.36 221.50,310.64 190.84,311.08 155.00,311.08 148.00,310.48" fill="url(#g127)"/><polygon points="67.00,313.52 80.00,312.92 105.76,312.92 141.00,313.36 141.00,314.64 105.76,315.08 80.00,315.08 67.00,314.48" fill="url(#g128)"/><polygon points="146.50,313.72 154.00,313.12 190.96,313.12 218.00,313.56 218.00,314.84 190.96,315.28 154.00,315.28 146.50,314.68" fill="url(#g129)"/><polygon points="72.50,318.42 85.00,317.82 113.00,317.82 146.50,318.26 146.50,319.54 113.00,319.98 85.00,319.98 72.50,319.38" fill="url(#g130)"/><polygon points="169.70,318.42 178.00,317.82 218.32,317.82 243.00,318.26 243.00,319.54 218.32,319.98 178.00,319.98 169.70,319.38" fill="url(#g131)"/><polygon points="54.60,323.22 65.00,322.62 93.00,322.62 129.60,323.06 129.60,324.34 93.00,324.78 65.00,324.78 54.60,324.18" fill="url(#g132)"/><polygon points="185.80,324.12 195.00,323.52 234.20,323.52 259.00,323.96 259.00,325.24 234.20,325.68 195.00,325.68 185.80,325.08" fill="url(#g133)"/><rect x="10.0" y="328.40" width="46.0" height="1.20" fill="url(#g134)"/><polygon points="56.40,328.52 67.00,327.92 99.48,327.92 131.40,328.36 131.40,329.64 99.48,330.08 67.00,330.08 56.40,329.48" fill="url(#g135)"/><polygon points="187.60,328.52 198.00,327.92 238.32,327.92 259.00,328.36 259.00,329.64 238.32,330.08 198.00,330.08 187.60,329.48" fill="url(#g136)"/><polygon points="63.60,333.02 74.00,332.42 102.00,332.42 138.00,332.86 138.00,334.14 102.00,334.58 74.00,334.58 63.60,333.98" fill="url(#g137)"/><polygon points="166.00,333.02 173.00,332.42 208.84,332.42 241.00,332.86 241.00,334.14 208.84,334.58 173.00,334.58 166.00,333.98" fill="url(#g138)"/><polygon points="74.00,339.32 85.00,338.72 113.00,338.72 148.00,339.16 148.00,340.44 113.00,340.88 85.00,340.88 74.00,340.28" fill="url(#g139)"/><polygon points="166.00,338.02 175.00,337.42 208.60,337.42 237.60,337.86 237.60,339.14 208.60,339.58 175.00,339.58 166.00,338.98" fill="url(#g140)"/><rect x="42.4" y="13.5" width="1.1" height="1.6" fill="#fff0b0" opacity="0.25"/><rect x="64.4" y="13.5" width="1.1" height="1.6" fill="#fff0b0" opacity="0.22"/><rect x="56.7" y="13.5" width="1.1" height="1.6" fill="#fff0b0" opacity="0.31"/><rect x="32.4" y="16.7" width="1.1" height="1.6" fill="#fff0b0" opacity="0.35"/><rect x="31.0" y="16.7" width="1.1" height="1.6" fill="#fff0b0" opacity="0.33"/><rect x="33.2" y="16.7" width="1.1" height="1.6" fill="#fff0b0" opacity="0.23"/><rect x="71.3" y="21.9" width="1.1" height="1.6" fill="#fff0b0" opacity="0.45"/><rect x="51.2" y="21.9" width="1.1" height="1.6" fill="#fff0b0" opacity="0.27"/><rect x="84.8" y="21.9" width="1.1" height="1.6" fill="#fff0b0" opacity="0.48"/><rect x="60.8" y="25.1" width="1.1" height="1.6" fill="#fff0b0" opacity="0.32"/><rect x="88.4" y="25.1" width="1.1" height="1.6" fill="#fff0b0" opacity="0.21"/><rect x="80.2" y="25.1" width="1.1" height="1.6" fill="#fff0b0" opacity="0.29"/><rect x="139.2" y="26.7" width="1.1" height="1.6" fill="#fff0b0" opacity="0.24"/><rect x="149.7" y="26.7" width="1.1" height="1.6" fill="#fff0b0" opacity="0.44"/><rect x="141.6" y="26.7" width="1.1" height="1.6" fill="#fff0b0" opacity="0.37"/><rect x="65.1" y="33.2" width="1.1" height="1.6" fill="#fff0b0" opacity="0.31"/><rect x="58.8" y="33.2" width="1.1" height="1.6" fill="#fff0b0" opacity="0.22"/><rect x="25.1" y="33.2" width="1.1" height="1.6" fill="#fff0b0" opacity="0.26"/><rect x="160.7" y="36.7" width="1.1" height="1.6" fill="#fff0b0" opacity="0.33"/><rect x="138.6" y="36.7" width="1.1" height="1.6" fill="#fff0b0" opacity="0.38"/><rect x="147.0" y="36.7" width="1.1" height="1.6" fill="#fff0b0" opacity="0.29"/><rect x="90.2" y="37.6" width="1.1" height="1.6" fill="#fff0b0" opacity="0.41"/><rect x="53.4" y="37.6" width="1.1" height="1.6" fill="#fff0b0" opacity="0.37"/><rect x="72.2" y="37.6" width="1.1" height="1.6" fill="#fff0b0" opacity="0.46"/><rect x="89.3" y="42.1" width="1.1" height="1.6" fill="#fff0b0" opacity="0.29"/><rect x="106.6" y="42.1" width="1.1" height="1.6" fill="#fff0b0" opacity="0.24"/><rect x="67.9" y="42.1" width="1.1" height="1.6" fill="#fff0b0" opacity="0.43"/><rect x="44.3" y="45.6" width="1.1" height="1.6" fill="#fff0b0" opacity="0.35"/><rect x="36.7" y="45.6" width="1.1" height="1.6" fill="#fff0b0" opacity="0.40"/><rect x="86.0" y="45.6" width="1.1" height="1.6" fill="#fff0b0" opacity="0.37"/><rect x="102.5" y="49.2" width="1.1" height="1.6" fill="#fff0b0" opacity="0.29"/><rect x="90.3" y="49.2" width="1.1" height="1.6" fill="#fff0b0" opacity="0.38"/><rect x="82.4" y="49.2" width="1.1" height="1.6" fill="#fff0b0" opacity="0.34"/><rect x="82.8" y="52.4" width="1.1" height="1.6" fill="#fff0b0" opacity="0.48"/><rect x="58.4" y="52.4" width="1.1" height="1.6" fill="#fff0b0" opacity="0.40"/><rect x="30.8" y="52.4" width="1.1" height="1.6" fill="#fff0b0" opacity="0.41"/><rect x="75.4" y="56.2" width="1.1" height="1.6" fill="#fff0b0" opacity="0.50"/><rect x="87.1" y="56.2" width="1.1" height="1.6" fill="#fff0b0" opacity="0.29"/><rect x="57.8" y="56.2" width="1.1" height="1.6" fill="#fff0b0" opacity="0.40"/><rect x="141.4" y="13.8" width="1.1" height="1.6" fill="#fff0b0" opacity="0.34"/><rect x="150.8" y="13.8" width="1.1" height="1.6" fill="#fff0b0" opacity="0.24"/><rect x="143.8" y="13.8" width="1.1" height="1.6" fill="#fff0b0" opacity="0.43"/><rect x="167.9" y="17.1" width="1.1" height="1.6" fill="#fff0b0" opacity="0.27"/><rect x="184.7" y="17.1" width="1.1" height="1.6" fill="#fff0b0" opacity="0.46"/><rect x="164.8" y="17.1" width="1.1" height="1.6" fill="#fff0b0" opacity="0.33"/><rect x="206.6" y="22.4" width="1.1" height="1.6" fill="#fff0b0" opacity="0.47"/><rect x="223.6" y="22.4" width="1.1" height="1.6" fill="#fff0b0" opacity="0.46"/><rect x="189.5" y="22.4" width="1.1" height="1.6" fill="#fff0b0" opacity="0.32"/><rect x="161.5" y="29.9" width="1.1" height="1.6" fill="#fff0b0" opacity="0.47"/><rect x="204.0" y="29.9" width="1.1" height="1.6" fill="#fff0b0" opacity="0.25"/><rect x="148.5" y="29.9" width="1.1" height="1.6" fill="#fff0b0" opacity="0.27"/><rect x="152.6" y="29.9" width="1.1" height="1.6" fill="#fff0b0" opacity="0.35"/><rect x="211.9" y="33.5" width="1.1" height="1.6" fill="#fff0b0" opacity="0.28"/><rect x="176.2" y="33.5" width="1.1" height="1.6" fill="#fff0b0" opacity="0.33"/><rect x="198.5" y="33.5" width="1.1" height="1.6" fill="#fff0b0" opacity="0.37"/><rect x="207.0" y="41.7" width="1.1" height="1.6" fill="#fff0b0" opacity="0.41"/><rect x="178.5" y="41.7" width="1.1" height="1.6" fill="#fff0b0" opacity="0.39"/><rect x="189.0" y="41.7" width="1.1" height="1.6" fill="#fff0b0" opacity="0.22"/><rect x="194.0" y="44.7" width="1.1" height="1.6" fill="#fff0b0" opacity="0.43"/><rect x="192.2" y="44.7" width="1.1" height="1.6" fill="#fff0b0" opacity="0.44"/><rect x="158.5" y="44.7" width="1.1" height="1.6" fill="#fff0b0" opacity="0.32"/><rect x="138.2" y="44.7" width="1.1" height="1.6" fill="#fff0b0" opacity="0.39"/><rect x="237.1" y="46.5" width="1.1" height="1.6" fill="#fff0b0" opacity="0.22"/><rect x="145.0" y="49.2" width="1.1" height="1.6" fill="#fff0b0" opacity="0.25"/><rect x="153.8" y="49.2" width="1.1" height="1.6" fill="#fff0b0" opacity="0.22"/><rect x="131.0" y="49.2" width="1.1" height="1.6" fill="#fff0b0" opacity="0.25"/><rect x="142.8" y="52.4" width="1.1" height="1.6" fill="#fff0b0" opacity="0.31"/><rect x="137.7" y="52.4" width="1.1" height="1.6" fill="#fff0b0" opacity="0.46"/><rect x="177.1" y="52.4" width="1.1" height="1.6" fill="#fff0b0" opacity="0.24"/><rect x="127.4" y="56.5" width="1.1" height="1.6" fill="#fff0b0" opacity="0.30"/><rect x="134.7" y="56.5" width="1.1" height="1.6" fill="#fff0b0" opacity="0.24"/><rect x="166.2" y="56.5" width="1.1" height="1.6" fill="#fff0b0" opacity="0.50"/><rect x="203.2" y="57.0" width="1.1" height="1.6" fill="#fff0b0" opacity="0.35"/><rect x="177.8" y="57.0" width="1.1" height="1.6" fill="#fff0b0" opacity="0.23"/><rect x="195.0" y="57.0" width="1.1" height="1.6" fill="#fff0b0" opacity="0.28"/><rect x="105.6" y="62.0" width="1.1" height="1.6" fill="#fff0b0" opacity="0.25"/><rect x="53.2" y="62.0" width="1.1" height="1.6" fill="#fff0b0" opacity="0.49"/><rect x="86.0" y="62.0" width="1.1" height="1.6" fill="#fff0b0" opacity="0.24"/><rect x="66.4" y="66.8" width="1.1" height="1.6" fill="#fff0b0" opacity="0.21"/><rect x="65.4" y="66.8" width="1.1" height="1.6" fill="#fff0b0" opacity="0.49"/><rect x="87.8" y="66.8" width="1.1" height="1.6" fill="#fff0b0" opacity="0.41"/><rect x="129.5" y="66.2" width="1.1" height="1.6" fill="#fff0b0" opacity="0.31"/><rect x="123.2" y="66.2" width="1.1" height="1.6" fill="#fff0b0" opacity="0.43"/><rect x="147.7" y="66.2" width="1.1" height="1.6" fill="#fff0b0" opacity="0.43"/><rect x="92.5" y="72.2" width="1.1" height="1.6" fill="#fff0b0" opacity="0.27"/><rect x="125.9" y="72.2" width="1.1" height="1.6" fill="#fff0b0" opacity="0.50"/><rect x="128.8" y="72.2" width="1.1" height="1.6" fill="#fff0b0" opacity="0.44"/><rect x="88.5" y="75.7" width="1.1" height="1.6" fill="#fff0b0" opacity="0.42"/><rect x="54.2" y="75.7" width="1.1" height="1.6" fill="#fff0b0" opacity="0.36"/><rect x="61.6" y="75.7" width="1.1" height="1.6" fill="#fff0b0" opacity="0.21"/><rect x="58.8" y="78.4" width="1.1" height="1.6" fill="#fff0b0" opacity="0.28"/><rect x="73.3" y="78.4" width="1.1" height="1.6" fill="#fff0b0" opacity="0.41"/><rect x="117.3" y="78.4" width="1.1" height="1.6" fill="#fff0b0" opacity="0.33"/><rect x="134.5" y="82.3" width="1.1" height="1.6" fill="#fff0b0" opacity="0.50"/><rect x="135.8" y="82.3" width="1.1" height="1.6" fill="#fff0b0" opacity="0.31"/><rect x="83.5" y="82.3" width="1.1" height="1.6" fill="#fff0b0" opacity="0.27"/><rect x="81.8" y="82.3" width="1.1" height="1.6" fill="#fff0b0" opacity="0.26"/><rect x="124.9" y="86.1" width="1.1" height="1.6" fill="#fff0b0" opacity="0.47"/><rect x="139.1" y="86.1" width="1.1" height="1.6" fill="#fff0b0" opacity="0.34"/><rect x="126.8" y="86.1" width="1.1" height="1.6" fill="#fff0b0" opacity="0.44"/><rect x="125.0" y="90.6" width="1.1" height="1.6" fill="#fff0b0" opacity="0.40"/><rect x="177.8" y="90.6" width="1.1" height="1.6" fill="#fff0b0" opacity="0.43"/><rect x="167.6" y="90.6" width="1.1" height="1.6" fill="#fff0b0" opacity="0.34"/><rect x="46.1" y="94.5" width="1.1" height="1.6" fill="#fff0b0" opacity="0.44"/><rect x="56.5" y="94.5" width="1.1" height="1.6" fill="#fff0b0" opacity="0.44"/><rect x="100.1" y="94.5" width="1.1" height="1.6" fill="#fff0b0" opacity="0.32"/><rect x="62.3" y="99.5" width="1.1" height="1.6" fill="#fff0b0" opacity="0.48"/><rect x="83.7" y="99.5" width="1.1" height="1.6" fill="#fff0b0" opacity="0.25"/><rect x="44.0" y="99.5" width="1.1" height="1.6" fill="#fff0b0" opacity="0.25"/><rect x="126.4" y="103.8" width="1.1" height="1.6" fill="#fff0b0" opacity="0.44"/><rect x="74.1" y="103.8" width="1.1" height="1.6" fill="#fff0b0" opacity="0.45"/><rect x="131.6" y="103.8" width="1.1" height="1.6" fill="#fff0b0" opacity="0.40"/><rect x="166.7" y="107.0" width="1.1" height="1.6" fill="#fff0b0" opacity="0.36"/><rect x="153.1" y="107.0" width="1.1" height="1.6" fill="#fff0b0" opacity="0.20"/><rect x="205.2" y="107.0" width="1.1" height="1.6" fill="#fff0b0" opacity="0.39"/><rect x="85.1" y="109.9" width="1.1" height="1.6" fill="#fff0b0" opacity="0.48"/><rect x="78.9" y="109.9" width="1.1" height="1.6" fill="#fff0b0" opacity="0.46"/><rect x="105.1" y="109.9" width="1.1" height="1.6" fill="#fff0b0" opacity="0.26"/><rect x="184.5" y="61.5" width="1.1" height="1.6" fill="#fff0b0" opacity="0.29"/><rect x="183.8" y="61.5" width="1.1" height="1.6" fill="#fff0b0" opacity="0.38"/><rect x="185.0" y="61.5" width="1.1" height="1.6" fill="#fff0b0" opacity="0.33"/><rect x="184.5" y="66.2" width="1.1" height="1.6" fill="#fff0b0" opacity="0.47"/><rect x="199.0" y="66.2" width="1.1" height="1.6" fill="#fff0b0" opacity="0.34"/><rect x="213.9" y="66.2" width="1.1" height="1.6" fill="#fff0b0" opacity="0.47"/><rect x="194.1" y="69.8" width="1.1" height="1.6" fill="#fff0b0" opacity="0.48"/><rect x="199.4" y="69.8" width="1.1" height="1.6" fill="#fff0b0" opacity="0.36"/><rect x="200.8" y="69.8" width="1.1" height="1.6" fill="#fff0b0" opacity="0.21"/><rect x="196.2" y="74.0" width="1.1" height="1.6" fill="#fff0b0" opacity="0.25"/><rect x="167.1" y="74.0" width="1.1" height="1.6" fill="#fff0b0" opacity="0.44"/><rect x="178.3" y="74.0" width="1.1" height="1.6" fill="#fff0b0" opacity="0.34"/><rect x="184.6" y="78.4" width="1.1" height="1.6" fill="#fff0b0" opacity="0.37"/><rect x="157.8" y="78.4" width="1.1" height="1.6" fill="#fff0b0" opacity="0.36"/><rect x="173.2" y="78.4" width="1.1" height="1.6" fill="#fff0b0" opacity="0.44"/><rect x="182.4" y="82.3" width="1.1" height="1.6" fill="#fff0b0" opacity="0.37"/><rect x="191.4" y="82.3" width="1.1" height="1.6" fill="#fff0b0" opacity="0.28"/><rect x="224.6" y="82.3" width="1.1" height="1.6" fill="#fff0b0" opacity="0.35"/><rect x="202.3" y="87.7" width="1.1" height="1.6" fill="#fff0b0" opacity="0.43"/><rect x="224.5" y="87.7" width="1.1" height="1.6" fill="#fff0b0" opacity="0.33"/><rect x="205.5" y="87.7" width="1.1" height="1.6" fill="#fff0b0" opacity="0.35"/><rect x="209.0" y="94.1" width="1.1" height="1.6" fill="#fff0b0" opacity="0.41"/><rect x="205.1" y="94.1" width="1.1" height="1.6" fill="#fff0b0" opacity="0.36"/><rect x="206.8" y="94.1" width="1.1" height="1.6" fill="#fff0b0" opacity="0.48"/><rect x="209.1" y="97.7" width="1.1" height="1.6" fill="#fff0b0" opacity="0.46"/><rect x="224.4" y="97.7" width="1.1" height="1.6" fill="#fff0b0" opacity="0.28"/><rect x="200.2" y="97.7" width="1.1" height="1.6" fill="#fff0b0" opacity="0.48"/><rect x="203.3" y="103.1" width="1.1" height="1.6" fill="#fff0b0" opacity="0.24"/><rect x="155.1" y="103.1" width="1.1" height="1.6" fill="#fff0b0" opacity="0.33"/><rect x="151.9" y="103.1" width="1.1" height="1.6" fill="#fff0b0" opacity="0.27"/><rect x="186.3" y="112.3" width="1.1" height="1.6" fill="#fff0b0" opacity="0.40"/><rect x="237.4" y="112.3" width="1.1" height="1.6" fill="#fff0b0" opacity="0.47"/><rect x="192.1" y="112.3" width="1.1" height="1.6" fill="#fff0b0" opacity="0.41"/><rect x="228.5" y="112.3" width="1.1" height="1.6" fill="#fff0b0" opacity="0.24"/><rect x="121.2" y="115.8" width="1.1" height="1.6" fill="#fff0b0" opacity="0.49"/><rect x="77.0" y="115.8" width="1.1" height="1.6" fill="#fff0b0" opacity="0.49"/><rect x="88.9" y="115.8" width="1.1" height="1.6" fill="#fff0b0" opacity="0.35"/><rect x="117.8" y="120.6" width="1.1" height="1.6" fill="#fff0b0" opacity="0.45"/><rect x="62.5" y="120.6" width="1.1" height="1.6" fill="#fff0b0" opacity="0.33"/><rect x="86.1" y="120.6" width="1.1" height="1.6" fill="#fff0b0" opacity="0.30"/><rect x="50.4" y="125.1" width="1.1" height="1.6" fill="#fff0b0" opacity="0.30"/><rect x="85.5" y="125.1" width="1.1" height="1.6" fill="#fff0b0" opacity="0.21"/><rect x="74.3" y="125.1" width="1.1" height="1.6" fill="#fff0b0" opacity="0.33"/><rect x="35.1" y="129.5" width="1.1" height="1.6" fill="#fff0b0" opacity="0.30"/><rect x="75.5" y="129.5" width="1.1" height="1.6" fill="#fff0b0" opacity="0.35"/><rect x="38.2" y="129.5" width="1.1" height="1.6" fill="#fff0b0" opacity="0.50"/><rect x="106.7" y="134.3" width="1.1" height="1.6" fill="#fff0b0" opacity="0.49"/><rect x="60.6" y="134.3" width="1.1" height="1.6" fill="#fff0b0" opacity="0.28"/><rect x="56.2" y="134.3" width="1.1" height="1.6" fill="#fff0b0" opacity="0.43"/><rect x="66.1" y="137.9" width="1.1" height="1.6" fill="#fff0b0" opacity="0.24"/><rect x="76.3" y="137.9" width="1.1" height="1.6" fill="#fff0b0" opacity="0.47"/><rect x="102.9" y="137.9" width="1.1" height="1.6" fill="#fff0b0" opacity="0.28"/><rect x="102.8" y="141.2" width="1.1" height="1.6" fill="#fff0b0" opacity="0.48"/><rect x="131.1" y="141.2" width="1.1" height="1.6" fill="#fff0b0" opacity="0.41"/><rect x="98.8" y="141.2" width="1.1" height="1.6" fill="#fff0b0" opacity="0.22"/><rect x="224.4" y="116.1" width="1.1" height="1.6" fill="#fff0b0" opacity="0.33"/><rect x="185.6" y="116.1" width="1.1" height="1.6" fill="#fff0b0" opacity="0.48"/><rect x="221.0" y="116.1" width="1.1" height="1.6" fill="#fff0b0" opacity="0.44"/><rect x="183.1" y="120.6" width="1.1" height="1.6" fill="#fff0b0" opacity="0.46"/><rect x="181.9" y="120.6" width="1.1" height="1.6" fill="#fff0b0" opacity="0.46"/><rect x="207.7" y="120.6" width="1.1" height="1.6" fill="#fff0b0" opacity="0.30"/><rect x="184.9" y="126.0" width="1.1" height="1.6" fill="#fff0b0" opacity="0.48"/><rect x="166.4" y="126.0" width="1.1" height="1.6" fill="#fff0b0" opacity="0.24"/><rect x="183.2" y="126.0" width="1.1" height="1.6" fill="#fff0b0" opacity="0.27"/><rect x="163.3" y="129.9" width="1.1" height="1.6" fill="#fff0b0" opacity="0.25"/><rect x="159.4" y="129.9" width="1.1" height="1.6" fill="#fff0b0" opacity="0.26"/><rect x="176.9" y="129.9" width="1.1" height="1.6" fill="#fff0b0" opacity="0.29"/><rect x="152.0" y="134.3" width="1.1" height="1.6" fill="#fff0b0" opacity="0.29"/><rect x="200.0" y="140.2" width="1.1" height="1.6" fill="#fff0b0" opacity="0.25"/><rect x="189.6" y="140.2" width="1.1" height="1.6" fill="#fff0b0" opacity="0.21"/><rect x="183.0" y="140.2" width="1.1" height="1.6" fill="#fff0b0" opacity="0.20"/><rect x="152.0" y="164.3" width="1.1" height="1.6" fill="#fff0b0" opacity="0.37"/><rect x="115.4" y="164.3" width="1.1" height="1.6" fill="#fff0b0" opacity="0.34"/><rect x="165.6" y="164.3" width="1.1" height="1.6" fill="#fff0b0" opacity="0.23"/><rect x="125.1" y="170.2" width="1.1" height="1.6" fill="#fff0b0" opacity="0.33"/><rect x="103.3" y="170.2" width="1.1" height="1.6" fill="#fff0b0" opacity="0.45"/><rect x="96.4" y="170.2" width="1.1" height="1.6" fill="#fff0b0" opacity="0.35"/><rect x="139.0" y="176.6" width="1.1" height="1.6" fill="#fff0b0" opacity="0.49"/><rect x="115.8" y="176.6" width="1.1" height="1.6" fill="#fff0b0" opacity="0.45"/><rect x="140.3" y="176.6" width="1.1" height="1.6" fill="#fff0b0" opacity="0.39"/><rect x="124.6" y="182.5" width="1.1" height="1.6" fill="#fff0b0" opacity="0.30"/><rect x="99.6" y="182.5" width="1.1" height="1.6" fill="#fff0b0" opacity="0.24"/><rect x="100.7" y="182.5" width="1.1" height="1.6" fill="#fff0b0" opacity="0.42"/><rect x="113.9" y="182.5" width="1.1" height="1.6" fill="#fff0b0" opacity="0.25"/><rect x="75.3" y="209.2" width="1.1" height="1.6" fill="#fff0b0" opacity="0.45"/><rect x="128.3" y="209.2" width="1.1" height="1.6" fill="#fff0b0" opacity="0.40"/><rect x="88.6" y="209.2" width="1.1" height="1.6" fill="#fff0b0" opacity="0.27"/><rect x="186.8" y="208.8" width="1.1" height="1.6" fill="#fff0b0" opacity="0.34"/><rect x="177.2" y="208.8" width="1.1" height="1.6" fill="#fff0b0" opacity="0.33"/><rect x="184.7" y="208.8" width="1.1" height="1.6" fill="#fff0b0" opacity="0.49"/><rect x="235.1" y="208.8" width="1.1" height="1.6" fill="#fff0b0" opacity="0.36"/><rect x="84.2" y="212.8" width="1.1" height="1.6" fill="#fff0b0" opacity="0.49"/><rect x="88.6" y="212.8" width="1.1" height="1.6" fill="#fff0b0" opacity="0.31"/><rect x="67.9" y="212.8" width="1.1" height="1.6" fill="#fff0b0" opacity="0.31"/><rect x="187.5" y="212.4" width="1.1" height="1.6" fill="#fff0b0" opacity="0.35"/><rect x="168.2" y="212.4" width="1.1" height="1.6" fill="#fff0b0" opacity="0.35"/><rect x="154.3" y="212.4" width="1.1" height="1.6" fill="#fff0b0" opacity="0.28"/><rect x="160.3" y="212.4" width="1.1" height="1.6" fill="#fff0b0" opacity="0.32"/><rect x="68.8" y="216.3" width="1.1" height="1.6" fill="#fff0b0" opacity="0.21"/><rect x="86.1" y="216.3" width="1.1" height="1.6" fill="#fff0b0" opacity="0.27"/><rect x="104.6" y="216.3" width="1.1" height="1.6" fill="#fff0b0" opacity="0.36"/><rect x="192.5" y="216.3" width="1.1" height="1.6" fill="#fff0b0" opacity="0.40"/><rect x="190.5" y="216.3" width="1.1" height="1.6" fill="#fff0b0" opacity="0.46"/><rect x="171.6" y="216.3" width="1.1" height="1.6" fill="#fff0b0" opacity="0.30"/><rect x="135.0" y="220.6" width="1.1" height="1.6" fill="#fff0b0" opacity="0.24"/><rect x="117.7" y="220.6" width="1.1" height="1.6" fill="#fff0b0" opacity="0.39"/><rect x="72.5" y="220.6" width="1.1" height="1.6" fill="#fff0b0" opacity="0.45"/><rect x="205.2" y="219.9" width="1.1" height="1.6" fill="#fff0b0" opacity="0.39"/><rect x="195.2" y="219.9" width="1.1" height="1.6" fill="#fff0b0" opacity="0.44"/><rect x="157.8" y="219.9" width="1.1" height="1.6" fill="#fff0b0" opacity="0.36"/><rect x="214.6" y="223.5" width="1.1" height="1.6" fill="#fff0b0" opacity="0.45"/><rect x="232.4" y="223.5" width="1.1" height="1.6" fill="#fff0b0" opacity="0.45"/><rect x="219.3" y="223.5" width="1.1" height="1.6" fill="#fff0b0" opacity="0.47"/><rect x="103.4" y="224.7" width="1.1" height="1.6" fill="#fff0b0" opacity="0.41"/><rect x="73.9" y="224.7" width="1.1" height="1.6" fill="#fff0b0" opacity="0.21"/><rect x="67.6" y="224.7" width="1.1" height="1.6" fill="#fff0b0" opacity="0.31"/><rect x="180.4" y="228.8" width="1.1" height="1.6" fill="#fff0b0" opacity="0.45"/><rect x="208.1" y="228.8" width="1.1" height="1.6" fill="#fff0b0" opacity="0.39"/><rect x="212.2" y="228.8" width="1.1" height="1.6" fill="#fff0b0" opacity="0.40"/><rect x="83.5" y="229.7" width="1.1" height="1.6" fill="#fff0b0" opacity="0.20"/><rect x="103.6" y="229.7" width="1.1" height="1.6" fill="#fff0b0" opacity="0.42"/><rect x="84.4" y="229.7" width="1.1" height="1.6" fill="#fff0b0" opacity="0.36"/><rect x="112.7" y="232.8" width="1.1" height="1.6" fill="#fff0b0" opacity="0.22"/><rect x="117.8" y="232.8" width="1.1" height="1.6" fill="#fff0b0" opacity="0.28"/><rect x="74.5" y="232.8" width="1.1" height="1.6" fill="#fff0b0" opacity="0.28"/><rect x="201.4" y="232.8" width="1.1" height="1.6" fill="#fff0b0" opacity="0.26"/><rect x="202.1" y="232.8" width="1.1" height="1.6" fill="#fff0b0" opacity="0.49"/><rect x="186.1" y="232.8" width="1.1" height="1.6" fill="#fff0b0" opacity="0.31"/><rect x="85.4" y="236.7" width="1.1" height="1.6" fill="#fff0b0" opacity="0.41"/><rect x="104.5" y="236.7" width="1.1" height="1.6" fill="#fff0b0" opacity="0.39"/><rect x="96.2" y="236.7" width="1.1" height="1.6" fill="#fff0b0" opacity="0.22"/><rect x="170.9" y="237.2" width="1.1" height="1.6" fill="#fff0b0" opacity="0.28"/><rect x="210.8" y="237.2" width="1.1" height="1.6" fill="#fff0b0" opacity="0.29"/><rect x="199.0" y="237.2" width="1.1" height="1.6" fill="#fff0b0" opacity="0.20"/><rect x="150.9" y="241.3" width="1.1" height="1.6" fill="#fff0b0" opacity="0.28"/><rect x="190.7" y="241.3" width="1.1" height="1.6" fill="#fff0b0" opacity="0.41"/><rect x="190.9" y="241.3" width="1.1" height="1.6" fill="#fff0b0" opacity="0.29"/><rect x="84.5" y="243.1" width="1.1" height="1.6" fill="#fff0b0" opacity="0.34"/><rect x="81.1" y="243.1" width="1.1" height="1.6" fill="#fff0b0" opacity="0.24"/><rect x="109.6" y="243.1" width="1.1" height="1.6" fill="#fff0b0" opacity="0.26"/><rect x="144.6" y="246.7" width="1.1" height="1.6" fill="#fff0b0" opacity="0.48"/><rect x="81.2" y="246.7" width="1.1" height="1.6" fill="#fff0b0" opacity="0.34"/><rect x="134.1" y="246.7" width="1.1" height="1.6" fill="#fff0b0" opacity="0.49"/><rect x="191.1" y="246.2" width="1.1" height="1.6" fill="#fff0b0" opacity="0.28"/><rect x="175.1" y="246.2" width="1.1" height="1.6" fill="#fff0b0" opacity="0.48"/><rect x="175.1" y="246.2" width="1.1" height="1.6" fill="#fff0b0" opacity="0.37"/><rect x="163.0" y="249.7" width="1.1" height="1.6" fill="#fff0b0" opacity="0.36"/><rect x="214.5" y="249.7" width="1.1" height="1.6" fill="#fff0b0" opacity="0.24"/><rect x="206.1" y="249.7" width="1.1" height="1.6" fill="#fff0b0" opacity="0.35"/><rect x="123.4" y="250.2" width="1.1" height="1.6" fill="#fff0b0" opacity="0.41"/><rect x="79.5" y="250.2" width="1.1" height="1.6" fill="#fff0b0" opacity="0.47"/><rect x="96.6" y="250.2" width="1.1" height="1.6" fill="#fff0b0" opacity="0.21"/><rect x="53.7" y="254.6" width="1.1" height="1.6" fill="#fff0b0" opacity="0.35"/><rect x="83.5" y="254.6" width="1.1" height="1.6" fill="#fff0b0" opacity="0.29"/><rect x="62.9" y="254.6" width="1.1" height="1.6" fill="#fff0b0" opacity="0.30"/><rect x="203.5" y="254.6" width="1.1" height="1.6" fill="#fff0b0" opacity="0.45"/><rect x="183.1" y="254.6" width="1.1" height="1.6" fill="#fff0b0" opacity="0.43"/><rect x="237.5" y="254.6" width="1.1" height="1.6" fill="#fff0b0" opacity="0.24"/><rect x="144.8" y="257.8" width="1.1" height="1.6" fill="#fff0b0" opacity="0.41"/><rect x="143.1" y="257.8" width="1.1" height="1.6" fill="#fff0b0" opacity="0.29"/><rect x="108.4" y="257.8" width="1.1" height="1.6" fill="#fff0b0" opacity="0.32"/><rect x="251.3" y="258.2" width="1.1" height="1.6" fill="#fff0b0" opacity="0.38"/><rect x="208.7" y="258.2" width="1.1" height="1.6" fill="#fff0b0" opacity="0.33"/><rect x="203.0" y="258.2" width="1.1" height="1.6" fill="#fff0b0" opacity="0.21"/><rect x="90.7" y="262.0" width="1.1" height="1.6" fill="#fff0b0" opacity="0.45"/><rect x="102.7" y="262.0" width="1.1" height="1.6" fill="#fff0b0" opacity="0.48"/><rect x="100.4" y="262.0" width="1.1" height="1.6" fill="#fff0b0" opacity="0.28"/><rect x="210.7" y="262.8" width="1.1" height="1.6" fill="#fff0b0" opacity="0.26"/><rect x="201.8" y="262.8" width="1.1" height="1.6" fill="#fff0b0" opacity="0.49"/><rect x="235.0" y="262.8" width="1.1" height="1.6" fill="#fff0b0" opacity="0.44"/><rect x="113.4" y="265.8" width="1.1" height="1.6" fill="#fff0b0" opacity="0.47"/><rect x="133.2" y="265.8" width="1.1" height="1.6" fill="#fff0b0" opacity="0.36"/><rect x="119.1" y="265.8" width="1.1" height="1.6" fill="#fff0b0" opacity="0.21"/><rect x="214.9" y="267.0" width="1.1" height="1.6" fill="#fff0b0" opacity="0.34"/><rect x="216.2" y="267.0" width="1.1" height="1.6" fill="#fff0b0" opacity="0.39"/><rect x="186.7" y="267.0" width="1.1" height="1.6" fill="#fff0b0" opacity="0.21"/><rect x="115.1" y="269.3" width="1.1" height="1.6" fill="#fff0b0" opacity="0.24"/><rect x="84.9" y="269.3" width="1.1" height="1.6" fill="#fff0b0" opacity="0.30"/><rect x="73.3" y="269.3" width="1.1" height="1.6" fill="#fff0b0" opacity="0.42"/><rect x="166.0" y="272.7" width="1.1" height="1.6" fill="#fff0b0" opacity="0.28"/><rect x="146.0" y="272.7" width="1.1" height="1.6" fill="#fff0b0" opacity="0.29"/><rect x="139.8" y="272.7" width="1.1" height="1.6" fill="#fff0b0" opacity="0.32"/><rect x="203.9" y="272.4" width="1.1" height="1.6" fill="#fff0b0" opacity="0.25"/><rect x="206.4" y="272.4" width="1.1" height="1.6" fill="#fff0b0" opacity="0.47"/><rect x="224.1" y="272.4" width="1.1" height="1.6" fill="#fff0b0" opacity="0.27"/><rect x="134.4" y="278.6" width="1.1" height="1.6" fill="#fff0b0" opacity="0.50"/><rect x="103.5" y="278.6" width="1.1" height="1.6" fill="#fff0b0" opacity="0.24"/><rect x="86.0" y="278.6" width="1.1" height="1.6" fill="#fff0b0" opacity="0.23"/><rect x="183.5" y="280.4" width="1.1" height="1.6" fill="#fff0b0" opacity="0.23"/><rect x="176.8" y="280.4" width="1.1" height="1.6" fill="#fff0b0" opacity="0.28"/><rect x="198.2" y="280.4" width="1.1" height="1.6" fill="#fff0b0" opacity="0.47"/><rect x="222.7" y="284.0" width="1.1" height="1.6" fill="#fff0b0" opacity="0.32"/><rect x="200.9" y="284.0" width="1.1" height="1.6" fill="#fff0b0" opacity="0.36"/><rect x="198.5" y="284.0" width="1.1" height="1.6" fill="#fff0b0" opacity="0.30"/><rect x="91.1" y="285.1" width="1.1" height="1.6" fill="#fff0b0" opacity="0.28"/><rect x="150.9" y="285.1" width="1.1" height="1.6" fill="#fff0b0" opacity="0.24"/><rect x="120.2" y="285.1" width="1.1" height="1.6" fill="#fff0b0" opacity="0.39"/><rect x="121.8" y="289.0" width="1.1" height="1.6" fill="#fff0b0" opacity="0.26"/><rect x="82.2" y="289.0" width="1.1" height="1.6" fill="#fff0b0" opacity="0.27"/><rect x="90.8" y="289.0" width="1.1" height="1.6" fill="#fff0b0" opacity="0.33"/><rect x="234.0" y="289.0" width="1.1" height="1.6" fill="#fff0b0" opacity="0.45"/><rect x="228.7" y="289.0" width="1.1" height="1.6" fill="#fff0b0" opacity="0.21"/><rect x="174.1" y="289.0" width="1.1" height="1.6" fill="#fff0b0" opacity="0.41"/><rect x="115.0" y="297.4" width="1.1" height="1.6" fill="#fff0b0" opacity="0.34"/><rect x="94.3" y="297.4" width="1.1" height="1.6" fill="#fff0b0" opacity="0.20"/><rect x="81.2" y="297.4" width="1.1" height="1.6" fill="#fff0b0" opacity="0.48"/><rect x="233.0" y="297.3" width="1.1" height="1.6" fill="#fff0b0" opacity="0.46"/><rect x="242.3" y="297.3" width="1.1" height="1.6" fill="#fff0b0" opacity="0.27"/><rect x="187.9" y="297.3" width="1.1" height="1.6" fill="#fff0b0" opacity="0.25"/><rect x="111.9" y="301.4" width="1.1" height="1.6" fill="#fff0b0" opacity="0.40"/><rect x="138.8" y="301.4" width="1.1" height="1.6" fill="#fff0b0" opacity="0.42"/><rect x="119.9" y="301.4" width="1.1" height="1.6" fill="#fff0b0" opacity="0.43"/><rect x="185.9" y="301.4" width="1.1" height="1.6" fill="#fff0b0" opacity="0.37"/><rect x="160.4" y="301.4" width="1.1" height="1.6" fill="#fff0b0" opacity="0.43"/><rect x="172.2" y="301.4" width="1.1" height="1.6" fill="#fff0b0" opacity="0.48"/><rect x="124.0" y="305.1" width="1.1" height="1.6" fill="#fff0b0" opacity="0.29"/><rect x="91.9" y="305.1" width="1.1" height="1.6" fill="#fff0b0" opacity="0.28"/><rect x="123.5" y="305.1" width="1.1" height="1.6" fill="#fff0b0" opacity="0.41"/><rect x="175.9" y="305.5" width="1.1" height="1.6" fill="#fff0b0" opacity="0.22"/><rect x="202.7" y="305.5" width="1.1" height="1.6" fill="#fff0b0" opacity="0.37"/><rect x="193.8" y="305.5" width="1.1" height="1.6" fill="#fff0b0" opacity="0.27"/><rect x="111.9" y="308.9" width="1.1" height="1.6" fill="#fff0b0" opacity="0.20"/><rect x="91.5" y="308.9" width="1.1" height="1.6" fill="#fff0b0" opacity="0.34"/><rect x="136.2" y="308.9" width="1.1" height="1.6" fill="#fff0b0" opacity="0.39"/><rect x="210.1" y="309.2" width="1.1" height="1.6" fill="#fff0b0" opacity="0.34"/><rect x="168.9" y="309.2" width="1.1" height="1.6" fill="#fff0b0" opacity="0.27"/><rect x="215.0" y="309.2" width="1.1" height="1.6" fill="#fff0b0" opacity="0.41"/><rect x="92.7" y="313.2" width="1.1" height="1.6" fill="#fff0b0" opacity="0.21"/><rect x="104.9" y="313.2" width="1.1" height="1.6" fill="#fff0b0" opacity="0.40"/><rect x="99.9" y="313.2" width="1.1" height="1.6" fill="#fff0b0" opacity="0.28"/><rect x="193.5" y="313.4" width="1.1" height="1.6" fill="#fff0b0" opacity="0.48"/><rect x="166.4" y="313.4" width="1.1" height="1.6" fill="#fff0b0" opacity="0.21"/><rect x="173.3" y="313.4" width="1.1" height="1.6" fill="#fff0b0" opacity="0.33"/><rect x="122.2" y="318.1" width="1.1" height="1.6" fill="#fff0b0" opacity="0.26"/><rect x="129.5" y="318.1" width="1.1" height="1.6" fill="#fff0b0" opacity="0.42"/><rect x="110.8" y="318.1" width="1.1" height="1.6" fill="#fff0b0" opacity="0.26"/><rect x="237.1" y="318.1" width="1.1" height="1.6" fill="#fff0b0" opacity="0.29"/><rect x="227.6" y="318.1" width="1.1" height="1.6" fill="#fff0b0" opacity="0.27"/><rect x="189.7" y="318.1" width="1.1" height="1.6" fill="#fff0b0" opacity="0.43"/><rect x="79.8" y="322.9" width="1.1" height="1.6" fill="#fff0b0" opacity="0.49"/><rect x="92.8" y="322.9" width="1.1" height="1.6" fill="#fff0b0" opacity="0.26"/><rect x="75.1" y="322.9" width="1.1" height="1.6" fill="#fff0b0" opacity="0.33"/><rect x="233.8" y="323.8" width="1.1" height="1.6" fill="#fff0b0" opacity="0.48"/><rect x="201.1" y="323.8" width="1.1" height="1.6" fill="#fff0b0" opacity="0.32"/><rect x="205.3" y="323.8" width="1.1" height="1.6" fill="#fff0b0" opacity="0.49"/><rect x="71.6" y="328.2" width="1.1" height="1.6" fill="#fff0b0" opacity="0.22"/><rect x="66.3" y="328.2" width="1.1" height="1.6" fill="#fff0b0" opacity="0.32"/><rect x="120.8" y="328.2" width="1.1" height="1.6" fill="#fff0b0" opacity="0.47"/><rect x="238.6" y="328.2" width="1.1" height="1.6" fill="#fff0b0" opacity="0.50"/><rect x="250.8" y="328.2" width="1.1" height="1.6" fill="#fff0b0" opacity="0.30"/><rect x="205.0" y="328.2" width="1.1" height="1.6" fill="#fff0b0" opacity="0.48"/><rect x="117.7" y="332.7" width="1.1" height="1.6" fill="#fff0b0" opacity="0.21"/><rect x="112.4" y="332.7" width="1.1" height="1.6" fill="#fff0b0" opacity="0.31"/><rect x="93.7" y="332.7" width="1.1" height="1.6" fill="#fff0b0" opacity="0.30"/><rect x="183.0" y="332.7" width="1.1" height="1.6" fill="#fff0b0" opacity="0.20"/><rect x="190.2" y="332.7" width="1.1" height="1.6" fill="#fff0b0" opacity="0.31"/><rect x="234.1" y="332.7" width="1.1" height="1.6" fill="#fff0b0" opacity="0.24"/><rect x="141.7" y="339.0" width="1.1" height="1.6" fill="#fff0b0" opacity="0.26"/><rect x="102.8" y="339.0" width="1.1" height="1.6" fill="#fff0b0" opacity="0.45"/><rect x="132.6" y="339.0" width="1.1" height="1.6" fill="#fff0b0" opacity="0.33"/><rect x="175.0" y="337.7" width="1.1" height="1.6" fill="#fff0b0" opacity="0.34"/><rect x="195.0" y="337.7" width="1.1" height="1.6" fill="#fff0b0" opacity="0.48"/><rect x="183.9" y="337.7" width="1.1" height="1.6" fill="#fff0b0" opacity="0.31"/><rect x="232.7" y="14.3" width="0.9" height="0.9" fill="#6a5a50" opacity="0.6"/><rect x="113.1" y="280.8" width="0.9" height="0.9" fill="#6a5a50" opacity="0.6"/><rect x="200.6" y="17.9" width="0.9" height="0.9" fill="#6a5a50" opacity="0.6"/><rect x="20.6" y="25.3" width="0.9" height="0.9" fill="#6a5a50" opacity="0.6"/><rect x="238.3" y="91.6" width="0.9" height="0.9" fill="#6a5a50" opacity="0.6"/><rect x="195.8" y="310.4" width="0.9" height="0.9" fill="#6a5a50" opacity="0.6"/><rect x="95.4" y="96.9" width="0.9" height="0.9" fill="#6a5a50" opacity="0.6"/><rect x="247.6" y="214.4" width="0.9" height="0.9" fill="#6a5a50" opacity="0.6"/><rect x="76.5" y="248.4" width="0.9" height="0.9" fill="#6a5a50" opacity="0.6"/><rect x="89.9" y="98.0" width="0.9" height="0.9" fill="#6a5a50" opacity="0.6"/><rect x="12.9" y="261.7" width="0.9" height="0.9" fill="#6a5a50" opacity="0.6"/><rect x="237.4" y="220.2" width="0.9" height="0.9" fill="#6a5a50" opacity="0.6"/><rect x="244.0" y="12.3" width="0.9" height="0.9" fill="#6a5a50" opacity="0.6"/><rect x="69.5" y="166.0" width="0.9" height="0.9" fill="#6a5a50" opacity="0.6"/><rect x="247.4" y="329.3" width="0.9" height="0.9" fill="#6a5a50" opacity="0.6"/><rect x="107.1" y="89.6" width="0.9" height="0.9" fill="#6a5a50" opacity="0.6"/><rect x="117.8" y="172.3" width="0.9" height="0.9" fill="#6a5a50" opacity="0.6"/><rect x="240.3" y="66.4" width="0.9" height="0.9" fill="#6a5a50" opacity="0.6"/><rect x="209.4" y="255.8" width="0.9" height="0.9" fill="#6a5a50" opacity="0.6"/><rect x="214.4" y="267.5" width="0.9" height="0.9" fill="#6a5a50" opacity="0.6"/><rect x="161.4" y="115.8" width="0.9" height="0.9" fill="#6a5a50" opacity="0.6"/><rect x="90.6" y="127.4" width="0.9" height="0.9" fill="#6a5a50" opacity="0.6"/><rect x="204.4" y="30.9" width="0.9" height="0.9" fill="#6a5a50" opacity="0.6"/><rect x="60.5" y="260.7" width="0.9" height="0.9" fill="#6a5a50" opacity="0.6"/><rect x="72.8" y="26.1" width="0.9" height="0.9" fill="#6a5a50" opacity="0.6"/><rect x="20.3" y="192.4" width="0.9" height="0.9" fill="#6a5a50" opacity="0.6"/><rect x="92.1" y="338.3" width="0.9" height="0.9" fill="#6a5a50" opacity="0.6"/><rect x="229.3" y="340.8" width="0.9" height="0.9" fill="#6a5a50" opacity="0.6"/><rect x="77.2" y="32.7" width="0.9" height="0.9" fill="#6a5a50" opacity="0.6"/><rect x="35.7" y="174.0" width="0.9" height="0.9" fill="#6a5a50" opacity="0.6"/><rect x="186.6" y="156.4" width="0.9" height="0.9" fill="#6a5a50" opacity="0.6"/><rect x="69.6" y="146.1" width="0.9" height="0.9" fill="#6a5a50" opacity="0.6"/><rect x="164.6" y="233.9" width="0.9" height="0.9" fill="#6a5a50" opacity="0.6"/><rect x="196.0" y="292.8" width="0.9" height="0.9" fill="#6a5a50" opacity="0.6"/><rect x="175.4" y="45.3" width="0.9" height="0.9" fill="#6a5a50" opacity="0.6"/><rect x="218.9" y="104.2" width="0.9" height="0.9" fill="#6a5a50" opacity="0.6"/><rect x="151.5" y="131.2" width="0.9" height="0.9" fill="#6a5a50" opacity="0.6"/><rect x="193.6" y="71.9" width="0.9" height="0.9" fill="#6a5a50" opacity="0.6"/><rect x="72.9" y="87.7" width="0.9" height="0.9" fill="#6a5a50" opacity="0.6"/><rect x="49.7" y="305.5" width="0.9" height="0.9" fill="#6a5a50" opacity="0.6"/><rect x="154.3" y="115.3" width="0.9" height="0.9" fill="#6a5a50" opacity="0.6"/><rect x="109.4" y="342.4" width="0.9" height="0.9" fill="#6a5a50" opacity="0.6"/><rect x="136.8" y="82.9" width="0.9" height="0.9" fill="#6a5a50" opacity="0.6"/><rect x="210.9" y="226.8" width="0.9" height="0.9" fill="#6a5a50" opacity="0.6"/><rect x="255.8" y="38.9" width="0.9" height="0.9" fill="#6a5a50" opacity="0.6"/><rect x="128.8" y="283.3" width="0.9" height="0.9" fill="#6a5a50" opacity="0.6"/><rect x="218.8" y="315.8" width="0.9" height="0.9" fill="#6a5a50" opacity="0.6"/><rect x="21.9" y="104.1" width="0.9" height="0.9" fill="#6a5a50" opacity="0.6"/><rect x="41.3" y="68.6" width="0.9" height="0.9" fill="#6a5a50" opacity="0.6"/><rect x="251.3" y="202.9" width="0.9" height="0.9" fill="#6a5a50" opacity="0.6"/><rect x="240.8" y="130.9" width="0.9" height="0.9" fill="#6a5a50" opacity="0.6"/><rect x="225.1" y="157.1" width="0.9" height="0.9" fill="#6a5a50" opacity="0.6"/><rect x="75.9" y="269.2" width="0.9" height="0.9" fill="#6a5a50" opacity="0.6"/><rect x="244.6" y="40.1" width="0.9" height="0.9" fill="#6a5a50" opacity="0.6"/><rect x="158.7" y="215.4" width="0.9" height="0.9" fill="#6a5a50" opacity="0.6"/><rect x="65.5" y="129.7" width="0.9" height="0.9" fill="#6a5a50" opacity="0.6"/><rect x="46.8" y="73.6" width="0.9" height="0.9" fill="#6a5a50" opacity="0.6"/><rect x="74.7" y="208.4" width="0.9" height="0.9" fill="#6a5a50" opacity="0.6"/><rect x="172.3" y="73.4" width="0.9" height="0.9" fill="#6a5a50" opacity="0.6"/><rect x="14.8" y="115.6" width="0.9" height="0.9" fill="#6a5a50" opacity="0.6"/></g></g>
<g filter="url(#soft)"><text transform="translate(8.9,54.4) rotate(-90)" font-size="9.6" textLength="48.4" lengthAdjust="spacingAndGlyphs">Detector #1</text></g>
<defs><filter id="soft" x="-2%" y="-2%" width="104%" height="104%"><feGaussianBlur stdDeviation="0.28"/></filter></defs>
<g filter="url(#soft)"><clipPath id="ax"><rect x="329.5" y="49.3" width="375.0" height="254.39999999999998"/></clipPath><g clip-path="url(#ax)"><polyline points="346.75,62.50 347.50,68.00 348.75,73.75 349.50,66.00 350.50,65.00 351.50,70.00 352.50,75.00 354.00,78.00 355.00,80.00 356.50,84.00 357.50,86.25 359.00,90.00 360.00,93.75 361.00,92.00 362.50,95.00 364.00,99.00 365.00,102.50 366.00,96.00 367.00,97.34 368.00,97.00 369.00,98.94 370.00,99.00 370.83,99.38 371.67,99.17 372.50,100.00 373.33,100.54 374.17,102.52 375.00,103.75 375.83,103.84 376.67,104.32 377.50,106.00 378.33,107.46 379.17,108.75 380.00,110.00 380.83,112.02 381.67,112.74 382.50,115.00 383.33,115.84 384.17,116.62 385.00,117.50 385.83,117.35 386.67,119.52 387.50,120.00 388.33,120.88 389.17,122.89 390.00,122.00 390.83,122.72 391.67,123.07 392.50,123.75 393.33,125.30 394.17,125.38 395.00,126.00 395.83,127.51 396.67,127.60 397.50,128.75 398.33,129.64 399.17,130.92 400.00,131.00 400.83,132.37 401.67,132.92 402.50,133.75 403.33,133.80 404.17,135.54 405.00,136.00 405.83,136.97 406.67,138.30 407.50,138.75 408.33,139.14 409.17,139.96 410.00,139.50 410.83,139.63 411.67,139.96 412.50,140.00 413.50,140.18 414.50,139.50 415.38,139.04 416.25,140.00 417.12,139.24 418.00,139.00 419.00,138.17 420.00,138.00 420.83,139.79 421.67,138.94 422.50,139.50 423.50,140.92 424.50,141.50 425.38,143.03 426.25,143.75 427.12,144.44 428.00,145.50 429.00,145.49 430.00,147.50 431.00,149.38 432.00,150.00 432.88,150.99 433.75,152.50 435.00,154.00 436.25,155.00 437.30,147.00 438.25,137.50 439.00,132.00 439.60,137.00 440.00,142.50 441.25,160.00 442.08,162.13 442.92,162.48 443.75,165.00 444.58,166.80 445.42,169.98 446.25,171.25 447.12,171.81 448.00,170.50 449.00,170.65 450.00,172.50 451.00,171.38 452.00,172.00 452.88,172.85 453.75,173.75 454.62,173.85 455.50,173.00 456.50,173.85 457.50,174.50 459.00,173.50 460.00,175.00 460.83,176.86 461.67,177.69 462.50,180.00 463.33,180.80 464.17,181.56 465.00,181.25 465.83,182.63 466.67,183.65 467.50,186.25 468.33,187.84 469.17,190.91 470.00,192.50 470.83,193.04 471.67,195.77 472.50,197.50 473.33,198.52 474.17,200.75 475.00,202.50 476.25,195.00 477.50,190.00 478.75,195.00 480.00,200.00 481.25,205.00 482.00,210.00 483.00,213.75 484.50,214.50 485.38,214.59 486.25,215.00 487.50,213.00 488.75,211.25 490.00,213.00 491.25,215.00 492.50,197.50 493.50,182.00 494.50,202.50 495.50,217.00 496.50,219.14 497.50,221.25 498.50,222.60 499.50,222.00 500.38,222.52 501.25,222.50 502.08,225.03 502.92,225.74 503.75,227.50 505.00,223.00 506.25,218.75 507.50,230.00 508.75,240.00 509.58,240.10 510.42,241.08 511.25,241.25 512.08,240.66 512.92,243.72 513.75,245.00 514.58,247.19 515.42,248.36 516.25,251.25 517.50,248.00 518.75,247.50 520.00,249.50 521.25,248.75 522.08,250.47 522.92,251.22 523.75,253.00 524.62,251.65 525.50,253.50 526.50,253.11 527.50,253.00 528.50,252.11 529.50,252.50 530.38,251.91 531.25,252.00 532.08,250.82 532.92,250.65 533.75,248.75 534.62,246.94 535.50,245.00 537.00,230.00 538.00,210.00 539.00,180.00 540.25,145.00 541.00,128.00 541.50,118.00 542.25,130.00 543.50,155.00 545.00,200.00 545.70,218.00 546.40,223.50 547.30,222.00 548.00,214.00 548.60,203.00 549.75,197.00 551.00,203.00 552.50,212.00 553.33,214.23 554.17,216.75 555.00,218.75 555.83,219.24 556.67,222.89 557.50,223.75 558.33,226.80 559.17,231.54 560.00,235.00 560.83,236.77 561.67,239.37 562.50,242.50 563.33,244.74 564.17,248.73 565.00,250.00 565.94,252.02 566.88,252.73 567.81,254.50 568.75,256.25 569.58,255.92 570.42,257.06 571.25,257.50 572.50,250.00 573.38,242.13 574.25,235.00 575.50,250.00 576.50,253.59 577.50,256.25 578.33,254.53 579.17,254.37 580.00,253.75 580.83,254.87 581.67,256.62 582.50,258.75 583.33,260.46 584.17,261.33 585.00,262.50 585.83,263.30 586.67,264.11 587.50,263.75 588.33,264.08 589.17,262.03 590.00,262.50 590.83,262.85 591.67,261.36 592.50,262.50 593.50,259.96 594.50,257.50 595.50,247.50 596.25,230.00 596.75,200.00 597.25,140.00 597.60,200.00 598.00,235.00 599.00,257.50 600.12,261.25 601.25,262.50 602.08,263.62 602.92,264.76 603.75,266.25 604.62,261.36 605.50,256.25 606.50,257.51 607.50,258.75 608.33,261.68 609.17,264.09 610.00,267.50 611.00,271.54 612.00,274.74 613.00,277.50 614.00,269.86 615.00,262.50 615.83,262.70 616.67,262.93 617.50,262.50 618.50,262.34 619.50,261.09 620.50,260.00 621.50,264.20 622.50,267.50 623.44,268.58 624.38,269.30 625.31,270.93 626.25,272.50 627.19,274.10 628.12,275.01 629.06,275.41 630.00,276.25 630.94,276.51 631.88,277.70 632.81,279.21 633.75,278.75 634.69,279.01 635.62,277.06 636.56,276.85 637.50,276.25 638.38,267.18 639.25,260.00 640.75,212.50 641.75,242.50 643.00,256.25 643.75,255.00 645.00,270.00 645.83,271.02 646.67,275.24 647.50,277.50 648.44,278.47 649.38,280.63 650.31,281.96 651.25,281.25 652.19,282.96 653.12,284.22 654.06,282.41 655.00,283.75 655.94,282.59 656.88,285.03 657.81,288.17 658.75,285.00 659.58,286.30 660.42,285.17 661.25,287.50 662.08,289.07 662.92,291.85 663.75,291.25 664.58,288.66 665.42,289.79 666.25,287.50 667.08,285.04 667.92,285.82 668.75,282.50 669.58,283.10 670.42,282.06 671.25,281.25 672.08,282.60 672.92,278.22 673.75,277.50 675.00,260.00 676.25,273.75 677.08,269.14 677.92,266.62 678.75,261.25 679.62,252.56 680.50,245.00 682.00,225.00 683.00,222.00 684.50,230.00 685.38,238.93 686.25,245.00 687.50,248.75" fill="none" stroke="#3b7cb3" stroke-width="1.1" stroke-linejoin="round"/><polyline points="346.75,60.50 348.00,68.75 349.00,64.00 350.00,65.50 351.00,70.00 352.50,75.00 354.00,79.00 355.00,82.50 356.00,81.00 357.50,86.00 359.00,88.00 360.00,90.00 361.00,88.00 362.50,90.00 363.75,93.75 365.00,95.00 366.25,97.50 367.12,98.77 368.00,97.00 369.00,97.44 370.00,98.75 371.00,100.13 372.00,101.00 372.88,101.85 373.75,102.50 374.62,102.29 375.50,101.00 376.50,100.84 377.50,102.50 379.00,106.00 380.00,108.75 380.83,110.15 381.67,111.59 382.50,113.75 383.33,113.80 384.17,114.70 385.00,116.00 386.00,115.17 387.00,115.00 387.88,115.81 388.75,117.00 389.62,115.66 390.50,115.50 391.50,116.02 392.50,116.00 393.50,116.39 394.50,117.50 395.38,116.05 396.25,118.75 397.12,118.65 398.00,117.00 399.00,116.95 400.00,117.40 400.85,117.57 401.70,118.87 402.55,119.50 403.40,120.00 404.27,120.60 405.13,120.58 406.00,121.70 406.88,121.17 407.75,119.40 408.62,120.69 409.50,119.10 410.38,117.30 411.25,117.02 412.12,116.19 413.00,115.20 413.85,114.39 414.70,113.14 415.55,112.66 416.40,111.40 417.27,107.57 418.13,108.31 419.00,107.00 419.87,105.98 420.73,104.97 421.60,104.50 422.45,104.99 423.30,102.93 424.15,103.09 425.00,102.80 425.87,101.09 426.73,102.29 427.60,101.90 428.65,102.91 429.70,106.20 430.80,103.79 431.90,103.60 432.77,103.92 433.63,101.71 434.50,100.20 435.33,99.24 436.17,98.49 437.00,97.60 437.90,90.97 438.80,86.40 439.65,90.37 440.50,95.90 441.37,96.93 442.23,96.09 443.10,98.40 443.98,99.59 444.85,99.37 445.73,101.69 446.60,102.80 447.43,101.12 448.27,102.14 449.10,100.20 450.00,98.63 450.90,95.90 451.73,94.61 452.57,92.83 453.40,93.30 454.30,94.00 455.20,95.90 456.07,94.91 456.93,93.43 457.80,93.30 458.63,92.53 459.47,92.13 460.30,90.70 461.20,90.58 462.10,90.70 462.97,89.06 463.83,88.60 464.70,86.90 465.55,88.07 466.40,89.80 467.25,91.17 468.10,91.60 468.97,91.87 469.83,93.71 470.70,93.30 471.55,93.88 472.40,95.00 473.27,93.35 474.13,93.25 475.00,92.40 476.50,88.00 477.60,85.50 478.50,90.00 479.30,94.10 480.33,94.46 481.37,95.13 482.40,96.70 483.45,95.68 484.50,95.00 485.35,94.96 486.20,94.10 487.05,90.04 487.90,89.00 488.77,88.29 489.63,87.62 490.50,87.20 491.70,84.70 492.50,79.00 493.10,76.90 493.80,79.00 494.50,82.00 495.70,87.20 496.57,87.49 497.43,88.58 498.30,88.60 499.17,88.05 500.03,89.75 500.90,89.80 501.73,91.60 502.57,93.86 503.40,95.90 504.27,97.11 505.13,98.47 506.00,100.20 506.90,102.77 507.80,106.20 508.90,112.04 510.00,117.50 511.00,122.60 512.50,130.00 513.35,135.51 514.20,138.40 515.40,146.17 516.60,152.70 517.40,154.34 518.20,155.00 519.35,154.90 520.50,154.20 521.70,156.21 522.90,159.00 524.10,160.08 525.30,160.50 526.10,159.85 526.90,156.60 528.05,154.49 529.20,154.20 530.27,152.58 531.33,150.60 532.40,147.90 533.60,146.07 534.80,144.00 535.95,139.31 537.10,133.70 537.90,129.01 538.70,122.60 539.50,110.00 540.25,100.00 541.00,77.50 542.00,72.00 543.00,77.50 544.25,100.00 545.80,125.80 546.60,129.55 547.40,130.50 548.20,128.15 549.00,124.20 550.50,117.90 551.30,120.89 552.10,121.80 553.05,122.32 554.00,122.50 554.75,98.75 555.50,122.50 556.50,123.00 557.50,122.57 558.50,122.50 559.33,122.15 560.17,121.15 561.00,121.00 561.83,121.49 562.67,122.08 563.50,121.25 564.33,121.35 565.17,121.88 566.00,122.00 566.83,122.12 567.67,121.48 568.50,121.25 569.50,121.21 570.50,120.00 571.38,119.51 572.25,118.75 573.30,114.00 574.25,112.50 575.20,116.00 576.00,118.75 576.83,118.03 577.67,118.21 578.50,119.00 579.33,119.11 580.17,118.72 581.00,118.00 581.83,119.03 582.67,118.80 583.50,119.00 584.33,119.02 585.17,117.77 586.00,118.75 586.83,119.89 587.67,118.62 588.50,119.50 589.33,120.16 590.17,118.73 591.00,119.50 592.00,119.04 593.00,119.50 593.88,119.83 594.75,120.00 596.00,100.00 596.75,68.00 597.75,100.00 599.00,121.25 600.00,122.20 601.00,123.75 602.00,122.39 603.00,122.00 603.88,122.82 604.75,122.50 605.58,123.34 606.42,123.57 607.25,123.75 608.12,125.38 609.00,127.50 609.75,130.00 610.50,137.00 611.00,155.00 612.00,168.19 613.00,182.50 614.25,155.00 615.50,130.00 616.00,128.75 617.25,131.25 618.50,130.00 619.33,130.50 620.17,131.31 621.00,132.50 621.94,133.34 622.88,134.74 623.81,135.00 624.75,136.00 626.00,138.75 626.83,139.05 627.67,140.00 628.50,142.08 629.33,142.18 630.17,143.06 631.00,143.75 631.83,144.76 632.67,145.79 633.50,146.33 634.33,147.84 635.17,148.44 636.00,148.75 637.00,149.02 638.00,153.00 638.90,153.75 639.80,154.70 641.00,138.60 641.80,154.62 642.60,166.80 643.50,157.56 644.40,150.00 645.55,150.73 646.70,151.30 648.00,153.50 649.00,157.50 649.85,155.95 650.70,153.00 652.25,153.75 653.19,154.68 654.12,156.49 655.06,155.24 656.00,157.50 656.94,157.12 657.88,159.17 658.81,159.54 659.75,161.25 660.88,161.25 662.00,163.50 663.00,163.84 664.00,163.00 665.00,162.53 666.00,161.50 667.50,160.00 669.00,155.50 670.30,156.00 671.00,160.00 672.00,159.51 673.00,159.00 673.90,157.58 674.80,157.00 675.65,161.02 676.50,164.50 678.00,162.00 679.40,161.00 680.20,156.87 681.00,153.00 682.00,145.00 682.80,138.60 683.70,141.32 684.60,145.00 685.45,144.73 686.30,143.80 687.50,144.40" fill="none" stroke="#f08c32" stroke-width="1.1" stroke-linejoin="round"/></g><rect x="329.5" y="49.3" width="375.0" height="254.39999999999998" fill="none" stroke="#222" stroke-width="0.9"/><g stroke="#222" stroke-width="0.85"><line x1="326.2" y1="60.5" x2="329.5" y2="60.5"/><line x1="326.2" y1="265.5" x2="329.5" y2="265.5"/><line x1="327.6" y1="203.79" x2="329.5" y2="203.79"/><line x1="327.6" y1="167.69" x2="329.5" y2="167.69"/><line x1="327.6" y1="142.08" x2="329.5" y2="142.08"/><line x1="327.6" y1="122.21" x2="329.5" y2="122.21"/><line x1="327.6" y1="105.98" x2="329.5" y2="105.98"/><line x1="327.6" y1="92.25" x2="329.5" y2="92.25"/><line x1="327.6" y1="80.37" x2="329.5" y2="80.37"/><line x1="327.6" y1="69.88" x2="329.5" y2="69.88"/><line x1="327.6" y1="297.25" x2="329.5" y2="297.25"/><line x1="327.6" y1="285.37" x2="329.5" y2="285.37"/><line x1="327.6" y1="274.88" x2="329.5" y2="274.88"/><line x1="375.40" y1="303.7" x2="375.40" y2="307.0"/><line x1="447.95" y1="303.7" x2="447.95" y2="307.0"/><line x1="520.50" y1="303.7" x2="520.50" y2="307.0"/><line x1="593.05" y1="303.7" x2="593.05" y2="307.0"/><line x1="665.60" y1="303.7" x2="665.60" y2="307.0"/></g><text x="375.40" y="317.4" font-size="9.9" text-anchor="middle">1</text><text x="447.95" y="317.4" font-size="9.9" text-anchor="middle">2</text><text x="520.50" y="317.4" font-size="9.9" text-anchor="middle">3</text><text x="593.05" y="317.4" font-size="9.9" text-anchor="middle">4</text><text x="665.60" y="317.4" font-size="9.9" text-anchor="middle">5</text><text x="298.9" y="64.1" font-size="10.3" textLength="10.6" lengthAdjust="spacingAndGlyphs">10</text><text x="310.4" y="60.6" font-size="7.4" textLength="12.2" lengthAdjust="spacingAndGlyphs">−10</text><text x="298.9" y="269.1" font-size="10.3" textLength="10.6" lengthAdjust="spacingAndGlyphs">10</text><text x="310.4" y="265.8" font-size="7.4" textLength="12.2" lengthAdjust="spacingAndGlyphs">−11</text><text x="345.2" y="43.3" font-size="10.5" textLength="343.5" lengthAdjust="spacingAndGlyphs">NIRSpec MOS spectroscopy - Galactic Center region - PID=1448</text><text x="465.6" y="330" font-size="10.3" textLength="103.8" lengthAdjust="spacingAndGlyphs">wavelength (in micron)</text><text transform="translate(292.7,276.8) rotate(-90)" x="0" y="0" font-size="10.2" textLength="200.2" lengthAdjust="spacingAndGlyphs">surface brightness (in W m-2 m-1 arcsec-2)</text><rect x="334" y="269.5" width="148" height="30.2" rx="2" ry="2" fill="#fff" fill-opacity="0.85" stroke="#d0d0d0" stroke-width="0.8"/><line x1="337.4" y1="276.7" x2="356" y2="276.7" stroke="#3a7db4" stroke-width="1.05"/><line x1="337.4" y1="290.3" x2="356" y2="290.3" stroke="#f08a2a" stroke-width="1.05"/><text x="362.6" y="279.4" font-size="9.6" textLength="116.6" lengthAdjust="spacingAndGlyphs">slitlet1x5_006_1_195_034</text><text x="362.6" y="293.2" font-size="9.6" textLength="116.6" lengthAdjust="spacingAndGlyphs">slitlet1x5_065_2_230_028</text></g>
</svg>
</body></html>
